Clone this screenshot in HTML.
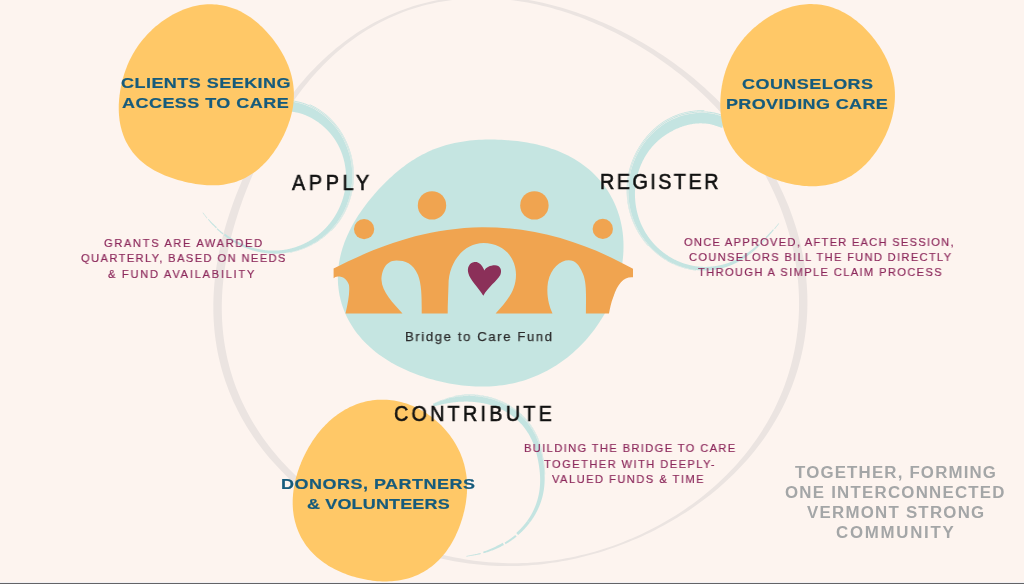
<!DOCTYPE html>
<html><head><meta charset="utf-8"><style>
html,body{margin:0;padding:0;width:1024px;height:584px;overflow:hidden;background:#fdf4ef}
svg{position:absolute;left:0;top:0}
.t{position:absolute;white-space:nowrap;font-family:"Liberation Sans",sans-serif;line-height:40px;transform-origin:0 0;will-change:transform}
</style></head><body>
<svg width="1024" height="584" viewBox="0 0 1024 584">
<rect width="1024" height="584" fill="#fdf4ef"/>
<path d="M222.81,285.13 L223.29,280.16 L223.87,275.22 L224.53,270.28 L225.27,265.37 L226.10,260.48 L227.01,255.60 L227.99,250.75 L229.04,245.92 L230.16,241.11 L231.35,236.32 L232.61,231.56 L233.93,226.82 L235.31,222.10 L236.75,217.41 L238.24,212.74 L239.79,208.09 L241.40,203.47 L243.05,198.87 L244.76,194.29 L246.51,189.73 L248.31,185.20 L250.16,180.68 L252.06,176.19 L254.01,171.72 L256.00,167.27 L258.04,162.84 L260.12,158.43 L262.25,154.04 L264.43,149.68 L266.66,145.33 L268.94,141.01 L271.28,136.70 L273.66,132.43 L276.10,128.17 L278.59,123.94 L281.14,119.74 L283.74,115.57 L286.41,111.42 L289.14,107.31 L291.93,103.23 L294.78,99.18 L297.70,95.17 L300.69,91.21 L303.74,87.28 L306.87,83.40 L310.07,79.57 L313.34,75.79 L316.68,72.06 L320.09,68.40 L323.58,64.79 L327.15,61.25 L330.79,57.77 L334.50,54.36 L338.29,51.03 L342.15,47.78 L346.09,44.61 L350.10,41.52 L354.18,38.52 L358.33,35.61 L362.55,32.80 L366.84,30.08 L371.19,27.46 L375.60,24.94 L380.08,22.53 L384.61,20.22 L389.20,18.02 L393.84,15.94 L398.53,13.96 L403.27,12.10 L408.05,10.36 L412.88,8.73 L417.74,7.22 L422.63,5.83 L427.55,4.56 L432.50,3.40 L437.48,2.36 L442.47,1.44 L447.49,0.64 L452.51,-0.05 L457.55,-0.62 L462.59,-1.08 L467.64,-1.42 L472.68,-1.66 L477.73,-1.78 L482.77,-1.80 L487.80,-1.71 L492.83,-1.51 L497.84,-1.22 L502.84,-0.82 L507.82,-0.33 L512.78,0.26 L517.72,0.93 L522.64,1.70 L527.53,2.56 L532.40,3.50 L537.25,4.52 L542.06,5.63 L546.85,6.81 L551.61,8.07 L556.34,9.40 L561.04,10.81 L565.70,12.28 L570.33,13.82 L574.94,15.43 L579.50,17.10 L584.04,18.83 L588.54,20.63 L593.01,22.48 L597.45,24.39 L601.85,26.36 L606.22,28.38 L610.55,30.46 L614.85,32.59 L619.12,34.77 L623.36,37.01 L627.56,39.30 L631.72,41.64 L635.85,44.03 L639.95,46.47 L644.02,48.96 L648.05,51.49 L652.04,54.08 L656.00,56.72 L659.93,59.41 L663.82,62.14 L667.67,64.93 L671.49,67.76 L675.27,70.64 L679.02,73.57 L682.72,76.56 L686.39,79.59 L690.02,82.67 L693.61,85.80 L697.16,88.98 L700.67,92.21 L704.14,95.49 L707.56,98.82 L710.94,102.19 L714.28,105.62 L717.57,109.10 L720.82,112.63 L724.02,116.21 L727.17,119.84 L730.27,123.52 L733.32,127.25 L736.32,131.03 L739.27,134.86 L742.17,138.74 L745.01,142.66 L747.79,146.64 L750.52,150.66 L753.19,154.73 L755.80,158.85 L758.35,163.01 L760.83,167.22 L763.26,171.48 L765.62,175.78 L767.91,180.13 L770.13,184.52 L772.28,188.96 L774.37,193.44 L776.38,197.96 L778.32,202.52 L780.18,207.12 L781.96,211.75 L783.67,216.43 L785.29,221.14 L786.83,225.89 L788.29,230.67 L789.67,235.49 L790.95,240.33 L792.15,245.21 L793.26,250.11 L794.27,255.04 L795.19,259.99 L796.02,264.97 L796.75,269.97 L797.38,274.98 L797.92,280.02 L798.35,285.06 L798.68,290.13 L798.91,295.20 L799.03,300.27 L799.05,305.36 L798.96,310.45 L798.77,315.53 L798.46,320.62 L798.05,325.70 L797.53,330.78 L796.90,335.84 L796.16,340.89 L795.31,345.93 L794.35,350.95 L793.28,355.95 L792.10,360.93 L790.81,365.88 L789.41,370.80 L787.91,375.70 L786.30,380.56 L784.58,385.38 L782.75,390.17 L780.82,394.91 L778.79,399.61 L776.66,404.27 L774.43,408.88 L772.10,413.44 L769.67,417.94 L767.15,422.40 L764.54,426.80 L761.83,431.14 L759.04,435.42 L756.16,439.64 L753.20,443.80 L750.15,447.90 L747.03,451.93 L743.83,455.90 L740.55,459.80 L737.20,463.63 L733.79,467.40 L730.30,471.09 L726.75,474.72 L723.13,478.28 L719.46,481.76 L715.73,485.18 L711.94,488.52 L708.10,491.80 L704.20,495.00 L700.26,498.13 L696.26,501.18 L692.23,504.17 L688.14,507.09 L684.02,509.93 L679.85,512.70 L675.65,515.40 L671.40,518.03 L667.13,520.58 L662.81,523.07 L658.46,525.48 L654.08,527.82 L649.67,530.09 L645.23,532.29 L640.76,534.41 L636.26,536.47 L631.74,538.45 L627.19,540.36 L622.62,542.19 L618.02,543.95 L613.39,545.64 L608.75,547.25 L604.09,548.79 L599.40,550.26 L594.70,551.64 L589.97,552.96 L585.24,554.19 L580.48,555.35 L575.71,556.43 L570.92,557.44 L566.13,558.36 L561.32,559.21 L556.49,559.97 L551.66,560.66 L546.82,561.26 L541.98,561.79 L537.13,562.23 L532.27,562.60 L527.41,562.88 L522.55,563.08 L517.68,563.20 L512.82,563.24 L507.96,563.19 L503.10,563.07 L498.24,562.87 L493.39,562.58 L488.55,562.21 L483.71,561.77 L478.89,561.24 L474.07,560.64 L469.26,559.96 L464.47,559.20 L459.69,558.36 L454.93,557.45 L450.18,556.47 L445.44,555.40 L440.72,554.27 L436.02,553.06 L431.34,551.78 L426.68,550.43 L422.04,549.01 L417.41,547.52 L412.81,545.95 L408.23,544.33 L403.68,542.63 L399.14,540.87 L394.63,539.04 L390.15,537.14 L385.68,535.18 L381.25,533.15 L376.84,531.06 L372.45,528.90 L368.10,526.68 L363.77,524.39 L359.47,522.04 L355.20,519.63 L350.96,517.15 L346.76,514.61 L342.58,512.00 L338.45,509.32 L334.34,506.59 L330.28,503.78 L326.25,500.91 L322.27,497.97 L318.32,494.97 L314.42,491.89 L310.57,488.76 L306.77,485.55 L303.01,482.27 L299.31,478.93 L295.67,475.52 L292.08,472.04 L288.55,468.49 L285.09,464.87 L281.69,461.18 L278.36,457.43 L275.10,453.60 L271.91,449.72 L268.80,445.76 L265.78,441.74 L262.83,437.65 L259.97,433.50 L257.20,429.29 L254.51,425.02 L251.93,420.69 L249.43,416.30 L247.04,411.86 L244.74,407.36 L242.55,402.81 L240.46,398.21 L238.48,393.57 L236.61,388.88 L234.84,384.15 L233.19,379.38 L231.65,374.57 L230.21,369.73 L228.90,364.86 L227.69,359.96 L226.60,355.04 L225.62,350.10 L224.76,345.13 L224.01,340.15 L223.37,335.16 L222.84,330.16 L222.42,325.15 L222.10,320.14 L221.90,315.12 L221.80,310.11 L221.80,305.10 L221.91,300.09 L222.11,295.09 L222.41,290.10Z M213.93,289.52 L213.62,294.67 L213.42,299.84 L213.33,305.02 L213.34,310.20 L213.47,315.40 L213.70,320.59 L214.05,325.78 L214.51,330.97 L215.09,336.16 L215.79,341.33 L216.61,346.49 L217.54,351.63 L218.60,356.75 L219.77,361.85 L221.06,366.92 L222.47,371.96 L224.00,376.97 L225.65,381.93 L227.41,386.86 L229.28,391.75 L231.27,396.59 L233.37,401.38 L235.58,406.12 L237.90,410.80 L240.32,415.43 L242.84,419.99 L245.47,424.50 L248.19,428.94 L251.00,433.32 L253.91,437.64 L256.90,441.88 L259.98,446.06 L263.15,450.16 L266.39,454.20 L269.71,458.16 L273.10,462.05 L276.56,465.87 L280.09,469.61 L283.69,473.28 L287.35,476.88 L291.06,480.40 L294.84,483.85 L298.66,487.23 L302.54,490.53 L306.47,493.76 L310.45,496.92 L314.47,500.01 L318.53,503.03 L322.63,505.97 L326.77,508.85 L330.96,511.65 L335.17,514.38 L339.42,517.05 L343.71,519.64 L348.03,522.17 L352.37,524.63 L356.75,527.02 L361.16,529.35 L365.59,531.60 L370.05,533.79 L374.54,535.91 L379.06,537.96 L383.59,539.95 L388.16,541.86 L392.74,543.71 L397.35,545.48 L401.99,547.19 L406.64,548.83 L411.32,550.40 L416.01,551.90 L420.72,553.32 L425.46,554.67 L430.21,555.95 L434.98,557.16 L439.76,558.29 L444.56,559.35 L449.38,560.33 L454.21,561.24 L459.05,562.07 L463.90,562.82 L468.77,563.49 L473.64,564.09 L478.53,564.61 L483.41,565.05 L488.31,565.41 L493.21,565.69 L498.12,565.89 L503.02,566.01 L507.93,566.05 L512.84,566.01 L517.75,565.90 L522.65,565.70 L527.55,565.42 L532.45,565.07 L537.34,564.64 L542.23,564.13 L547.10,563.54 L551.97,562.87 L556.83,562.13 L561.68,561.31 L566.51,560.42 L571.34,559.46 L576.15,558.42 L580.94,557.30 L585.72,556.12 L590.49,554.86 L595.24,553.53 L599.97,552.13 L604.68,550.65 L609.38,549.11 L614.05,547.50 L618.71,545.82 L623.35,544.07 L627.96,542.25 L632.55,540.37 L637.12,538.41 L641.67,536.39 L646.19,534.30 L650.69,532.14 L655.16,529.92 L659.61,527.62 L664.03,525.26 L668.42,522.83 L672.78,520.33 L677.10,517.76 L681.40,515.12 L685.66,512.41 L689.88,509.63 L694.07,506.77 L698.22,503.85 L702.33,500.85 L706.40,497.78 L710.42,494.64 L714.39,491.43 L718.32,488.14 L722.20,484.78 L726.02,481.34 L729.79,477.83 L733.49,474.25 L737.14,470.59 L740.72,466.86 L744.24,463.05 L747.69,459.17 L751.07,455.22 L754.37,451.20 L757.60,447.10 L760.74,442.93 L763.81,438.70 L766.78,434.39 L769.67,430.02 L772.47,425.58 L775.18,421.08 L777.79,416.51 L780.30,411.89 L782.71,407.21 L785.02,402.47 L787.22,397.68 L789.31,392.83 L791.30,387.94 L793.18,383.00 L794.94,378.02 L796.59,373.00 L798.13,367.94 L799.55,362.85 L800.85,357.72 L802.04,352.57 L803.11,347.39 L804.06,342.19 L804.89,336.97 L805.60,331.74 L806.20,326.49 L806.68,321.24 L807.03,315.97 L807.28,310.71 L807.40,305.44 L807.41,300.18 L807.31,294.92 L807.09,289.68 L806.77,284.44 L806.33,279.22 L805.78,274.01 L805.12,268.83 L804.36,263.66 L803.50,258.52 L802.53,253.41 L801.46,248.32 L800.30,243.27 L799.03,238.24 L797.68,233.25 L796.23,228.30 L794.69,223.38 L793.06,218.51 L791.34,213.67 L789.54,208.87 L787.66,204.12 L785.69,199.41 L783.65,194.74 L781.53,190.13 L779.33,185.55 L777.06,181.03 L774.72,176.55 L772.31,172.13 L769.83,167.75 L767.29,163.42 L764.68,159.14 L762.01,154.92 L759.27,150.74 L756.48,146.62 L753.62,142.55 L750.71,138.53 L747.74,134.56 L744.72,130.65 L741.65,126.79 L738.52,122.99 L735.35,119.23 L732.12,115.53 L728.85,111.89 L725.52,108.29 L722.16,104.75 L718.74,101.27 L715.29,97.83 L711.79,94.45 L708.24,91.13 L704.66,87.85 L701.04,84.63 L697.37,81.46 L693.67,78.35 L689.93,75.28 L686.15,72.27 L682.34,69.31 L678.49,66.40 L674.60,63.55 L670.68,60.74 L666.73,57.99 L662.74,55.28 L658.71,52.63 L654.65,50.03 L650.56,47.48 L646.44,44.98 L642.28,42.53 L638.09,40.14 L633.87,37.79 L629.61,35.50 L625.33,33.26 L621.01,31.07 L616.65,28.94 L612.27,26.86 L607.85,24.83 L603.40,22.86 L598.92,20.95 L594.41,19.09 L589.86,17.30 L585.29,15.56 L580.68,13.88 L576.04,12.27 L571.37,10.72 L566.66,9.23 L561.93,7.81 L557.17,6.47 L552.38,5.19 L547.55,3.98 L542.71,2.86 L537.83,1.80 L532.93,0.83 L528.00,-0.06 L523.05,-0.87 L518.08,-1.59 L513.08,-2.22 L508.07,-2.76 L503.04,-3.21 L497.99,-3.57 L492.93,-3.83 L487.86,-3.99 L482.78,-4.04 L477.69,-4.00 L472.60,-3.85 L467.51,-3.59 L462.41,-3.23 L457.33,-2.76 L452.24,-2.17 L447.17,-1.48 L442.11,-0.67 L437.07,0.26 L432.04,1.29 L427.04,2.45 L422.06,3.71 L417.11,5.09 L412.19,6.59 L407.30,8.20 L402.46,9.92 L397.65,11.76 L392.89,13.71 L388.17,15.76 L383.50,17.93 L378.88,20.21 L374.32,22.58 L369.81,25.07 L365.37,27.65 L360.98,30.33 L356.65,33.11 L352.39,35.98 L348.20,38.94 L344.07,41.99 L340.02,45.13 L336.03,48.34 L332.11,51.64 L328.26,55.01 L324.49,58.45 L320.78,61.96 L317.15,65.53 L313.59,69.17 L310.10,72.87 L306.68,76.62 L303.34,80.42 L300.06,84.28 L296.85,88.18 L293.71,92.13 L290.63,96.12 L287.62,100.15 L284.68,104.21 L281.79,108.32 L278.97,112.45 L276.21,116.62 L273.51,120.81 L270.87,125.04 L268.28,129.29 L265.75,133.57 L263.27,137.88 L260.85,142.21 L258.48,146.57 L256.16,150.95 L253.89,155.35 L251.67,159.78 L249.50,164.24 L247.38,168.71 L245.31,173.22 L243.29,177.74 L241.32,182.30 L239.40,186.88 L237.54,191.49 L235.73,196.12 L233.97,200.78 L232.26,205.47 L230.62,210.19 L229.03,214.94 L227.51,219.72 L226.04,224.52 L224.65,229.36 L223.32,234.22 L222.06,239.12 L220.87,244.04 L219.76,249.00 L218.72,253.98 L217.77,258.98 L216.90,264.02 L216.12,269.07 L215.43,274.15 L214.83,279.26 L214.33,284.38Z" fill="#ebe4e1" fill-rule="evenodd"/>
<path d="M291.97,101.49 L292.22,101.55 L292.49,101.62 L292.80,101.69 L293.16,101.77 L293.55,101.86 L293.98,101.95 L294.43,102.05 L294.92,102.15 L295.42,102.26 L295.94,102.38 L296.48,102.50 L297.04,102.62 L297.61,102.75 L298.19,102.88 L298.77,103.02 L299.36,103.16 L299.95,103.31 L300.54,103.46 L301.12,103.62 L301.71,103.78 L302.28,103.95 L302.85,104.13 L303.41,104.31 L303.94,104.49 L304.45,104.67 L304.95,104.85 L305.44,105.04 L305.94,105.23 L306.44,105.43 L306.93,105.63 L307.43,105.83 L307.92,106.04 L308.41,106.25 L308.90,106.46 L309.39,106.68 L309.87,106.91 L310.36,107.13 L310.84,107.37 L311.33,107.60 L311.81,107.84 L312.28,108.08 L312.76,108.33 L313.24,108.58 L313.71,108.83 L314.18,109.09 L314.65,109.35 L315.11,109.61 L315.57,109.87 L316.03,110.15 L316.49,110.42 L316.95,110.70 L317.41,110.98 L317.86,111.27 L318.32,111.56 L318.77,111.85 L319.21,112.15 L319.66,112.45 L320.11,112.76 L320.55,113.07 L320.99,113.38 L321.43,113.69 L321.86,114.01 L322.30,114.33 L322.73,114.66 L323.16,114.98 L323.58,115.31 L324.01,115.65 L324.43,115.99 L324.84,116.33 L325.26,116.67 L325.67,117.01 L326.08,117.36 L326.49,117.72 L326.89,118.07 L327.29,118.43 L327.69,118.80 L328.08,119.16 L328.48,119.53 L328.87,119.91 L329.26,120.28 L329.64,120.66 L330.02,121.05 L330.40,121.43 L330.78,121.82 L331.16,122.21 L331.53,122.60 L331.90,123.00 L332.26,123.40 L332.63,123.80 L332.99,124.20 L333.34,124.61 L333.70,125.02 L334.05,125.43 L334.39,125.84 L334.74,126.26 L335.08,126.67 L335.41,127.09 L335.75,127.52 L336.08,127.94 L336.41,128.37 L336.73,128.80 L337.06,129.24 L337.38,129.67 L337.69,130.11 L338.01,130.55 L338.32,131.00 L338.63,131.44 L338.93,131.89 L339.23,132.34 L339.53,132.79 L339.82,133.25 L340.11,133.70 L340.40,134.16 L340.69,134.62 L340.97,135.08 L341.24,135.54 L341.52,136.01 L341.79,136.47 L342.05,136.94 L342.32,137.41 L342.58,137.88 L342.84,138.35 L343.09,138.82 L343.35,139.30 L343.60,139.78 L343.84,140.26 L344.08,140.74 L344.32,141.22 L344.56,141.71 L344.79,142.20 L345.02,142.69 L345.25,143.18 L345.47,143.67 L345.69,144.16 L345.90,144.66 L346.11,145.15 L346.32,145.65 L346.53,146.15 L346.73,146.65 L346.93,147.15 L347.12,147.65 L347.31,148.15 L347.49,148.65 L347.68,149.16 L347.86,149.66 L348.03,150.17 L348.21,150.67 L348.38,151.18 L348.54,151.69 L348.71,152.20 L348.87,152.72 L349.02,153.23 L349.17,153.75 L349.32,154.26 L349.47,154.78 L349.61,155.30 L349.75,155.82 L349.88,156.34 L350.01,156.86 L350.14,157.38 L350.26,157.90 L350.38,158.42 L350.50,158.94 L350.61,159.47 L350.72,159.99 L350.82,160.51 L350.92,161.03 L351.02,161.56 L351.12,162.08 L351.21,162.60 L351.29,163.13 L351.38,163.66 L351.46,164.18 L351.53,164.71 L351.61,165.24 L351.68,165.77 L351.74,166.30 L351.80,166.83 L351.86,167.36 L351.92,167.89 L351.97,168.42 L352.01,168.95 L352.06,169.48 L352.10,170.01 L352.14,170.54 L352.17,171.06 L352.20,171.59 L352.22,172.12 L352.25,172.65 L352.27,173.18 L352.28,173.70 L352.29,174.23 L352.30,174.76 L352.31,175.29 L352.31,175.81 L352.31,176.34 L352.30,176.87 L352.30,177.40 L352.28,177.92 L352.27,178.45 L352.25,178.98 L352.22,179.50 L352.20,180.03 L352.17,180.56 L352.13,181.08 L352.10,181.61 L352.06,182.13 L352.01,182.66 L351.97,183.18 L351.92,183.70 L351.86,184.22 L351.80,184.74 L351.74,185.26 L351.68,185.78 L351.61,186.29 L351.54,186.81 L351.47,187.32 L351.39,187.84 L351.31,188.35 L351.23,188.87 L351.14,189.38 L351.05,189.89 L350.95,190.41 L350.86,190.92 L350.75,191.43 L350.65,191.94 L350.54,192.45 L350.43,192.95 L350.32,193.46 L350.20,193.96 L350.08,194.47 L349.95,194.97 L349.83,195.47 L349.70,195.97 L349.56,196.47 L349.43,196.97 L349.29,197.46 L349.14,197.96 L349.00,198.45 L348.85,198.94 L348.70,199.43 L348.55,199.92 L348.39,200.41 L348.23,200.89 L348.06,201.38 L347.89,201.86 L347.72,202.35 L347.55,202.83 L347.37,203.31 L347.19,203.79 L347.01,204.26 L346.82,204.74 L346.64,205.21 L346.44,205.69 L346.25,206.16 L346.05,206.63 L345.85,207.09 L345.65,207.56 L345.44,208.02 L345.24,208.49 L345.03,208.94 L344.81,209.40 L344.60,209.86 L344.38,210.31 L344.16,210.76 L343.93,211.21 L343.70,211.66 L343.47,212.11 L343.24,212.55 L343.00,213.00 L342.76,213.44 L342.52,213.88 L342.27,214.32 L342.02,214.75 L341.77,215.19 L341.52,215.62 L341.26,216.05 L341.00,216.48 L340.74,216.90 L340.48,217.33 L340.22,217.75 L339.95,218.17 L339.68,218.59 L339.41,219.00 L339.13,219.41 L338.86,219.82 L338.58,220.23 L338.30,220.64 L338.02,221.04 L337.73,221.44 L337.44,221.84 L337.15,222.24 L336.86,222.63 L336.56,223.03 L336.27,223.42 L335.97,223.81 L335.66,224.19 L335.36,224.58 L335.05,224.96 L334.74,225.34 L334.43,225.72 L334.12,226.09 L333.81,226.47 L333.49,226.84 L333.17,227.20 L332.85,227.57 L332.53,227.93 L332.21,228.29 L331.88,228.65 L331.55,229.01 L331.23,229.36 L330.90,229.71 L330.57,230.06 L330.23,230.40 L329.89,230.75 L329.56,231.09 L329.22,231.43 L328.87,231.76 L328.53,232.10 L328.18,232.43 L327.83,232.76 L327.48,233.08 L327.13,233.41 L326.78,233.73 L326.43,234.05 L326.07,234.37 L325.71,234.68 L325.35,234.99 L324.99,235.30 L324.63,235.60 L324.27,235.91 L323.91,236.21 L323.54,236.51 L323.18,236.80 L322.81,237.09 L322.44,237.38 L322.07,237.67 L321.70,237.96 L321.33,238.24 L320.95,238.52 L320.58,238.80 L320.20,239.07 L319.82,239.35 L319.44,239.62 L319.06,239.88 L318.68,240.15 L318.29,240.41 L317.91,240.67 L317.52,240.92 L317.13,241.18 L316.75,241.43 L316.36,241.68 L315.97,241.92 L315.58,242.17 L315.19,242.41 L314.79,242.65 L314.40,242.88 L314.01,243.11 L313.61,243.34 L313.22,243.57 L312.83,243.80 L312.43,244.02 L312.03,244.24 L311.63,244.46 L311.23,244.67 L310.83,244.88 L310.43,245.09 L310.02,245.30 L309.62,245.50 L309.22,245.70 L308.81,245.90 L308.41,246.10 L308.00,246.29 L307.59,246.48 L307.18,246.67 L306.78,246.85 L306.37,247.04 L305.96,247.22 L305.55,247.39 L305.14,247.57 L304.73,247.74 L304.32,247.91 L303.92,248.08 L303.51,248.24 L303.10,248.41 L302.68,248.57 L302.27,248.72 L301.86,248.88 L301.45,249.03 L301.03,249.18 L300.62,249.32 L300.20,249.47 L299.79,249.61 L299.37,249.75 L298.96,249.89 L298.54,250.02 L298.13,250.15 L297.71,250.28 L297.30,250.40 L296.88,250.53 L296.46,250.65 L296.05,250.77 L295.63,250.88 L295.22,251.00 L294.80,251.11 L294.39,251.22 L293.97,251.32 L293.56,251.43 L293.14,251.53 L292.73,251.63 L292.31,251.72 L291.90,251.82 L291.48,251.91 L291.06,252.00 L290.65,252.08 L290.23,252.17 L289.82,252.25 L289.40,252.33 L288.98,252.40 L288.57,252.48 L288.15,252.55 L287.74,252.62 L287.32,252.68 L286.91,252.75 L286.49,252.81 L286.08,252.87 L285.67,252.93 L285.25,252.98 L284.84,253.04 L284.43,253.09 L284.02,253.13 L283.61,253.18 L283.20,253.23 L282.79,253.27 L282.37,253.31 L281.96,253.35 L281.55,253.39 L281.14,253.42 L280.73,253.45 L280.33,253.48 L279.92,253.51 L279.51,253.53 L279.10,253.56 L278.69,253.58 L278.28,253.60 L277.88,253.61 L277.47,253.63 L277.07,253.64 L276.66,253.65 L276.26,253.65 L275.85,253.66 L275.45,253.66 L275.05,253.67 L274.65,253.66 L274.25,253.66 L273.85,253.66 L273.45,253.65 L273.05,253.64 L272.65,253.63 L272.25,253.62 L271.85,253.61 L271.46,253.59 L271.06,253.57 L270.66,253.55 L270.27,253.52 L269.87,253.50 L269.48,253.47 L269.09,253.44 L268.69,253.41 L268.30,253.38 L267.91,253.34 L267.52,253.30 L267.13,253.26 L266.74,253.22 L266.36,253.18 L265.97,253.14 L265.58,253.09 L265.20,253.04 L264.81,252.99 L264.43,252.94 L264.05,252.89 L263.67,252.83 L263.28,252.78 L262.90,252.72 L262.52,252.66 L262.14,252.59 L261.76,252.53 L261.39,252.46 L261.01,252.40 L260.63,252.33 L260.26,252.25 L259.88,252.18 L259.51,252.10 L259.14,252.03 L258.77,251.95 L258.40,251.87 L258.03,251.79 L257.66,251.70 L257.29,251.62 L256.92,251.53 L256.56,251.44 L256.19,251.36 L255.83,251.27 L255.47,251.17 L255.11,251.08 L254.74,250.98 L254.38,250.89 L254.02,250.79 L253.67,250.69 L253.31,250.58 L252.95,250.48 L252.60,250.38 L252.24,250.27 L251.89,250.16 L251.53,250.05 L251.18,249.94 L250.83,249.83 L250.48,249.71 L250.13,249.59 L249.78,249.48 L249.44,249.36 L249.09,249.24 L248.75,249.12 L248.40,249.00 L248.06,248.87 L247.72,248.75 L247.38,248.62 L247.04,248.49 L246.70,248.37 L246.36,248.24 L246.02,248.10 L245.68,247.97 L245.35,247.84 L245.01,247.70 L244.68,247.56 L244.35,247.42 L244.02,247.28 L243.69,247.14 L243.36,247.00 L243.03,246.86 L242.70,246.71 L242.38,246.56 L242.05,246.42 L241.73,246.27 L241.40,246.12 L241.08,245.97 L240.76,245.82 L240.44,245.66 L240.12,245.51 L239.80,245.35 L239.49,245.20 L239.17,245.04 L238.85,244.88 L238.54,244.72 L238.23,244.56 L237.91,244.40 L237.60,244.24 L237.29,244.07 L236.98,243.90 L236.67,243.74 L236.37,243.57 L236.06,243.40 L235.76,243.23 L235.45,243.06 L235.15,242.89 L234.84,242.71 L234.54,242.54 L234.24,242.36 L233.94,242.19 L233.64,242.01 L234.77,240.09 L235.06,240.26 L235.36,240.42 L235.66,240.59 L235.95,240.75 L236.25,240.91 L236.55,241.07 L236.85,241.23 L237.15,241.39 L237.46,241.55 L237.76,241.71 L238.06,241.86 L238.37,242.02 L238.67,242.17 L238.98,242.32 L239.28,242.47 L239.59,242.62 L239.90,242.77 L240.21,242.92 L240.52,243.06 L240.83,243.21 L241.15,243.35 L241.46,243.50 L241.78,243.64 L242.09,243.78 L242.41,243.92 L242.72,244.06 L243.04,244.20 L243.36,244.34 L243.68,244.47 L244.00,244.61 L244.32,244.74 L244.64,244.88 L244.97,245.01 L245.29,245.14 L245.62,245.26 L245.94,245.39 L246.27,245.52 L246.59,245.64 L246.92,245.76 L247.25,245.88 L247.58,246.00 L247.91,246.12 L248.24,246.24 L248.58,246.35 L248.91,246.47 L249.25,246.58 L249.58,246.70 L249.92,246.81 L250.26,246.92 L250.60,247.03 L250.94,247.13 L251.28,247.24 L251.62,247.34 L251.96,247.45 L252.30,247.55 L252.64,247.65 L252.99,247.75 L253.33,247.85 L253.68,247.94 L254.02,248.04 L254.37,248.13 L254.72,248.22 L255.07,248.31 L255.42,248.39 L255.77,248.48 L256.12,248.56 L256.47,248.65 L256.82,248.73 L257.18,248.81 L257.53,248.89 L257.89,248.96 L258.25,249.04 L258.61,249.11 L258.97,249.18 L259.32,249.26 L259.69,249.32 L260.05,249.39 L260.41,249.46 L260.77,249.52 L261.13,249.58 L261.50,249.65 L261.86,249.70 L262.23,249.76 L262.59,249.82 L262.96,249.87 L263.32,249.92 L263.69,249.97 L264.06,250.02 L264.43,250.07 L264.79,250.11 L265.17,250.15 L265.54,250.19 L265.91,250.23 L266.28,250.27 L266.66,250.30 L267.03,250.34 L267.41,250.37 L267.78,250.40 L268.16,250.43 L268.54,250.45 L268.92,250.48 L269.29,250.50 L269.67,250.52 L270.05,250.54 L270.43,250.56 L270.81,250.57 L271.19,250.59 L271.57,250.60 L271.95,250.61 L272.34,250.62 L272.72,250.62 L273.10,250.62 L273.48,250.62 L273.87,250.62 L274.25,250.62 L274.64,250.61 L275.02,250.60 L275.41,250.59 L275.80,250.58 L276.18,250.57 L276.57,250.55 L276.96,250.54 L277.35,250.52 L277.74,250.50 L278.13,250.47 L278.52,250.45 L278.91,250.42 L279.30,250.39 L279.69,250.36 L280.08,250.32 L280.47,250.29 L280.87,250.25 L281.26,250.21 L281.65,250.17 L282.04,250.12 L282.43,250.07 L282.82,250.02 L283.21,249.97 L283.60,249.91 L284.00,249.85 L284.39,249.79 L284.79,249.73 L285.18,249.66 L285.57,249.59 L285.97,249.52 L286.36,249.45 L286.76,249.38 L287.15,249.30 L287.55,249.22 L287.94,249.14 L288.34,249.05 L288.73,248.97 L289.13,248.88 L289.52,248.79 L289.91,248.70 L290.31,248.60 L290.70,248.50 L291.09,248.40 L291.49,248.30 L291.88,248.20 L292.27,248.09 L292.66,247.98 L293.05,247.87 L293.45,247.75 L293.84,247.64 L294.23,247.52 L294.63,247.40 L295.02,247.27 L295.41,247.15 L295.80,247.02 L296.20,246.89 L296.59,246.75 L296.98,246.62 L297.37,246.48 L297.76,246.34 L298.15,246.20 L298.54,246.05 L298.93,245.91 L299.32,245.76 L299.71,245.61 L300.10,245.45 L300.48,245.30 L300.87,245.14 L301.25,244.98 L301.64,244.81 L302.02,244.65 L302.40,244.48 L302.79,244.30 L303.17,244.13 L303.55,243.95 L303.94,243.77 L304.32,243.59 L304.70,243.41 L305.08,243.22 L305.46,243.03 L305.84,242.84 L306.22,242.65 L306.60,242.45 L306.98,242.25 L307.36,242.05 L307.73,241.85 L308.11,241.64 L308.48,241.43 L308.86,241.22 L309.23,241.01 L309.60,240.80 L309.97,240.58 L310.33,240.36 L310.70,240.14 L311.07,239.91 L311.43,239.69 L311.80,239.46 L312.16,239.22 L312.52,238.99 L312.89,238.75 L313.25,238.51 L313.61,238.27 L313.97,238.02 L314.33,237.78 L314.69,237.53 L315.05,237.27 L315.40,237.02 L315.76,236.76 L316.11,236.50 L316.46,236.24 L316.81,235.98 L317.16,235.71 L317.51,235.45 L317.86,235.18 L318.20,234.90 L318.54,234.63 L318.88,234.35 L319.22,234.07 L319.56,233.79 L319.90,233.51 L320.23,233.22 L320.57,232.93 L320.90,232.64 L321.24,232.35 L321.57,232.05 L321.90,231.75 L322.23,231.45 L322.55,231.14 L322.88,230.84 L323.21,230.53 L323.53,230.22 L323.85,229.91 L324.17,229.59 L324.49,229.28 L324.80,228.96 L325.12,228.64 L325.43,228.32 L325.74,227.99 L326.05,227.66 L326.35,227.34 L326.66,227.00 L326.96,226.67 L327.26,226.34 L327.55,226.00 L327.85,225.66 L328.15,225.32 L328.44,224.97 L328.74,224.62 L329.03,224.27 L329.32,223.92 L329.60,223.57 L329.89,223.21 L330.17,222.86 L330.45,222.50 L330.73,222.13 L331.01,221.77 L331.29,221.40 L331.56,221.04 L331.83,220.67 L332.10,220.30 L332.37,219.92 L332.63,219.55 L332.89,219.17 L333.15,218.79 L333.41,218.41 L333.66,218.03 L333.91,217.65 L334.16,217.27 L334.41,216.88 L334.66,216.49 L334.90,216.09 L335.14,215.70 L335.38,215.30 L335.62,214.91 L335.86,214.51 L336.09,214.10 L336.32,213.70 L336.55,213.29 L336.78,212.89 L337.00,212.48 L337.22,212.07 L337.44,211.66 L337.66,211.24 L337.87,210.83 L338.09,210.41 L338.29,209.99 L338.50,209.58 L338.70,209.16 L338.90,208.73 L339.10,208.31 L339.29,207.89 L339.49,207.46 L339.68,207.04 L339.87,206.61 L340.06,206.18 L340.24,205.74 L340.42,205.31 L340.60,204.87 L340.78,204.43 L340.96,204.00 L341.13,203.55 L341.30,203.11 L341.47,202.67 L341.63,202.22 L341.79,201.78 L341.95,201.33 L342.11,200.88 L342.26,200.43 L342.41,199.98 L342.55,199.53 L342.70,199.08 L342.84,198.63 L342.98,198.18 L343.11,197.72 L343.24,197.27 L343.37,196.81 L343.49,196.35 L343.62,195.89 L343.74,195.43 L343.86,194.97 L343.97,194.50 L344.08,194.04 L344.19,193.57 L344.30,193.10 L344.40,192.64 L344.50,192.17 L344.60,191.70 L344.69,191.22 L344.78,190.75 L344.87,190.28 L344.95,189.81 L345.04,189.33 L345.11,188.86 L345.19,188.38 L345.26,187.91 L345.33,187.43 L345.40,186.96 L345.46,186.49 L345.52,186.01 L345.57,185.53 L345.62,185.05 L345.67,184.58 L345.72,184.10 L345.76,183.61 L345.80,183.13 L345.84,182.65 L345.87,182.17 L345.90,181.68 L345.93,181.20 L345.96,180.71 L345.98,180.23 L346.00,179.74 L346.01,179.26 L346.02,178.77 L346.03,178.28 L346.04,177.80 L346.04,177.31 L346.04,176.83 L346.03,176.34 L346.02,175.86 L346.01,175.38 L346.00,174.89 L345.98,174.41 L345.96,173.93 L345.93,173.44 L345.90,172.96 L345.87,172.47 L345.83,171.99 L345.79,171.50 L345.75,171.01 L345.70,170.53 L345.65,170.04 L345.60,169.56 L345.54,169.07 L345.48,168.59 L345.42,168.10 L345.35,167.62 L345.29,167.13 L345.21,166.65 L345.14,166.17 L345.06,165.68 L344.98,165.20 L344.89,164.72 L344.80,164.24 L344.71,163.77 L344.62,163.29 L344.52,162.82 L344.41,162.34 L344.31,161.87 L344.20,161.39 L344.09,160.91 L343.97,160.44 L343.85,159.96 L343.73,159.49 L343.60,159.02 L343.47,158.54 L343.34,158.07 L343.20,157.60 L343.06,157.13 L342.92,156.66 L342.77,156.19 L342.63,155.73 L342.47,155.26 L342.32,154.80 L342.16,154.33 L342.00,153.87 L341.84,153.41 L341.67,152.95 L341.50,152.50 L341.32,152.04 L341.15,151.59 L340.97,151.14 L340.78,150.69 L340.59,150.24 L340.40,149.79 L340.20,149.34 L340.00,148.90 L339.80,148.45 L339.60,148.01 L339.39,147.56 L339.18,147.12 L338.96,146.68 L338.74,146.24 L338.52,145.80 L338.30,145.37 L338.07,144.93 L337.84,144.50 L337.61,144.07 L337.38,143.65 L337.14,143.22 L336.90,142.80 L336.65,142.38 L336.41,141.96 L336.16,141.54 L335.91,141.13 L335.65,140.72 L335.39,140.31 L335.12,139.91 L334.86,139.50 L334.58,139.10 L334.31,138.69 L334.03,138.29 L333.75,137.90 L333.47,137.50 L333.18,137.10 L332.89,136.71 L332.60,136.32 L332.31,135.93 L332.01,135.55 L331.71,135.17 L331.41,134.79 L331.11,134.41 L330.80,134.03 L330.49,133.66 L330.18,133.29 L329.87,132.93 L329.56,132.56 L329.24,132.20 L328.92,131.85 L328.60,131.49 L328.27,131.14 L327.95,130.79 L327.62,130.44 L327.28,130.09 L326.95,129.75 L326.61,129.40 L326.27,129.06 L325.92,128.73 L325.58,128.39 L325.23,128.06 L324.88,127.73 L324.53,127.40 L324.17,127.08 L323.81,126.76 L323.46,126.44 L323.09,126.13 L322.73,125.81 L322.37,125.51 L322.00,125.20 L321.64,124.90 L321.27,124.60 L320.90,124.31 L320.53,124.02 L320.16,123.73 L319.78,123.44 L319.41,123.15 L319.03,122.87 L318.65,122.59 L318.26,122.31 L317.88,122.03 L317.49,121.76 L317.10,121.49 L316.71,121.22 L316.31,120.96 L315.92,120.70 L315.52,120.44 L315.13,120.19 L314.73,119.93 L314.32,119.69 L313.92,119.44 L313.52,119.20 L313.11,118.96 L312.71,118.73 L312.30,118.50 L311.90,118.28 L311.49,118.05 L311.08,117.83 L310.67,117.62 L310.26,117.40 L309.85,117.19 L309.43,116.99 L309.01,116.78 L308.59,116.58 L308.17,116.38 L307.75,116.19 L307.33,116.00 L306.90,115.81 L306.48,115.63 L306.05,115.44 L305.62,115.27 L305.19,115.09 L304.76,114.92 L304.33,114.75 L303.90,114.59 L303.47,114.43 L303.04,114.28 L302.60,114.12 L302.17,113.98 L301.74,113.83 L301.31,113.69 L300.89,113.56 L300.49,113.44 L300.08,113.32 L299.63,113.20 L299.16,113.09 L298.68,112.97 L298.17,112.85 L297.66,112.73 L297.13,112.62 L296.60,112.51 L296.07,112.40 L295.53,112.29 L295.00,112.19 L294.48,112.09 L293.96,112.00 L293.46,111.90 L292.97,111.82 L292.49,111.73 L292.03,111.65 L291.60,111.57 L291.18,111.50 L290.78,111.43 L290.41,111.37 L290.05,111.30 L289.75,111.24Z" fill="#c4e4e1"/>
<path d="M233.64,242.01 L233.35,241.83 L233.05,241.65 L232.75,241.47 L232.46,241.29 L232.17,241.11 L231.87,240.93 L231.58,240.74 L231.29,240.56 L231.00,240.37 L230.71,240.19 L230.42,240.00 L230.13,239.81 L229.85,239.62 L229.56,239.43 L229.28,239.24 L228.99,239.05 L228.71,238.85 L228.43,238.66 L228.15,238.46 L227.87,238.27 L227.59,238.07 L227.31,237.87 L227.03,237.67 L226.76,237.47 L226.48,237.27 L226.21,237.07 L225.93,236.87 L225.66,236.67 L225.39,236.46 L225.12,236.26 L224.85,236.05 L224.58,235.84 L224.31,235.63 L224.04,235.42 L223.78,235.21 L224.93,233.71 L225.20,233.90 L225.47,234.10 L225.75,234.29 L226.02,234.48 L226.29,234.67 L226.56,234.86 L226.84,235.05 L227.11,235.25 L227.38,235.44 L227.66,235.63 L227.93,235.82 L228.21,236.01 L228.48,236.20 L228.76,236.38 L229.04,236.57 L229.32,236.75 L229.60,236.94 L229.88,237.12 L230.16,237.30 L230.44,237.49 L230.72,237.67 L231.01,237.85 L231.29,238.02 L231.57,238.20 L231.86,238.38 L232.15,238.55 L232.43,238.73 L232.72,238.90 L233.01,239.07 L233.30,239.24 L233.59,239.41 L233.89,239.58 L234.18,239.75 L234.47,239.92 L234.77,240.09Z" fill="#c4e4e1"/>
<path d="M222.66,234.44 L222.40,234.23 L222.14,234.01 L221.88,233.79 L221.62,233.57 L221.36,233.35 L221.11,233.13 L220.85,232.91 L220.60,232.69 L220.34,232.46 L220.09,232.24 L219.84,232.02 L219.59,231.79 L219.34,231.56 L219.09,231.34 L218.84,231.11 L218.59,230.88 L218.34,230.65 L218.09,230.42 L217.84,230.19 L217.60,229.96 L217.35,229.73 L217.11,229.50 L216.86,229.26 L216.62,229.03 L217.34,228.26 L217.59,228.48 L217.84,228.70 L218.09,228.92 L218.34,229.14 L218.59,229.36 L218.84,229.58 L219.10,229.80 L219.35,230.01 L219.60,230.23 L219.86,230.45 L220.12,230.66 L220.37,230.87 L220.63,231.09 L220.89,231.30 L221.15,231.51 L221.41,231.72 L221.67,231.93 L221.93,232.14 L222.19,232.35 L222.45,232.55 L222.71,232.76 L222.98,232.97 L223.24,233.17 L223.51,233.37Z" fill="#c4e4e1"/>
<path d="M215.96,228.26 L215.72,228.02 L215.48,227.79 L215.24,227.55 L215.00,227.31 L214.76,227.07 L214.52,226.83 L214.29,226.59 L214.05,226.35 L213.82,226.10 L213.58,225.86 L213.35,225.62 L213.11,225.37 L212.88,225.13 L212.65,224.88 L212.41,224.63 L212.18,224.39 L211.95,224.14 L211.72,223.89 L211.49,223.64 L211.26,223.39 L211.03,223.14 L210.80,222.89 L210.57,222.64 L210.35,222.38 L210.12,222.13 L209.89,221.88 L209.67,221.62 L209.44,221.36 L209.22,221.10 L209.00,220.85 L208.77,220.59 L208.55,220.33 L208.33,220.07 L208.11,219.80 L207.89,219.54 L208.58,218.95 L208.81,219.20 L209.03,219.45 L209.26,219.71 L209.49,219.96 L209.72,220.21 L209.95,220.46 L210.18,220.71 L210.41,220.95 L210.64,221.20 L210.87,221.44 L211.11,221.69 L211.34,221.93 L211.57,222.18 L211.81,222.42 L212.04,222.66 L212.28,222.90 L212.51,223.14 L212.75,223.38 L212.99,223.61 L213.22,223.85 L213.46,224.09 L213.70,224.32 L213.94,224.56 L214.18,224.79 L214.43,225.02 L214.67,225.25 L214.91,225.48 L215.16,225.70 L215.40,225.93 L215.65,226.16 L215.90,226.38 L216.14,226.61 L216.39,226.83 L216.64,227.05 L216.89,227.27Z" fill="#c4e4e1"/>
<path d="M206.93,218.46 L206.69,218.16 L206.45,217.85 L206.20,217.54 L205.95,217.22 L205.70,216.90 L205.45,216.58 L205.21,216.26 L204.96,215.94 L204.72,215.62 L204.49,215.31 L204.26,215.01 L204.03,214.72 L203.82,214.43 L203.61,214.16 L203.42,213.90 L203.23,213.65 L203.06,213.43 L202.90,213.21 L202.76,213.02 L202.63,212.85 L202.52,212.70 L202.90,212.40 L203.02,212.55 L203.15,212.72 L203.30,212.90 L203.47,213.11 L203.65,213.34 L203.84,213.58 L204.04,213.83 L204.25,214.10 L204.47,214.38 L204.70,214.67 L204.94,214.96 L205.18,215.27 L205.42,215.58 L205.67,215.89 L205.92,216.20 L206.18,216.52 L206.43,216.83 L206.69,217.14 L206.94,217.45 L207.19,217.75 L207.43,218.05Z" fill="#c4e4e1"/>
<path d="M292.28,100.15 L292.51,100.21 L292.77,100.28 L293.08,100.35 L293.43,100.44 L293.82,100.52 L294.25,100.62 L294.70,100.72 L295.18,100.83 L295.69,100.94 L296.22,101.05 L296.76,101.18 L297.32,101.30 L297.89,101.44 L298.48,101.57 L299.07,101.72 L299.66,101.86 L300.26,102.02 L300.86,102.17 L301.46,102.34 L302.06,102.51 L302.65,102.68 L303.23,102.86 L303.81,103.05 L304.36,103.24 L304.88,103.43 L305.39,103.62 L305.89,103.81 L306.40,104.01 L306.91,104.21 L307.41,104.42 L307.91,104.62 L308.41,104.84 L308.91,105.06 L309.41,105.28 L309.91,105.50 L310.40,105.73 L310.89,105.97 L311.39,106.20 L311.88,106.45 L312.36,106.69 L312.85,106.94 L313.33,107.19 L313.82,107.45 L314.30,107.71 L314.77,107.97 L315.25,108.24 L315.72,108.51 L316.19,108.78 L316.66,109.06 L317.13,109.34 L317.59,109.63 L318.05,109.92 L318.52,110.21 L318.97,110.51 L319.43,110.81 L319.89,111.12 L320.34,111.42 L320.79,111.74 L321.24,112.05 L321.69,112.37 L322.13,112.69 L322.57,113.02 L323.01,113.35 L323.45,113.68 L323.88,114.01 L324.31,114.35 L324.74,114.69 L325.17,115.04 L325.59,115.39 L326.01,115.74 L326.43,116.09 L326.84,116.45 L327.25,116.81 L327.66,117.17 L328.07,117.54 L328.47,117.92 L328.87,118.29 L329.27,118.67 L329.66,119.05 L330.05,119.44 L330.44,119.83 L330.83,120.22 L331.21,120.61 L331.59,121.01 L331.97,121.41 L332.35,121.81 L332.72,122.21 L333.09,122.62 L333.45,123.03 L333.82,123.44 L334.18,123.86 L334.53,124.27 L334.88,124.69 L335.23,125.11 L335.58,125.54 L335.92,125.96 L336.26,126.39 L336.60,126.82 L336.93,127.26 L337.26,127.69 L337.59,128.13 L337.92,128.58 L338.24,129.02 L338.56,129.47 L338.87,129.92 L339.18,130.37 L339.49,130.82 L339.80,131.28 L340.10,131.74 L340.40,132.20 L340.70,132.66 L340.99,133.12 L341.28,133.59 L341.56,134.06 L341.84,134.53 L342.12,135.00 L342.40,135.47 L342.67,135.94 L342.93,136.42 L343.20,136.90 L343.46,137.37 L343.72,137.85 L343.98,138.33 L344.23,138.82 L344.48,139.30 L344.73,139.79 L344.98,140.28 L345.22,140.77 L345.45,141.27 L345.69,141.76 L345.92,142.26 L346.14,142.76 L346.36,143.25 L346.58,143.76 L346.80,144.26 L347.01,144.76 L347.22,145.26 L347.42,145.77 L347.63,146.28 L347.82,146.78 L348.02,147.29 L348.21,147.80 L348.39,148.31 L348.58,148.82 L348.76,149.33 L348.93,149.84 L349.11,150.36 L349.28,150.88 L349.44,151.39 L349.61,151.91 L349.77,152.43 L349.92,152.95 L350.07,153.47 L350.22,154.00 L350.37,154.52 L350.51,155.05 L350.65,155.57 L350.78,156.10 L350.91,156.63 L351.04,157.15 L351.16,157.68 L351.28,158.21 L351.39,158.74 L351.51,159.27 L351.61,159.80 L351.72,160.32 L351.82,160.85 L351.92,161.38 L352.01,161.91 L352.10,162.44 L352.19,162.98 L352.27,163.51 L352.35,164.04 L352.42,164.58 L352.50,165.11 L352.56,165.65 L352.63,166.18 L352.69,166.72 L352.75,167.25 L352.80,167.79 L352.85,168.33 L352.90,168.86 L352.94,169.40 L352.98,169.93 L353.01,170.47 L353.05,171.00 L353.07,171.54 L353.10,172.07 L353.12,172.61 L353.14,173.14 L353.15,173.67 L353.16,174.21 L353.17,174.74 L353.17,175.27 L353.18,175.81 L353.17,176.34 L353.17,176.87 L353.16,177.41 L353.14,177.94 L353.12,178.47 L353.10,179.01 L353.08,179.54 L353.05,180.07 L353.02,180.60 L352.98,181.13 L352.94,181.66 L352.90,182.19 L352.86,182.72 L352.81,183.25 L352.76,183.78 L352.70,184.30 L352.64,184.83 L352.58,185.35 L352.51,185.88 L352.44,186.40 L352.37,186.92 L352.30,187.44 L352.22,187.96 L352.13,188.48 L352.05,189.00 L351.96,189.52 L351.86,190.04 L351.77,190.55 L351.67,191.07 L351.56,191.59 L351.46,192.10 L351.35,192.61 L351.23,193.13 L351.11,193.64 L350.99,194.15 L350.87,194.66 L350.74,195.16 L350.62,195.67 L350.48,196.17 L350.35,196.68 L350.21,197.18 L350.07,197.68 L349.92,198.18 L349.77,198.67 L349.62,199.17 L349.47,199.66 L349.31,200.16 L349.15,200.65 L348.99,201.14 L348.82,201.63 L348.65,202.12 L348.48,202.61 L348.30,203.10 L348.12,203.58 L347.94,204.06 L347.75,204.55 L347.56,205.03 L347.37,205.50 L347.17,205.98 L346.98,206.46 L346.78,206.93 L346.57,207.40 L346.37,207.87 L346.16,208.34 L345.95,208.80 L345.73,209.27 L345.52,209.73 L345.30,210.19 L345.08,210.64 L344.85,211.10 L344.62,211.55 L344.39,212.01 L344.15,212.46 L343.92,212.91 L343.67,213.35 L343.43,213.80 L343.18,214.24 L342.93,214.68 L342.68,215.12 L342.43,215.56 L342.17,216.00 L341.91,216.43 L341.65,216.86 L341.38,217.29 L341.12,217.72 L340.85,218.14 L340.58,218.56 L340.30,218.98 L340.03,219.40 L339.75,219.81 L339.47,220.23 L339.19,220.64 L338.90,221.05 L338.62,221.45 L338.33,221.86 L338.03,222.26 L337.74,222.66 L337.44,223.06 L337.14,223.45 L336.84,223.85 L336.54,224.24 L336.23,224.63 L335.92,225.01 L335.61,225.40 L335.30,225.78 L334.98,226.16 L334.66,226.54 L334.34,226.91 L334.02,227.29 L333.70,227.66 L333.38,228.02 L333.05,228.39 L332.72,228.75 L332.39,229.11 L332.06,229.47 L331.73,229.82 L331.40,230.17 L331.06,230.52 L330.72,230.87 L330.38,231.22 L330.04,231.56 L329.69,231.90 L329.35,232.24 L329.00,232.57 L328.65,232.91 L328.29,233.24 L327.94,233.56 L327.59,233.89 L327.23,234.21 L326.87,234.53 L326.51,234.85 L326.15,235.16 L325.79,235.48 L325.42,235.79 L325.06,236.09 L324.69,236.40 L324.32,236.70 L323.95,237.00 L323.58,237.29 L323.21,237.59 L322.84,237.88 L322.47,238.17 L322.09,238.45 L321.71,238.74 L321.33,239.02 L320.95,239.30 L320.57,239.57 L320.19,239.84 L319.80,240.12 L319.42,240.38 L319.03,240.65 L318.64,240.91 L318.25,241.17 L317.86,241.43 L317.47,241.68 L317.08,241.93 L316.69,242.18 L316.29,242.43 L315.90,242.67 L315.50,242.91 L315.11,243.15 L314.71,243.38 L314.31,243.62 L313.92,243.85 L313.52,244.07 L313.12,244.30 L312.72,244.52 L312.31,244.74 L311.91,244.96 L311.51,245.17 L311.10,245.39 L310.69,245.59 L310.29,245.80 L309.88,246.00 L309.47,246.20 L309.06,246.40 L308.65,246.60 L308.24,246.79 L307.83,246.98 L307.42,247.17 L307.01,247.35 L306.60,247.54 L306.19,247.72 L305.77,247.89 L305.36,248.07 L304.95,248.24 L304.54,248.41 L304.12,248.57 L303.71,248.74 L303.30,248.90 L302.88,249.06 L302.47,249.22 L302.05,249.37 L301.63,249.52 L301.22,249.67 L300.80,249.82 L300.38,249.96 L299.96,250.10 L299.54,250.24 L299.12,250.37 L298.70,250.50 L298.29,250.64 L297.87,250.76 L297.45,250.89 L297.03,251.01 L296.61,251.13 L296.19,251.25 L295.77,251.36 L295.35,251.47 L294.94,251.58 L294.52,251.69 L294.10,251.80 L293.68,251.90 L293.26,252.00 L292.84,252.10 L292.43,252.19 L292.01,252.29 L291.59,252.38 L291.17,252.46 L290.75,252.55 L290.33,252.63 L289.91,252.71 L289.84,252.37 L290.26,252.29 L290.67,252.21 L291.09,252.12 L291.51,252.04 L291.93,251.95 L292.34,251.85 L292.76,251.76 L293.18,251.66 L293.59,251.56 L294.01,251.45 L294.42,251.35 L294.84,251.24 L295.25,251.13 L295.67,251.01 L296.09,250.90 L296.50,250.78 L296.92,250.66 L297.34,250.54 L297.75,250.41 L298.17,250.28 L298.59,250.15 L299.00,250.02 L299.42,249.88 L299.84,249.74 L300.25,249.60 L300.67,249.46 L301.08,249.31 L301.50,249.16 L301.91,249.01 L302.33,248.86 L302.74,248.70 L303.15,248.54 L303.56,248.38 L303.97,248.21 L304.38,248.05 L304.79,247.88 L305.20,247.70 L305.61,247.53 L306.02,247.35 L306.43,247.17 L306.84,246.99 L307.25,246.81 L307.66,246.62 L308.07,246.43 L308.47,246.23 L308.88,246.04 L309.29,245.84 L309.69,245.64 L310.10,245.43 L310.50,245.23 L310.90,245.02 L311.31,244.81 L311.71,244.59 L312.11,244.38 L312.51,244.16 L312.90,243.93 L313.30,243.71 L313.70,243.48 L314.09,243.25 L314.49,243.02 L314.88,242.78 L315.27,242.55 L315.66,242.30 L316.06,242.06 L316.45,241.82 L316.84,241.57 L317.23,241.32 L317.61,241.06 L318.00,240.80 L318.39,240.55 L318.77,240.28 L319.16,240.02 L319.54,239.75 L319.92,239.48 L320.30,239.21 L320.68,238.93 L321.06,238.66 L321.43,238.38 L321.81,238.09 L322.18,237.81 L322.55,237.52 L322.92,237.23 L323.29,236.94 L323.66,236.64 L324.02,236.34 L324.39,236.04 L324.75,235.74 L325.11,235.43 L325.47,235.12 L325.83,234.81 L326.19,234.50 L326.55,234.18 L326.90,233.86 L327.26,233.54 L327.61,233.22 L327.96,232.89 L328.31,232.56 L328.66,232.23 L329.00,231.89 L329.35,231.56 L329.69,231.22 L330.03,230.87 L330.37,230.53 L330.70,230.18 L331.03,229.84 L331.36,229.48 L331.69,229.13 L332.02,228.78 L332.35,228.42 L332.67,228.06 L332.99,227.69 L333.32,227.33 L333.64,226.96 L333.95,226.59 L334.27,226.21 L334.58,225.84 L334.89,225.46 L335.20,225.08 L335.51,224.70 L335.82,224.31 L336.12,223.92 L336.42,223.54 L336.72,223.14 L337.02,222.75 L337.31,222.35 L337.61,221.95 L337.89,221.55 L338.18,221.15 L338.47,220.75 L338.75,220.34 L339.03,219.93 L339.30,219.52 L339.58,219.11 L339.85,218.69 L340.12,218.28 L340.39,217.86 L340.65,217.43 L340.92,217.01 L341.18,216.58 L341.44,216.15 L341.70,215.72 L341.95,215.29 L342.20,214.85 L342.45,214.42 L342.70,213.98 L342.94,213.54 L343.18,213.09 L343.42,212.65 L343.66,212.20 L343.89,211.76 L344.12,211.31 L344.35,210.85 L344.57,210.40 L344.79,209.95 L345.01,209.49 L345.22,209.03 L345.43,208.57 L345.64,208.11 L345.85,207.64 L346.05,207.18 L346.25,206.71 L346.45,206.24 L346.64,205.77 L346.84,205.29 L347.02,204.82 L347.21,204.34 L347.40,203.86 L347.58,203.38 L347.75,202.90 L347.93,202.42 L348.10,201.93 L348.27,201.45 L348.43,200.96 L348.60,200.47 L348.75,199.98 L348.91,199.49 L349.06,199.00 L349.21,198.51 L349.36,198.02 L349.50,197.52 L349.64,197.03 L349.78,196.53 L349.91,196.03 L350.04,195.53 L350.17,195.02 L350.29,194.52 L350.41,194.01 L350.53,193.51 L350.65,193.00 L350.76,192.49 L350.87,191.98 L350.97,191.47 L351.08,190.96 L351.18,190.45 L351.27,189.93 L351.36,189.42 L351.45,188.90 L351.54,188.39 L351.62,187.87 L351.69,187.36 L351.77,186.84 L351.84,186.32 L351.91,185.80 L351.97,185.28 L352.03,184.76 L352.09,184.24 L352.14,183.72 L352.20,183.20 L352.24,182.67 L352.29,182.15 L352.33,181.62 L352.37,181.10 L352.40,180.57 L352.43,180.04 L352.46,179.51 L352.48,178.99 L352.50,178.46 L352.52,177.93 L352.53,177.40 L352.54,176.87 L352.54,176.34 L352.55,175.81 L352.54,175.28 L352.54,174.75 L352.53,174.22 L352.52,173.70 L352.50,173.17 L352.48,172.64 L352.46,172.11 L352.44,171.58 L352.41,171.05 L352.37,170.52 L352.34,169.99 L352.30,169.45 L352.25,168.92 L352.21,168.39 L352.16,167.86 L352.10,167.33 L352.04,166.80 L351.98,166.27 L351.92,165.73 L351.85,165.20 L351.78,164.67 L351.70,164.14 L351.62,163.62 L351.54,163.09 L351.45,162.56 L351.36,162.03 L351.26,161.51 L351.17,160.98 L351.07,160.46 L350.96,159.94 L350.85,159.41 L350.74,158.89 L350.63,158.36 L350.51,157.84 L350.38,157.32 L350.26,156.79 L350.13,156.27 L349.99,155.75 L349.85,155.23 L349.71,154.71 L349.57,154.19 L349.42,153.67 L349.27,153.16 L349.11,152.64 L348.95,152.12 L348.79,151.61 L348.62,151.10 L348.45,150.59 L348.28,150.08 L348.10,149.57 L347.92,149.06 L347.74,148.56 L347.55,148.05 L347.36,147.55 L347.17,147.05 L346.97,146.55 L346.77,146.04 L346.57,145.54 L346.36,145.05 L346.15,144.55 L345.93,144.05 L345.71,143.56 L345.49,143.06 L345.27,142.57 L345.04,142.08 L344.80,141.59 L344.57,141.10 L344.33,140.61 L344.08,140.13 L343.84,139.65 L343.59,139.17 L343.34,138.69 L343.08,138.21 L342.82,137.74 L342.56,137.27 L342.29,136.80 L342.03,136.33 L341.76,135.86 L341.48,135.39 L341.21,134.93 L340.92,134.47 L340.64,134.00 L340.35,133.54 L340.06,133.09 L339.77,132.63 L339.47,132.18 L339.17,131.72 L338.86,131.27 L338.55,130.83 L338.24,130.38 L337.93,129.94 L337.61,129.49 L337.29,129.06 L336.97,128.62 L336.64,128.19 L336.31,127.76 L335.98,127.33 L335.64,126.90 L335.31,126.48 L334.97,126.06 L334.62,125.64 L334.27,125.23 L333.92,124.82 L333.57,124.41 L333.21,124.00 L332.85,123.59 L332.49,123.19 L332.12,122.79 L331.75,122.39 L331.38,121.99 L331.00,121.60 L330.62,121.21 L330.24,120.82 L329.86,120.43 L329.47,120.05 L329.08,119.67 L328.69,119.30 L328.30,118.93 L327.90,118.56 L327.50,118.19 L327.10,117.83 L326.70,117.47 L326.29,117.11 L325.88,116.76 L325.46,116.41 L325.05,116.07 L324.63,115.73 L324.21,115.39 L323.78,115.05 L323.35,114.72 L322.92,114.39 L322.49,114.06 L322.06,113.74 L321.62,113.42 L321.18,113.10 L320.74,112.79 L320.29,112.48 L319.85,112.17 L319.40,111.87 L318.95,111.57 L318.49,111.27 L318.04,110.98 L317.58,110.69 L317.13,110.41 L316.67,110.13 L316.21,109.85 L315.74,109.58 L315.28,109.31 L314.81,109.04 L314.34,108.78 L313.87,108.52 L313.39,108.27 L312.92,108.02 L312.44,107.77 L311.96,107.53 L311.48,107.29 L310.99,107.05 L310.51,106.82 L310.02,106.59 L309.53,106.36 L309.04,106.14 L308.55,105.92 L308.05,105.71 L307.56,105.50 L307.06,105.30 L306.56,105.09 L306.07,104.90 L305.57,104.70 L305.07,104.52 L304.57,104.33 L304.05,104.15 L303.51,103.96 L302.95,103.78 L302.38,103.61 L301.80,103.44 L301.22,103.27 L300.63,103.11 L300.03,102.96 L299.44,102.81 L298.85,102.67 L298.26,102.53 L297.69,102.39 L297.12,102.26 L296.56,102.14 L296.02,102.02 L295.49,101.90 L294.99,101.79 L294.51,101.69 L294.05,101.59 L293.63,101.50 L293.23,101.41 L292.88,101.33 L292.56,101.25 L292.30,101.19 L292.06,101.13Z" fill="#c4e4e1"/>
<path d="M309.83,104.31 L310.33,104.54 L310.83,104.77 L311.33,105.01 L311.83,105.25 L312.33,105.50 L312.82,105.75 L313.31,106.01 L313.80,106.26 L314.29,106.52 L314.78,106.79 L315.26,107.06 L315.74,107.33 L316.22,107.61 L316.70,107.89 L317.17,108.17 L317.64,108.46 L318.11,108.75 L318.58,109.05 L319.05,109.35 L319.51,109.65 L319.98,109.96 L320.44,110.27 L320.90,110.58 L321.35,110.90 L321.81,111.22 L322.26,111.55 L322.71,111.88 L323.15,112.21 L323.60,112.54 L324.04,112.88 L324.48,113.22 L324.91,113.57 L325.35,113.91 L325.78,114.27 L326.20,114.62 L326.63,114.98 L327.05,115.34 L327.47,115.70 L327.88,116.07 L328.29,116.44 L328.70,116.82 L329.11,117.20 L329.51,117.58 L329.91,117.96 L330.31,118.35 L330.71,118.74 L331.10,119.14 L331.49,119.54 L331.87,119.94 L332.26,120.34 L332.64,120.75 L333.02,121.16 L333.39,121.57 L333.76,121.98 L334.13,122.40 L334.50,122.82 L334.86,123.24 L335.22,123.66 L335.57,124.09 L335.92,124.52 L336.27,124.95 L336.62,125.38 L336.96,125.82 L337.30,126.26 L337.63,126.70 L337.96,127.14 L338.29,127.59 L338.62,128.04 L338.94,128.49 L339.26,128.94 L339.58,129.40 L339.89,129.86 L340.20,130.32 L340.51,130.78 L340.81,131.25 L341.11,131.71 L341.41,132.18 L341.70,132.65 L341.99,133.13 L342.28,133.60 L342.56,134.08 L342.84,134.55 L343.12,135.03 L343.39,135.51 L343.65,135.99 L343.92,136.48 L344.18,136.96 L344.45,137.45 L344.70,137.94 L344.96,138.43 L345.21,138.92 L345.46,139.41 L345.70,139.91 L345.94,140.40 L346.18,140.90 L346.42,141.40 L346.65,141.91 L346.87,142.41 L347.10,142.92 L347.32,143.42 L347.53,143.93 L347.74,144.44 L347.95,144.95 L348.16,145.46 L348.36,145.97 L348.56,146.49 L348.75,147.00 L348.94,147.51 L349.13,148.03 L349.31,148.55 L349.49,149.06 L349.67,149.58 L349.84,150.10 L350.01,150.62 L350.18,151.15 L350.34,151.67 L350.50,152.20 L350.66,152.72 L350.81,153.25 L350.96,153.78 L351.10,154.31 L351.24,154.84 L351.38,155.37 L351.52,155.90 L351.65,156.44 L351.77,156.97 L351.89,157.50 L352.01,158.04 L352.13,158.57 L352.24,159.10 L352.35,159.64 L352.45,160.17 L352.55,160.71 L352.65,161.24 L352.74,161.78 L352.83,162.31 L352.92,162.85 L353.00,163.39 L353.08,163.93 L353.15,164.47 L353.22,165.01 L353.29,165.55 L353.35,166.09 L353.41,166.63 L353.47,167.17 L353.52,167.71 L353.57,168.25 L353.62,168.79 L353.66,169.33 L353.70,169.87 L353.73,170.42 L353.76,170.96 L353.79,171.50 L353.81,172.03 L353.83,172.57 L353.85,173.11 L353.86,173.65 L353.87,174.19 L353.88,174.72 L353.88,175.26 L353.88,175.80 L353.88,176.34 L353.87,176.88 L353.86,177.42 L353.84,177.95 L353.83,178.49 L353.80,179.03 L353.78,179.57 L353.75,180.10 L353.71,180.64 L353.68,181.18 L353.64,181.71 L353.59,182.24 L353.55,182.78 L353.50,183.31 L353.44,183.84 L353.39,184.37 L353.33,184.90 L353.26,185.43 L353.19,185.96 L353.12,186.48 L353.05,187.01 L352.97,187.53 L352.89,188.06 L352.81,188.58 L352.72,189.11 L352.63,189.63 L352.53,190.15 L352.43,190.67 L352.33,191.19 L352.22,191.71 L352.12,192.23 L352.00,192.75 L351.89,193.27 L351.77,193.78 L351.65,194.30 L351.52,194.81 L351.39,195.32 L351.26,195.83 L351.13,196.34 L350.99,196.85 L350.85,197.35 L350.70,197.86 L350.56,198.36 L350.41,198.86 L350.25,199.36 L350.10,199.86 L349.94,200.35 L349.78,200.85 L349.61,201.35 L349.44,201.84 L349.27,202.33 L349.09,202.82 L348.91,203.31 L348.73,203.80 L348.54,204.29 L348.35,204.77 L348.16,205.26 L347.97,205.74 L347.77,206.22 L347.57,206.70 L347.37,207.18 L347.16,207.65 L346.96,208.12 L346.74,208.59 L346.53,209.06 L346.31,209.53 L346.10,209.99 L345.87,210.46 L345.65,210.92 L345.42,211.38 L345.19,211.83 L344.95,212.29 L344.71,212.74 L344.47,213.19 L344.23,213.64 L343.98,214.09 L343.73,214.54 L343.48,214.98 L343.22,215.42 L342.96,215.86 L342.70,216.30 L342.44,216.74 L342.18,217.17 L341.91,217.60 L341.64,218.03 L341.36,218.46 L341.09,218.88 L340.81,219.31 L340.53,219.73 L340.25,220.14 L339.97,220.56 L339.69,220.97 L339.40,221.38 L339.11,221.79 L338.81,222.20 L338.52,222.60 L338.22,223.00 L337.92,223.40 L337.61,223.80 L337.31,224.20 L337.00,224.59 L336.69,224.98 L336.38,225.37 L336.06,225.76 L335.75,226.14 L335.43,226.52 L335.11,226.90 L334.79,227.28 L334.46,227.65 L334.14,228.03 L333.81,228.39 L333.48,228.76 L333.15,229.12 L332.81,229.48 L332.48,229.84 L332.14,230.20 L331.81,230.55 L331.47,230.90 L331.20,230.65 L331.53,230.30 L331.87,229.95 L332.20,229.59 L332.53,229.23 L332.86,228.87 L333.19,228.51 L333.52,228.15 L333.85,227.78 L334.17,227.41 L334.49,227.04 L334.81,226.66 L335.13,226.28 L335.45,225.90 L335.76,225.52 L336.07,225.13 L336.38,224.75 L336.69,224.36 L337.00,223.96 L337.30,223.57 L337.60,223.17 L337.90,222.77 L338.20,222.37 L338.49,221.97 L338.78,221.56 L339.07,221.16 L339.35,220.75 L339.64,220.34 L339.92,219.92 L340.20,219.51 L340.47,219.09 L340.75,218.67 L341.02,218.25 L341.29,217.82 L341.56,217.39 L341.82,216.96 L342.09,216.53 L342.35,216.10 L342.61,215.66 L342.86,215.22 L343.12,214.78 L343.37,214.34 L343.61,213.90 L343.86,213.45 L344.10,213.00 L344.34,212.55 L344.58,212.10 L344.81,211.65 L345.04,211.19 L345.27,210.74 L345.49,210.28 L345.71,209.82 L345.93,209.35 L346.14,208.89 L346.35,208.42 L346.56,207.95 L346.77,207.48 L346.97,207.01 L347.17,206.54 L347.37,206.06 L347.57,205.58 L347.76,205.10 L347.95,204.62 L348.14,204.14 L348.32,203.65 L348.50,203.17 L348.68,202.68 L348.85,202.19 L349.03,201.70 L349.19,201.21 L349.36,200.72 L349.52,200.22 L349.68,199.73 L349.83,199.23 L349.99,198.74 L350.13,198.24 L350.28,197.74 L350.42,197.24 L350.56,196.73 L350.70,196.23 L350.83,195.72 L350.96,195.22 L351.09,194.71 L351.21,194.20 L351.33,193.69 L351.45,193.17 L351.56,192.66 L351.68,192.14 L351.78,191.63 L351.89,191.11 L351.99,190.59 L352.09,190.07 L352.18,189.56 L352.27,189.04 L352.36,188.51 L352.44,187.99 L352.52,187.47 L352.60,186.95 L352.67,186.43 L352.74,185.90 L352.81,185.38 L352.87,184.85 L352.93,184.33 L352.99,183.80 L353.04,183.27 L353.09,182.74 L353.13,182.21 L353.18,181.68 L353.22,181.15 L353.25,180.61 L353.28,180.08 L353.31,179.55 L353.34,179.01 L353.36,178.48 L353.38,177.95 L353.39,177.41 L353.40,176.88 L353.41,176.34 L353.41,175.80 L353.41,175.27 L353.41,174.73 L353.40,174.20 L353.39,173.67 L353.37,173.13 L353.36,172.60 L353.34,172.06 L353.31,171.52 L353.28,170.99 L353.25,170.45 L353.22,169.91 L353.18,169.38 L353.14,168.84 L353.09,168.30 L353.04,167.76 L352.99,167.23 L352.93,166.69 L352.87,166.15 L352.81,165.61 L352.74,165.08 L352.67,164.54 L352.59,164.00 L352.51,163.47 L352.43,162.93 L352.34,162.40 L352.25,161.87 L352.16,161.34 L352.06,160.80 L351.96,160.27 L351.86,159.74 L351.75,159.21 L351.64,158.68 L351.52,158.15 L351.40,157.62 L351.28,157.09 L351.15,156.56 L351.02,156.03 L350.89,155.51 L350.75,154.98 L350.61,154.45 L350.47,153.93 L350.32,153.40 L350.17,152.88 L350.01,152.35 L349.85,151.83 L349.69,151.31 L349.52,150.79 L349.35,150.27 L349.18,149.76 L349.00,149.24 L348.82,148.73 L348.64,148.22 L348.45,147.70 L348.26,147.19 L348.07,146.68 L347.87,146.17 L347.67,145.67 L347.46,145.16 L347.26,144.65 L347.04,144.15 L346.83,143.64 L346.61,143.14 L346.39,142.64 L346.16,142.14 L345.93,141.64 L345.70,141.15 L345.46,140.65 L345.22,140.16 L344.97,139.66 L344.73,139.18 L344.48,138.69 L344.22,138.20 L343.96,137.72 L343.70,137.24 L343.44,136.76 L343.17,136.28 L342.91,135.80 L342.64,135.32 L342.36,134.85 L342.08,134.38 L341.80,133.91 L341.52,133.44 L341.23,132.97 L340.93,132.50 L340.64,132.04 L340.34,131.57 L340.04,131.11 L339.73,130.66 L339.42,130.20 L339.11,129.74 L338.79,129.29 L338.47,128.84 L338.15,128.40 L337.83,127.95 L337.50,127.51 L337.17,127.07 L336.83,126.63 L336.49,126.20 L336.15,125.77 L335.81,125.34 L335.46,124.92 L335.11,124.49 L334.76,124.07 L334.40,123.65 L334.04,123.23 L333.68,122.82 L333.31,122.41 L332.94,122.00 L332.57,121.59 L332.19,121.19 L331.82,120.79 L331.43,120.39 L331.05,119.99 L330.66,119.60 L330.27,119.21 L329.88,118.82 L329.48,118.43 L329.08,118.05 L328.68,117.68 L328.28,117.30 L327.87,116.93 L327.46,116.56 L327.05,116.20 L326.64,115.84 L326.22,115.48 L325.80,115.13 L325.37,114.78 L324.94,114.43 L324.51,114.09 L324.08,113.75 L323.65,113.41 L323.21,113.08 L322.77,112.75 L322.32,112.42 L321.88,112.10 L321.43,111.77 L320.98,111.46 L320.53,111.14 L320.07,110.83 L319.61,110.53 L319.15,110.22 L318.69,109.92 L318.23,109.63 L317.77,109.33 L317.30,109.05 L316.83,108.76 L316.36,108.48 L315.89,108.21 L315.41,107.93 L314.94,107.67 L314.46,107.40 L313.97,107.14 L313.49,106.88 L313.00,106.63 L312.52,106.38 L312.03,106.13 L311.53,105.89 L311.04,105.65 L310.54,105.41 L310.05,105.18 L309.55,104.95Z" fill="#c4e4e1"/>
<path d="M725.25,117.16 L724.96,117.09 L724.65,117.00 L724.27,116.90 L723.85,116.77 L723.39,116.63 L722.89,116.48 L722.35,116.31 L721.78,116.14 L721.19,115.95 L720.56,115.77 L719.92,115.57 L719.26,115.38 L718.58,115.18 L717.89,114.98 L717.19,114.79 L716.48,114.60 L715.77,114.41 L715.05,114.23 L714.33,114.06 L713.61,113.90 L712.89,113.75 L712.18,113.62 L711.47,113.50 L710.78,113.40 L710.13,113.31 L709.48,113.23 L708.84,113.16 L708.19,113.10 L707.54,113.04 L706.89,112.99 L706.24,112.95 L705.59,112.91 L704.93,112.88 L704.28,112.85 L703.62,112.83 L702.97,112.82 L702.31,112.82 L701.65,112.82 L701.00,112.83 L700.34,112.84 L699.68,112.86 L699.03,112.89 L698.37,112.92 L697.72,112.96 L697.06,113.00 L696.41,113.06 L695.76,113.11 L695.11,113.18 L694.46,113.25 L693.81,113.32 L693.16,113.40 L692.50,113.48 L691.85,113.58 L691.20,113.68 L690.54,113.78 L689.89,113.89 L689.24,114.01 L688.59,114.14 L687.94,114.27 L687.29,114.40 L686.64,114.55 L685.99,114.70 L685.34,114.85 L684.70,115.01 L684.06,115.18 L683.41,115.35 L682.77,115.53 L682.14,115.72 L681.50,115.91 L680.87,116.10 L680.24,116.31 L679.61,116.51 L678.98,116.73 L678.36,116.96 L677.73,117.19 L677.11,117.42 L676.49,117.67 L675.87,117.92 L675.25,118.17 L674.64,118.43 L674.02,118.70 L673.41,118.97 L672.80,119.25 L672.19,119.53 L671.59,119.82 L670.98,120.12 L670.38,120.42 L669.78,120.72 L669.19,121.04 L668.60,121.35 L668.01,121.67 L667.42,122.00 L666.84,122.33 L666.26,122.67 L665.69,123.01 L665.12,123.35 L664.56,123.71 L664.00,124.08 L663.44,124.45 L662.89,124.83 L662.34,125.22 L661.79,125.60 L661.24,126.00 L660.70,126.40 L660.16,126.80 L659.63,127.21 L659.10,127.63 L658.57,128.04 L658.04,128.47 L657.52,128.89 L657.00,129.33 L656.49,129.76 L655.98,130.20 L655.48,130.65 L654.98,131.10 L654.48,131.55 L653.99,132.00 L653.50,132.46 L653.02,132.93 L652.54,133.39 L652.07,133.86 L651.60,134.34 L651.13,134.82 L650.66,135.30 L650.20,135.79 L649.75,136.28 L649.29,136.78 L648.84,137.28 L648.40,137.78 L647.96,138.29 L647.52,138.80 L647.09,139.32 L646.66,139.84 L646.24,140.36 L645.82,140.89 L645.41,141.42 L645.00,141.95 L644.60,142.49 L644.20,143.03 L643.80,143.57 L643.41,144.11 L643.03,144.66 L642.65,145.21 L642.28,145.76 L641.91,146.31 L641.54,146.86 L641.17,147.42 L640.81,147.99 L640.46,148.55 L640.11,149.12 L639.76,149.70 L639.42,150.27 L639.09,150.85 L638.75,151.44 L638.43,152.02 L638.11,152.61 L637.79,153.20 L637.48,153.79 L637.17,154.38 L636.87,154.98 L636.57,155.58 L636.28,156.18 L635.99,156.78 L635.71,157.38 L635.44,157.99 L635.17,158.59 L634.90,159.20 L634.64,159.81 L634.39,160.42 L634.14,161.03 L633.89,161.65 L633.65,162.27 L633.42,162.89 L633.19,163.51 L632.96,164.14 L632.74,164.76 L632.52,165.39 L632.32,166.02 L632.11,166.66 L631.91,167.29 L631.72,167.92 L631.53,168.56 L631.34,169.20 L631.17,169.83 L630.99,170.47 L630.82,171.11 L630.66,171.75 L630.50,172.39 L630.35,173.03 L630.21,173.67 L630.06,174.31 L629.93,174.95 L629.80,175.59 L629.68,176.24 L629.56,176.88 L629.45,177.53 L629.35,178.18 L629.25,178.83 L629.15,179.48 L629.06,180.13 L628.98,180.78 L628.90,181.43 L628.83,182.08 L628.76,182.73 L628.70,183.38 L628.64,184.03 L628.58,184.68 L628.54,185.34 L628.49,185.99 L628.46,186.64 L628.42,187.28 L628.40,187.93 L628.37,188.58 L628.36,189.23 L628.34,189.87 L628.34,190.51 L628.33,191.16 L628.33,191.80 L628.34,192.45 L628.35,193.09 L628.37,193.74 L628.39,194.38 L628.42,195.03 L628.45,195.67 L628.49,196.31 L628.53,196.95 L628.58,197.60 L628.63,198.24 L628.69,198.88 L628.75,199.52 L628.82,200.15 L628.89,200.79 L628.97,201.42 L629.05,202.06 L629.13,202.69 L629.22,203.32 L629.32,203.94 L629.42,204.57 L629.52,205.19 L629.63,205.81 L629.75,206.43 L629.87,207.05 L629.99,207.67 L630.12,208.29 L630.26,208.91 L630.40,209.52 L630.54,210.14 L630.69,210.75 L630.85,211.36 L631.01,211.97 L631.17,212.57 L631.34,213.18 L631.51,213.78 L631.69,214.38 L631.87,214.98 L632.06,215.58 L632.25,216.17 L632.44,216.77 L632.64,217.35 L632.84,217.94 L633.04,218.52 L633.25,219.11 L633.47,219.68 L633.68,220.26 L633.90,220.83 L634.13,221.40 L634.36,221.98 L634.59,222.54 L634.83,223.11 L635.07,223.68 L635.32,224.24 L635.57,224.80 L635.83,225.35 L636.09,225.91 L636.35,226.46 L636.62,227.01 L636.89,227.56 L637.16,228.10 L637.44,228.64 L637.72,229.18 L638.01,229.71 L638.29,230.25 L638.59,230.77 L638.88,231.30 L639.18,231.82 L639.48,232.34 L639.78,232.85 L640.09,233.36 L640.40,233.88 L640.71,234.38 L641.03,234.89 L641.35,235.39 L641.68,235.89 L642.00,236.39 L642.34,236.88 L642.67,237.37 L643.01,237.86 L643.35,238.35 L643.70,238.83 L644.05,239.31 L644.40,239.78 L644.75,240.25 L645.11,240.72 L645.47,241.19 L645.83,241.65 L646.19,242.10 L646.56,242.56 L646.93,243.01 L647.30,243.45 L647.68,243.90 L648.05,244.34 L648.43,244.77 L648.81,245.20 L649.20,245.63 L649.59,246.06 L649.98,246.48 L650.37,246.90 L650.77,247.32 L651.17,247.73 L651.57,248.14 L651.98,248.55 L652.38,248.95 L652.79,249.35 L653.20,249.74 L653.62,250.13 L654.03,250.52 L654.45,250.91 L654.87,251.29 L655.30,251.66 L655.72,252.03 L656.14,252.40 L656.57,252.77 L657.00,253.13 L657.43,253.48 L657.86,253.84 L658.29,254.19 L658.72,254.53 L659.16,254.88 L659.60,255.21 L660.04,255.55 L660.48,255.88 L660.93,256.21 L661.38,256.53 L661.83,256.85 L662.28,257.17 L662.73,257.48 L663.19,257.79 L663.64,258.09 L664.10,258.39 L664.56,258.69 L665.02,258.98 L665.48,259.27 L665.94,259.56 L666.40,259.84 L666.86,260.12 L667.33,260.39 L667.79,260.66 L668.25,260.93 L668.72,261.19 L669.18,261.45 L669.65,261.70 L670.12,261.95 L670.59,262.20 L671.06,262.45 L671.53,262.69 L672.01,262.92 L672.48,263.15 L672.96,263.38 L673.44,263.61 L673.91,263.83 L674.39,264.04 L674.87,264.25 L675.35,264.46 L675.83,264.67 L676.31,264.87 L676.79,265.07 L677.27,265.26 L677.75,265.45 L678.23,265.64 L678.71,265.82 L679.19,266.00 L679.67,266.18 L680.15,266.35 L680.63,266.52 L681.11,266.68 L681.59,266.84 L682.07,267.00 L682.55,267.16 L683.04,267.31 L683.52,267.45 L684.00,267.59 L684.49,267.73 L684.97,267.87 L685.45,268.00 L685.94,268.13 L686.42,268.25 L686.90,268.37 L687.38,268.49 L687.87,268.60 L688.35,268.71 L688.83,268.82 L689.31,268.92 L689.79,269.02 L690.27,269.12 L690.74,269.21 L691.22,269.30 L691.70,269.39 L692.17,269.47 L692.65,269.56 L693.12,269.63 L693.60,269.71 L694.08,269.78 L694.55,269.84 L695.03,269.91 L695.50,269.97 L695.97,270.02 L696.45,270.07 L696.92,270.12 L697.39,270.17 L697.86,270.21 L698.33,270.25 L698.80,270.29 L699.27,270.32 L699.74,270.35 L700.20,270.38 L700.67,270.40 L701.13,270.42 L701.59,270.44 L702.05,270.46 L702.51,270.47 L702.97,270.48 L703.42,270.49 L703.88,270.50 L704.34,270.50 L704.79,270.50 L705.25,270.50 L705.70,270.50 L706.15,270.49 L706.61,270.48 L707.06,270.46 L707.51,270.45 L707.95,270.42 L708.40,270.40 L708.85,270.38 L709.29,270.35 L709.73,270.32 L710.17,270.28 L710.62,270.24 L711.05,270.21 L711.49,270.16 L711.93,270.12 L712.36,270.08 L712.79,270.03 L713.22,269.98 L713.65,269.92 L714.08,269.87 L714.50,269.81 L714.93,269.74 L715.35,269.68 L715.78,269.61 L716.20,269.53 L716.62,269.46 L717.04,269.38 L717.45,269.30 L717.87,269.21 L718.28,269.13 L718.69,269.04 L719.10,268.95 L719.51,268.86 L719.92,268.76 L720.33,268.67 L720.73,268.57 L721.13,268.47 L721.53,268.37 L721.93,268.26 L722.32,268.16 L722.72,268.05 L723.11,267.94 L723.50,267.83 L723.89,267.72 L724.28,267.61 L724.66,267.49 L725.05,267.37 L725.43,267.25 L725.82,267.13 L726.20,267.00 L726.58,266.88 L726.95,266.75 L727.33,266.62 L727.70,266.49 L728.07,266.35 L728.44,266.22 L728.81,266.08 L729.17,265.94 L729.54,265.80 L729.90,265.66 L730.26,265.51 L730.62,265.37 L730.98,265.22 L731.33,265.08 L731.68,264.93 L732.03,264.78 L732.38,264.63 L732.73,264.48 L733.08,264.33 L733.43,264.17 L733.77,264.02 L734.11,263.86 L734.45,263.70 L734.79,263.54 L735.13,263.38 L735.46,263.21 L735.80,263.05 L736.13,262.88 L736.46,262.72 L736.78,262.55 L737.11,262.38 L737.43,262.21 L737.76,262.03 L738.08,261.86 L738.40,261.69 L738.71,261.51 L739.03,261.34 L739.34,261.16 L739.65,260.99 L739.97,260.81 L740.27,260.63 L740.58,260.46 L740.89,260.28 L741.19,260.10 L741.50,259.91 L741.80,259.73 L742.10,259.55 L742.40,259.36 L742.70,259.17 L742.99,258.99 L743.28,258.80 L743.58,258.61 L743.87,258.42 L744.15,258.23 L744.44,258.04 L744.73,257.85 L745.01,257.66 L745.29,257.46 L745.57,257.27 L745.85,257.08 L746.13,256.88 L746.40,256.69 L746.68,256.50 L746.95,256.30 L747.23,256.11 L747.50,255.91 L747.77,255.71 L748.04,255.52 L748.31,255.32 L748.57,255.12 L748.84,254.92 L749.10,254.72 L749.36,254.52 L749.62,254.32 L749.88,254.12 L750.14,253.91 L750.39,253.71 L750.65,253.51 L750.90,253.31 L751.15,253.10 L751.40,252.90 L751.65,252.69 L751.90,252.49 L752.15,252.28 L750.70,250.50 L750.45,250.69 L750.20,250.88 L749.95,251.07 L749.70,251.26 L749.44,251.45 L749.19,251.64 L748.94,251.83 L748.68,252.02 L748.42,252.21 L748.16,252.39 L747.91,252.58 L747.64,252.77 L747.38,252.95 L747.12,253.13 L746.86,253.32 L746.59,253.50 L746.32,253.68 L746.06,253.86 L745.78,254.05 L745.51,254.23 L745.24,254.41 L744.96,254.59 L744.69,254.77 L744.41,254.95 L744.13,255.13 L743.85,255.31 L743.57,255.49 L743.29,255.67 L743.01,255.85 L742.73,256.02 L742.44,256.20 L742.16,256.37 L741.87,256.54 L741.58,256.72 L741.29,256.89 L741.00,257.06 L740.71,257.23 L740.41,257.40 L740.12,257.56 L739.82,257.73 L739.52,257.89 L739.22,258.06 L738.92,258.22 L738.61,258.38 L738.31,258.55 L738.00,258.71 L737.69,258.87 L737.38,259.03 L737.06,259.19 L736.75,259.35 L736.44,259.50 L736.12,259.66 L735.80,259.82 L735.49,259.97 L735.17,260.12 L734.84,260.27 L734.52,260.42 L734.20,260.57 L733.87,260.72 L733.55,260.86 L733.22,261.01 L732.89,261.15 L732.56,261.29 L732.23,261.43 L731.89,261.57 L731.56,261.70 L731.22,261.84 L730.88,261.97 L730.53,262.11 L730.19,262.24 L729.84,262.37 L729.49,262.50 L729.14,262.63 L728.79,262.75 L728.44,262.88 L728.09,263.00 L727.73,263.13 L727.38,263.25 L727.02,263.37 L726.66,263.48 L726.30,263.60 L725.94,263.71 L725.58,263.82 L725.22,263.93 L724.85,264.04 L724.48,264.15 L724.12,264.25 L723.75,264.35 L723.38,264.45 L723.01,264.55 L722.63,264.64 L722.25,264.74 L721.87,264.83 L721.49,264.92 L721.11,265.01 L720.73,265.09 L720.34,265.18 L719.95,265.26 L719.57,265.34 L719.18,265.42 L718.79,265.50 L718.39,265.58 L718.00,265.65 L717.61,265.72 L717.21,265.79 L716.82,265.86 L716.42,265.92 L716.02,265.98 L715.62,266.04 L715.22,266.10 L714.82,266.15 L714.42,266.21 L714.02,266.25 L713.61,266.30 L713.21,266.35 L712.80,266.40 L712.38,266.45 L711.97,266.50 L711.56,266.54 L711.14,266.58 L710.73,266.62 L710.31,266.66 L709.89,266.69 L709.47,266.73 L709.05,266.75 L708.63,266.78 L708.20,266.81 L707.78,266.83 L707.35,266.85 L706.93,266.86 L706.50,266.88 L706.07,266.89 L705.65,266.90 L705.22,266.90 L704.79,266.90 L704.36,266.90 L703.93,266.90 L703.50,266.89 L703.06,266.88 L702.63,266.86 L702.19,266.84 L701.75,266.81 L701.31,266.79 L700.87,266.76 L700.43,266.73 L699.98,266.70 L699.54,266.66 L699.10,266.62 L698.65,266.58 L698.21,266.53 L697.76,266.48 L697.31,266.43 L696.87,266.38 L696.42,266.32 L695.97,266.26 L695.53,266.20 L695.08,266.13 L694.63,266.06 L694.19,265.99 L693.74,265.91 L693.29,265.83 L692.85,265.74 L692.40,265.66 L691.94,265.56 L691.49,265.47 L691.04,265.37 L690.59,265.27 L690.13,265.17 L689.68,265.06 L689.22,264.95 L688.77,264.84 L688.31,264.72 L687.86,264.60 L687.40,264.48 L686.95,264.35 L686.49,264.23 L686.04,264.09 L685.58,263.96 L685.13,263.82 L684.68,263.67 L684.22,263.53 L683.77,263.38 L683.32,263.23 L682.87,263.07 L682.42,262.91 L681.97,262.75 L681.52,262.58 L681.07,262.40 L680.62,262.23 L680.17,262.05 L679.71,261.87 L679.26,261.68 L678.81,261.49 L678.36,261.30 L677.91,261.10 L677.46,260.90 L677.01,260.70 L676.56,260.49 L676.11,260.28 L675.66,260.07 L675.22,259.85 L674.77,259.63 L674.33,259.41 L673.88,259.18 L673.44,258.95 L673.00,258.72 L672.56,258.48 L672.13,258.24 L671.69,257.99 L671.26,257.75 L670.82,257.49 L670.39,257.23 L669.95,256.97 L669.52,256.71 L669.09,256.44 L668.65,256.17 L668.22,255.90 L667.79,255.62 L667.36,255.34 L666.94,255.05 L666.51,254.76 L666.08,254.47 L665.66,254.17 L665.24,253.87 L664.82,253.57 L664.40,253.27 L663.98,252.96 L663.57,252.65 L663.15,252.33 L662.74,252.01 L662.34,251.69 L661.93,251.36 L661.53,251.04 L661.13,250.70 L660.73,250.37 L660.33,250.02 L659.93,249.68 L659.53,249.33 L659.14,248.98 L658.74,248.62 L658.35,248.26 L657.96,247.90 L657.57,247.53 L657.18,247.16 L656.80,246.79 L656.42,246.42 L656.04,246.04 L655.66,245.65 L655.28,245.27 L654.91,244.88 L654.54,244.49 L654.17,244.09 L653.81,243.70 L653.45,243.30 L653.09,242.89 L652.74,242.49 L652.38,242.08 L652.04,241.67 L651.69,241.25 L651.35,240.83 L651.00,240.40 L650.66,239.97 L650.32,239.54 L649.99,239.11 L649.66,238.67 L649.32,238.23 L649.00,237.78 L648.67,237.34 L648.35,236.88 L648.03,236.43 L647.71,235.98 L647.40,235.52 L647.09,235.06 L646.78,234.59 L646.48,234.12 L646.18,233.66 L645.88,233.18 L645.59,232.71 L645.30,232.24 L645.02,231.76 L644.74,231.28 L644.46,230.79 L644.19,230.31 L643.92,229.81 L643.66,229.32 L643.40,228.82 L643.14,228.32 L642.88,227.81 L642.63,227.30 L642.38,226.79 L642.13,226.28 L641.89,225.76 L641.65,225.25 L641.42,224.73 L641.18,224.21 L640.96,223.68 L640.73,223.16 L640.51,222.63 L640.30,222.10 L640.09,221.57 L639.88,221.04 L639.68,220.50 L639.48,219.97 L639.28,219.43 L639.09,218.89 L638.91,218.35 L638.73,217.81 L638.55,217.26 L638.38,216.71 L638.21,216.16 L638.05,215.61 L637.89,215.05 L637.73,214.49 L637.58,213.93 L637.43,213.37 L637.28,212.81 L637.14,212.24 L637.01,211.67 L636.87,211.11 L636.75,210.54 L636.62,209.97 L636.50,209.39 L636.39,208.82 L636.28,208.25 L636.17,207.68 L636.07,207.10 L635.98,206.53 L635.88,205.95 L635.80,205.38 L635.72,204.81 L635.64,204.23 L635.56,203.65 L635.49,203.07 L635.42,202.48 L635.36,201.90 L635.30,201.31 L635.25,200.72 L635.20,200.13 L635.16,199.54 L635.11,198.95 L635.08,198.36 L635.05,197.77 L635.02,197.18 L635.00,196.58 L634.98,195.99 L634.97,195.40 L634.96,194.81 L634.96,194.21 L634.96,193.62 L634.96,193.03 L634.97,192.44 L634.99,191.85 L635.01,191.26 L635.04,190.67 L635.07,190.08 L635.11,189.49 L635.15,188.90 L635.20,188.31 L635.26,187.71 L635.31,187.12 L635.38,186.53 L635.44,185.93 L635.52,185.34 L635.59,184.74 L635.67,184.15 L635.76,183.56 L635.85,182.96 L635.94,182.37 L636.04,181.78 L636.15,181.19 L636.26,180.60 L636.37,180.02 L636.49,179.43 L636.61,178.85 L636.74,178.27 L636.87,177.69 L637.01,177.11 L637.15,176.53 L637.29,175.95 L637.44,175.38 L637.59,174.80 L637.75,174.22 L637.91,173.64 L638.07,173.06 L638.24,172.49 L638.42,171.91 L638.59,171.34 L638.78,170.76 L638.97,170.19 L639.16,169.62 L639.36,169.05 L639.56,168.48 L639.77,167.92 L639.98,167.35 L640.19,166.79 L640.41,166.23 L640.64,165.68 L640.86,165.12 L641.10,164.57 L641.33,164.02 L641.58,163.48 L641.82,162.94 L642.07,162.40 L642.33,161.86 L642.59,161.32 L642.86,160.78 L643.13,160.24 L643.41,159.71 L643.69,159.18 L643.98,158.65 L644.27,158.12 L644.56,157.59 L644.86,157.07 L645.17,156.55 L645.47,156.03 L645.78,155.51 L646.10,155.00 L646.42,154.49 L646.74,153.98 L647.07,153.48 L647.40,152.98 L647.74,152.48 L648.07,151.99 L648.42,151.50 L648.76,151.02 L649.11,150.54 L649.47,150.07 L649.84,149.59 L650.21,149.13 L650.58,148.66 L650.96,148.20 L651.34,147.73 L651.73,147.28 L652.12,146.82 L652.51,146.37 L652.91,145.92 L653.31,145.48 L653.72,145.03 L654.13,144.60 L654.54,144.16 L654.96,143.73 L655.38,143.31 L655.80,142.88 L656.22,142.47 L656.65,142.06 L657.08,141.65 L657.51,141.24 L657.95,140.85 L658.38,140.45 L658.82,140.07 L659.27,139.69 L659.72,139.31 L660.18,138.93 L660.63,138.56 L661.10,138.19 L661.56,137.83 L662.03,137.47 L662.50,137.11 L662.98,136.76 L663.46,136.41 L663.94,136.07 L664.42,135.73 L664.91,135.40 L665.40,135.07 L665.89,134.74 L666.38,134.42 L666.88,134.11 L667.37,133.80 L667.87,133.49 L668.37,133.19 L668.87,132.90 L669.37,132.61 L669.87,132.33 L670.38,132.05 L670.87,131.76 L671.37,131.47 L671.88,131.19 L672.38,130.92 L672.89,130.64 L673.41,130.37 L673.92,130.11 L674.44,129.85 L674.96,129.59 L675.48,129.34 L676.01,129.10 L676.53,128.85 L677.06,128.62 L677.59,128.39 L678.12,128.16 L678.65,127.94 L679.19,127.72 L679.72,127.51 L680.25,127.31 L680.79,127.11 L681.32,126.92 L681.86,126.73 L682.39,126.55 L682.92,126.37 L683.46,126.19 L684.00,126.02 L684.54,125.85 L685.08,125.69 L685.62,125.53 L686.17,125.38 L686.72,125.23 L687.27,125.09 L687.82,124.95 L688.37,124.82 L688.92,124.69 L689.48,124.57 L690.03,124.45 L690.59,124.34 L691.14,124.24 L691.70,124.13 L692.25,124.04 L692.81,123.95 L693.36,123.87 L693.91,123.79 L694.46,123.71 L695.01,123.65 L695.56,123.59 L696.11,123.53 L696.66,123.49 L697.21,123.45 L697.76,123.42 L698.31,123.40 L698.86,123.38 L699.42,123.37 L699.97,123.36 L700.53,123.35 L701.08,123.36 L701.63,123.36 L702.19,123.38 L702.74,123.39 L703.29,123.42 L703.84,123.45 L704.39,123.48 L704.94,123.52 L705.48,123.57 L706.03,123.62 L706.57,123.67 L707.10,123.73 L707.64,123.80 L708.17,123.87 L708.70,123.95 L709.20,124.03 L709.67,124.11 L710.16,124.21 L710.68,124.33 L711.23,124.46 L711.80,124.61 L712.38,124.76 L712.99,124.93 L713.60,125.11 L714.21,125.29 L714.83,125.48 L715.45,125.68 L716.06,125.88 L716.67,126.07 L717.27,126.27 L717.85,126.47 L718.42,126.66 L718.97,126.85 L719.50,127.03 L720.01,127.21 L720.49,127.38 L720.95,127.53 L721.40,127.68 L721.82,127.82 L722.18,127.94Z" fill="#c4e4e1"/>
<path d="M752.15,252.28 L752.39,252.08 L752.64,251.88 L752.88,251.67 L753.13,251.46 L753.37,251.26 L753.61,251.05 L753.85,250.85 L754.09,250.64 L754.33,250.43 L754.57,250.23 L754.80,250.02 L755.04,249.81 L755.27,249.60 L755.51,249.39 L755.74,249.18 L755.97,248.97 L756.20,248.76 L756.43,248.55 L756.65,248.34 L756.88,248.13 L757.11,247.92 L757.33,247.71 L757.55,247.50 L757.78,247.29 L758.00,247.08 L758.22,246.87 L758.45,246.66 L758.67,246.45 L758.89,246.23 L759.11,246.02 L759.33,245.81 L759.55,245.60 L759.77,245.38 L759.99,245.17 L760.20,244.96 L758.89,243.59 L758.67,243.79 L758.45,243.99 L758.22,244.19 L758.00,244.39 L757.77,244.60 L757.55,244.80 L757.32,245.00 L757.09,245.20 L756.87,245.40 L756.64,245.60 L756.41,245.80 L756.18,246.00 L755.95,246.20 L755.72,246.40 L755.49,246.60 L755.26,246.80 L755.03,246.99 L754.80,247.19 L754.56,247.39 L754.33,247.59 L754.10,247.78 L753.86,247.98 L753.62,248.17 L753.39,248.37 L753.15,248.56 L752.91,248.76 L752.67,248.95 L752.43,249.14 L752.18,249.34 L751.94,249.53 L751.69,249.72 L751.45,249.92 L751.20,250.11 L750.95,250.30 L750.70,250.50Z" fill="#c4e4e1"/>
<path d="M761.14,244.18 L761.36,243.97 L761.57,243.75 L761.78,243.54 L761.99,243.32 L762.20,243.11 L762.41,242.89 L762.62,242.68 L762.83,242.46 L763.04,242.24 L763.25,242.02 L763.46,241.81 L763.66,241.59 L763.87,241.37 L764.08,241.15 L764.29,240.93 L764.50,240.71 L764.71,240.49 L764.91,240.27 L765.12,240.05 L765.33,239.83 L765.53,239.61 L765.74,239.39 L765.94,239.17 L766.15,238.95 L765.30,238.14 L765.09,238.35 L764.88,238.56 L764.67,238.78 L764.46,238.99 L764.25,239.20 L764.03,239.42 L763.82,239.63 L763.61,239.84 L763.39,240.05 L763.18,240.26 L762.97,240.48 L762.75,240.69 L762.54,240.90 L762.33,241.11 L762.11,241.32 L761.90,241.53 L761.68,241.74 L761.47,241.95 L761.25,242.16 L761.04,242.36 L760.82,242.57 L760.61,242.78 L760.39,242.99 L760.17,243.19Z" fill="#c4e4e1"/>
<path d="M766.69,238.22 L766.89,237.99 L767.10,237.77 L767.30,237.55 L767.51,237.32 L767.71,237.10 L767.92,236.87 L768.12,236.65 L768.32,236.42 L768.53,236.19 L768.73,235.96 L768.94,235.74 L769.14,235.51 L769.35,235.28 L769.55,235.05 L769.76,234.82 L769.96,234.58 L770.17,234.35 L770.37,234.12 L770.58,233.89 L770.78,233.66 L770.99,233.42 L771.19,233.19 L771.40,232.95 L771.60,232.72 L771.81,232.48 L772.01,232.25 L772.22,232.01 L772.42,231.77 L772.63,231.53 L772.84,231.29 L773.04,231.05 L773.25,230.80 L773.46,230.56 L773.66,230.31 L773.87,230.06 L773.04,229.34 L772.82,229.58 L772.60,229.82 L772.39,230.05 L772.18,230.29 L771.96,230.52 L771.75,230.75 L771.53,230.98 L771.32,231.21 L771.11,231.44 L770.89,231.67 L770.68,231.89 L770.47,232.12 L770.25,232.34 L770.04,232.57 L769.83,232.79 L769.62,233.02 L769.40,233.24 L769.19,233.46 L768.98,233.68 L768.76,233.91 L768.55,234.13 L768.34,234.35 L768.12,234.57 L767.91,234.79 L767.70,235.01 L767.49,235.23 L767.27,235.45 L767.06,235.66 L766.85,235.88 L766.64,236.09 L766.43,236.31 L766.22,236.52 L766.00,236.74 L765.79,236.95 L765.58,237.16Z" fill="#c4e4e1"/>
<path d="M774.79,229.06 L775.03,228.78 L775.27,228.48 L775.51,228.19 L775.75,227.89 L776.00,227.58 L776.24,227.28 L776.49,226.97 L776.73,226.67 L776.97,226.37 L777.21,226.08 L777.44,225.79 L777.66,225.51 L777.88,225.24 L778.08,224.98 L778.28,224.74 L778.47,224.50 L778.64,224.29 L778.80,224.08 L778.94,223.90 L779.07,223.74 L779.18,223.60 L778.72,223.21 L778.60,223.35 L778.46,223.51 L778.31,223.69 L778.15,223.88 L777.97,224.09 L777.77,224.32 L777.57,224.56 L777.36,224.82 L777.14,225.08 L776.91,225.35 L776.67,225.63 L776.43,225.92 L776.18,226.21 L775.93,226.51 L775.68,226.81 L775.43,227.10 L775.17,227.40 L774.92,227.70 L774.67,227.99 L774.43,228.27 L774.19,228.55Z" fill="#c4e4e1"/>
<path d="M725.67,115.68 L725.39,115.61 L725.09,115.54 L724.73,115.43 L724.32,115.31 L723.86,115.18 L723.35,115.03 L722.82,114.86 L722.24,114.69 L721.64,114.51 L721.02,114.32 L720.37,114.13 L719.70,113.93 L719.01,113.74 L718.31,113.54 L717.60,113.34 L716.88,113.15 L716.15,112.97 L715.41,112.79 L714.67,112.61 L713.93,112.45 L713.19,112.30 L712.45,112.16 L711.71,112.04 L711.00,111.94 L710.32,111.85 L709.66,111.77 L709.00,111.70 L708.34,111.64 L707.68,111.58 L707.01,111.53 L706.34,111.49 L705.68,111.45 L705.01,111.42 L704.34,111.40 L703.67,111.38 L703.00,111.37 L702.33,111.37 L701.66,111.37 L700.99,111.38 L700.32,111.39 L699.65,111.42 L698.98,111.45 L698.31,111.48 L697.64,111.52 L696.97,111.57 L696.30,111.63 L695.64,111.69 L694.97,111.76 L694.31,111.82 L693.64,111.90 L692.98,111.98 L692.31,112.07 L691.64,112.16 L690.98,112.26 L690.31,112.37 L689.64,112.48 L688.98,112.60 L688.31,112.73 L687.65,112.87 L686.99,113.01 L686.32,113.15 L685.66,113.30 L685.00,113.46 L684.35,113.63 L683.69,113.80 L683.03,113.97 L682.38,114.16 L681.73,114.34 L681.08,114.54 L680.44,114.74 L679.79,114.95 L679.15,115.16 L678.51,115.38 L677.88,115.61 L677.24,115.85 L676.61,116.09 L675.97,116.34 L675.34,116.60 L674.71,116.86 L674.08,117.12 L673.46,117.40 L672.83,117.68 L672.21,117.96 L671.59,118.25 L670.98,118.55 L670.36,118.85 L669.75,119.16 L669.14,119.47 L668.54,119.79 L667.94,120.11 L667.34,120.44 L666.74,120.77 L666.15,121.11 L665.56,121.45 L664.98,121.80 L664.40,122.16 L663.83,122.53 L663.26,122.91 L662.70,123.29 L662.13,123.68 L661.58,124.08 L661.02,124.48 L660.47,124.88 L659.92,125.30 L659.37,125.71 L658.83,126.13 L658.30,126.56 L657.76,126.99 L657.23,127.42 L656.70,127.86 L656.18,128.30 L655.66,128.75 L655.15,129.20 L654.64,129.66 L654.14,130.12 L653.63,130.58 L653.14,131.05 L652.65,131.52 L652.16,132.00 L651.68,132.48 L651.20,132.96 L650.72,133.44 L650.25,133.93 L649.78,134.43 L649.32,134.93 L648.85,135.43 L648.40,135.94 L647.95,136.45 L647.50,136.96 L647.05,137.48 L646.61,138.01 L646.18,138.54 L645.75,139.07 L645.32,139.60 L644.90,140.14 L644.49,140.68 L644.08,141.22 L643.67,141.77 L643.27,142.32 L642.87,142.87 L642.48,143.42 L642.10,143.98 L641.72,144.54 L641.34,145.10 L640.96,145.66 L640.59,146.23 L640.22,146.80 L639.86,147.37 L639.50,147.95 L639.15,148.53 L638.80,149.11 L638.46,149.69 L638.12,150.28 L637.79,150.87 L637.46,151.47 L637.13,152.07 L636.82,152.66 L636.50,153.27 L636.19,153.87 L635.89,154.48 L635.59,155.08 L635.30,155.69 L635.01,156.30 L634.73,156.92 L634.45,157.53 L634.18,158.14 L633.92,158.76 L633.66,159.38 L633.40,160.00 L633.15,160.62 L632.90,161.25 L632.66,161.88 L632.42,162.51 L632.19,163.14 L631.97,163.77 L631.74,164.41 L631.53,165.05 L631.32,165.69 L631.11,166.33 L630.91,166.97 L630.72,167.61 L630.53,168.26 L630.35,168.90 L630.17,169.55 L630.00,170.19 L629.83,170.84 L629.67,171.49 L629.51,172.14 L629.36,172.79 L629.21,173.44 L629.07,174.08 L628.94,174.73 L628.81,175.38 L628.69,176.04 L628.58,176.69 L628.47,177.35 L628.37,178.00 L628.27,178.66 L628.18,179.32 L628.09,179.98 L628.01,180.64 L627.93,181.30 L627.86,181.96 L627.80,182.62 L627.74,183.28 L627.68,183.94 L627.63,184.59 L627.59,185.25 L627.55,185.91 L627.51,186.57 L627.48,187.23 L627.46,187.88 L627.44,188.54 L627.43,189.19 L627.42,189.84 L627.42,190.49 L627.41,191.14 L627.42,191.80 L627.43,192.45 L627.44,193.10 L627.46,193.75 L627.49,194.40 L627.52,195.06 L627.55,195.71 L627.60,196.36 L627.64,197.01 L627.69,197.65 L627.75,198.30 L627.81,198.95 L627.88,199.59 L627.95,200.24 L628.02,200.88 L628.10,201.52 L628.19,202.16 L628.28,202.80 L628.37,203.43 L628.47,204.06 L628.58,204.70 L628.68,205.32 L628.80,205.95 L628.92,206.58 L629.04,207.20 L629.17,207.83 L629.31,208.45 L629.45,209.08 L629.59,209.70 L629.74,210.32 L629.90,210.93 L630.05,211.55 L630.22,212.16 L630.39,212.78 L630.56,213.39 L630.74,214.00 L630.92,214.60 L631.11,215.20 L631.30,215.81 L631.49,216.41 L631.69,217.00 L631.89,217.60 L632.10,218.19 L632.31,218.77 L632.52,219.36 L632.74,219.94 L632.96,220.52 L633.19,221.10 L633.42,221.68 L633.65,222.25 L633.89,222.83 L634.14,223.40 L634.38,223.96 L634.63,224.53 L634.89,225.09 L635.15,225.66 L635.42,226.21 L635.68,226.77 L635.96,227.32 L636.23,227.87 L636.51,228.42 L636.79,228.97 L637.08,229.51 L637.37,230.05 L637.66,230.58 L637.96,231.11 L638.26,231.64 L638.56,232.16 L638.87,232.69 L639.18,233.20 L639.49,233.72 L639.80,234.23 L640.12,234.74 L640.44,235.25 L640.77,235.76 L641.10,236.26 L641.43,236.76 L641.77,237.26 L642.11,237.76 L642.45,238.25 L642.79,238.74 L643.14,239.22 L643.50,239.70 L643.85,240.18 L644.21,240.65 L644.57,241.12 L644.94,241.59 L645.30,242.06 L645.67,242.52 L646.04,242.97 L646.42,243.42 L646.79,243.87 L647.17,244.32 L647.55,244.76 L647.94,245.20 L648.32,245.63 L648.71,246.07 L649.10,246.50 L649.50,246.92 L649.90,247.34 L650.30,247.76 L650.70,248.18 L651.11,248.59 L651.52,249.00 L651.93,249.40 L652.35,249.80 L652.76,250.20 L653.18,250.59 L653.60,250.98 L654.02,251.37 L654.45,251.75 L654.87,252.13 L655.30,252.50 L655.73,252.87 L656.16,253.24 L656.59,253.60 L657.03,253.96 L657.46,254.32 L657.90,254.67 L658.34,255.01 L658.78,255.36 L659.22,255.70 L659.67,256.04 L660.12,256.37 L660.57,256.70 L661.02,257.02 L661.47,257.35 L661.93,257.66 L662.39,257.98 L662.85,258.29 L663.31,258.59 L663.77,258.89 L664.23,259.19 L664.69,259.49 L665.16,259.78 L665.62,260.06 L666.09,260.34 L666.56,260.62 L667.02,260.90 L667.49,261.17 L667.96,261.44 L668.43,261.70 L668.90,261.96 L669.37,262.21 L669.84,262.47 L670.32,262.71 L670.79,262.96 L671.27,263.20 L671.75,263.44 L672.23,263.67 L672.71,263.90 L673.19,264.12 L673.67,264.34 L674.16,264.56 L674.64,264.77 L675.12,264.98 L675.61,265.19 L676.09,265.39 L676.57,265.59 L677.06,265.78 L677.54,265.97 L678.03,266.16 L678.51,266.34 L678.99,266.52 L679.48,266.69 L679.96,266.87 L680.44,267.03 L680.93,267.20 L681.41,267.36 L681.90,267.52 L682.39,267.68 L682.87,267.83 L683.36,267.97 L683.85,268.11 L684.34,268.25 L684.82,268.39 L685.31,268.52 L685.80,268.65 L686.28,268.77 L686.77,268.89 L687.26,269.01 L687.74,269.12 L688.23,269.23 L688.71,269.34 L689.20,269.44 L689.68,269.54 L690.16,269.64 L690.64,269.73 L691.12,269.82 L691.60,269.90 L692.08,269.99 L692.56,270.07 L693.04,270.15 L693.52,270.22 L694.00,270.29 L694.48,270.35 L694.96,270.42 L695.43,270.48 L695.91,270.53 L696.39,270.58 L696.43,270.21 L695.96,270.16 L695.48,270.10 L695.01,270.05 L694.53,269.98 L694.05,269.92 L693.58,269.85 L693.10,269.77 L692.62,269.70 L692.15,269.61 L691.67,269.53 L691.19,269.44 L690.72,269.35 L690.24,269.26 L689.76,269.16 L689.28,269.06 L688.80,268.96 L688.31,268.85 L687.83,268.74 L687.35,268.63 L686.87,268.51 L686.38,268.39 L685.90,268.27 L685.41,268.14 L684.93,268.01 L684.44,267.88 L683.96,267.74 L683.48,267.59 L682.99,267.45 L682.51,267.30 L682.02,267.14 L681.54,266.99 L681.06,266.82 L680.58,266.66 L680.10,266.49 L679.62,266.32 L679.14,266.14 L678.66,265.96 L678.18,265.78 L677.69,265.59 L677.21,265.40 L676.73,265.21 L676.25,265.01 L675.77,264.81 L675.29,264.60 L674.81,264.40 L674.33,264.18 L673.85,263.97 L673.37,263.75 L672.89,263.52 L672.41,263.29 L671.94,263.06 L671.46,262.83 L670.99,262.59 L670.51,262.34 L670.04,262.09 L669.57,261.84 L669.10,261.59 L668.64,261.33 L668.17,261.07 L667.71,260.80 L667.24,260.53 L666.78,260.26 L666.31,259.98 L665.85,259.70 L665.39,259.41 L664.93,259.12 L664.47,258.83 L664.01,258.53 L663.55,258.23 L663.09,257.92 L662.64,257.62 L662.18,257.30 L661.73,256.99 L661.28,256.67 L660.83,256.34 L660.38,256.01 L659.94,255.68 L659.50,255.35 L659.06,255.01 L658.62,254.66 L658.18,254.32 L657.75,253.97 L657.32,253.61 L656.89,253.26 L656.46,252.90 L656.03,252.53 L655.61,252.16 L655.18,251.79 L654.76,251.41 L654.34,251.03 L653.92,250.65 L653.50,250.26 L653.08,249.87 L652.67,249.47 L652.26,249.07 L651.85,248.67 L651.44,248.26 L651.04,247.85 L650.64,247.44 L650.24,247.02 L649.85,246.60 L649.45,246.18 L649.07,245.75 L648.68,245.32 L648.30,244.89 L647.92,244.45 L647.54,244.01 L647.16,243.57 L646.79,243.12 L646.42,242.67 L646.05,242.22 L645.69,241.76 L645.32,241.30 L644.96,240.83 L644.60,240.36 L644.25,239.89 L643.90,239.41 L643.55,238.93 L643.20,238.45 L642.86,237.97 L642.52,237.48 L642.18,236.99 L641.85,236.49 L641.52,235.99 L641.19,235.49 L640.87,234.99 L640.55,234.48 L640.24,233.97 L639.93,233.46 L639.62,232.95 L639.31,232.43 L639.01,231.91 L638.71,231.39 L638.42,230.87 L638.12,230.34 L637.83,229.80 L637.55,229.27 L637.26,228.73 L636.98,228.19 L636.71,227.64 L636.44,227.10 L636.17,226.55 L635.90,225.99 L635.64,225.44 L635.39,224.88 L635.13,224.32 L634.88,223.75 L634.64,223.19 L634.40,222.62 L634.17,222.05 L633.93,221.48 L633.71,220.90 L633.49,220.33 L633.27,219.75 L633.05,219.17 L632.84,218.59 L632.64,218.01 L632.43,217.42 L632.23,216.83 L632.04,216.24 L631.85,215.64 L631.66,215.04 L631.48,214.44 L631.30,213.84 L631.13,213.24 L630.96,212.63 L630.79,212.02 L630.63,211.41 L630.48,210.80 L630.32,210.18 L630.18,209.57 L630.04,208.95 L629.90,208.33 L629.77,207.71 L629.64,207.09 L629.52,206.47 L629.40,205.85 L629.29,205.23 L629.19,204.60 L629.09,203.98 L628.99,203.35 L628.90,202.72 L628.81,202.08 L628.73,201.45 L628.65,200.81 L628.58,200.18 L628.51,199.54 L628.45,198.90 L628.39,198.25 L628.34,197.61 L628.29,196.97 L628.24,196.32 L628.21,195.68 L628.17,195.03 L628.14,194.39 L628.12,193.74 L628.10,193.09 L628.09,192.45 L628.08,191.80 L628.08,191.15 L628.09,190.51 L628.09,189.86 L628.10,189.22 L628.12,188.57 L628.14,187.92 L628.17,187.27 L628.20,186.62 L628.24,185.97 L628.28,185.31 L628.32,184.66 L628.38,184.01 L628.43,183.35 L628.50,182.70 L628.56,182.05 L628.64,181.39 L628.71,180.74 L628.80,180.09 L628.89,179.43 L628.98,178.78 L629.08,178.13 L629.19,177.48 L629.30,176.83 L629.41,176.18 L629.53,175.54 L629.66,174.89 L629.79,174.25 L629.93,173.61 L630.08,172.96 L630.23,172.32 L630.39,171.68 L630.55,171.04 L630.72,170.40 L630.89,169.76 L631.07,169.12 L631.26,168.48 L631.45,167.84 L631.64,167.20 L631.84,166.57 L632.04,165.93 L632.25,165.30 L632.47,164.67 L632.69,164.04 L632.91,163.41 L633.14,162.78 L633.38,162.16 L633.62,161.54 L633.87,160.92 L634.12,160.30 L634.37,159.69 L634.63,159.08 L634.90,158.47 L635.17,157.86 L635.45,157.26 L635.73,156.65 L636.01,156.05 L636.30,155.44 L636.60,154.84 L636.90,154.24 L637.21,153.65 L637.52,153.05 L637.84,152.46 L638.16,151.87 L638.49,151.28 L638.82,150.70 L639.16,150.12 L639.50,149.54 L639.85,148.96 L640.20,148.39 L640.55,147.82 L640.91,147.25 L641.28,146.69 L641.65,146.13 L642.02,145.58 L642.40,145.02 L642.78,144.47 L643.16,143.92 L643.55,143.38 L643.94,142.83 L644.34,142.29 L644.75,141.75 L645.16,141.22 L645.57,140.68 L645.99,140.16 L646.41,139.63 L646.84,139.11 L647.27,138.59 L647.71,138.07 L648.15,137.56 L648.60,137.05 L649.05,136.55 L649.50,136.05 L649.96,135.55 L650.42,135.06 L650.89,134.57 L651.36,134.09 L651.83,133.61 L652.31,133.14 L652.79,132.67 L653.27,132.21 L653.76,131.74 L654.25,131.28 L654.75,130.83 L655.25,130.38 L655.76,129.93 L656.27,129.49 L656.78,129.05 L657.30,128.61 L657.82,128.18 L658.35,127.76 L658.88,127.33 L659.41,126.92 L659.95,126.50 L660.49,126.10 L661.03,125.69 L661.58,125.30 L662.13,124.91 L662.68,124.52 L663.24,124.14 L663.80,123.76 L664.36,123.39 L664.92,123.03 L665.50,122.68 L666.07,122.34 L666.65,122.00 L667.24,121.66 L667.83,121.34 L668.42,121.01 L669.01,120.69 L669.61,120.38 L670.21,120.07 L670.81,119.77 L671.42,119.48 L672.03,119.18 L672.64,118.90 L673.25,118.62 L673.87,118.34 L674.49,118.08 L675.10,117.81 L675.73,117.56 L676.35,117.30 L676.97,117.06 L677.60,116.82 L678.23,116.59 L678.85,116.36 L679.48,116.14 L680.12,115.93 L680.75,115.73 L681.39,115.53 L682.03,115.34 L682.67,115.16 L683.31,114.98 L683.96,114.80 L684.60,114.63 L685.25,114.47 L685.90,114.32 L686.55,114.17 L687.21,114.02 L687.86,113.88 L688.51,113.75 L689.17,113.63 L689.82,113.51 L690.48,113.40 L691.14,113.29 L691.79,113.19 L692.45,113.10 L693.11,113.01 L693.76,112.93 L694.42,112.86 L695.07,112.79 L695.73,112.73 L696.38,112.67 L697.04,112.61 L697.70,112.57 L698.35,112.53 L699.01,112.49 L699.67,112.47 L700.33,112.44 L700.99,112.43 L701.65,112.42 L702.32,112.42 L702.98,112.43 L703.64,112.44 L704.30,112.46 L704.95,112.48 L705.61,112.51 L706.27,112.55 L706.92,112.59 L707.58,112.64 L708.23,112.70 L708.88,112.76 L709.53,112.83 L710.18,112.91 L710.84,113.00 L711.54,113.10 L712.25,113.22 L712.97,113.36 L713.70,113.51 L714.42,113.67 L715.15,113.84 L715.87,114.02 L716.59,114.20 L717.30,114.40 L718.01,114.59 L718.70,114.79 L719.38,114.98 L720.04,115.18 L720.69,115.37 L721.31,115.56 L721.91,115.74 L722.48,115.92 L723.01,116.08 L723.52,116.23 L723.98,116.37 L724.40,116.50 L724.77,116.60 L725.08,116.69 L725.36,116.76Z" fill="#c4e4e1"/>
<path d="M704.39,110.20 L703.71,110.19 L703.02,110.18 L702.34,110.18 L701.66,110.18 L700.98,110.19 L700.29,110.21 L699.61,110.24 L698.93,110.27 L698.25,110.30 L697.57,110.35 L696.89,110.40 L696.21,110.46 L695.54,110.52 L694.86,110.59 L694.18,110.66 L693.51,110.74 L692.83,110.82 L692.15,110.91 L691.47,111.00 L690.80,111.11 L690.12,111.22 L689.44,111.33 L688.76,111.45 L688.09,111.58 L687.41,111.72 L686.74,111.86 L686.07,112.01 L685.40,112.16 L684.73,112.33 L684.06,112.49 L683.39,112.67 L682.72,112.85 L682.06,113.03 L681.40,113.22 L680.74,113.42 L680.08,113.62 L679.43,113.83 L678.78,114.05 L678.13,114.28 L677.48,114.51 L676.84,114.75 L676.19,115.00 L675.55,115.26 L674.91,115.52 L674.27,115.78 L673.63,116.05 L673.00,116.33 L672.36,116.62 L671.73,116.91 L671.11,117.20 L670.48,117.51 L669.86,117.81 L669.24,118.13 L668.62,118.44 L668.01,118.77 L667.40,119.10 L666.79,119.43 L666.18,119.77 L665.58,120.11 L664.99,120.46 L664.39,120.82 L663.80,121.18 L663.23,121.56 L662.65,121.95 L662.08,122.34 L661.52,122.74 L660.95,123.15 L660.39,123.56 L659.83,123.97 L659.28,124.39 L658.73,124.82 L658.18,125.25 L657.64,125.68 L657.10,126.12 L656.57,126.57 L656.04,127.01 L655.51,127.47 L654.99,127.92 L654.47,128.39 L653.96,128.85 L653.45,129.32 L652.94,129.79 L652.44,130.27 L651.95,130.75 L651.46,131.24 L650.97,131.72 L650.49,132.21 L650.01,132.71 L649.53,133.21 L649.06,133.71 L648.59,134.22 L648.13,134.73 L647.67,135.25 L647.21,135.77 L646.76,136.30 L646.31,136.82 L645.87,137.36 L645.43,137.89 L645.00,138.43 L644.57,138.97 L644.15,139.52 L643.73,140.07 L643.32,140.62 L642.91,141.18 L642.51,141.73 L642.11,142.29 L641.72,142.86 L641.33,143.42 L640.95,143.99 L640.57,144.56 L640.19,145.13 L639.82,145.71 L639.45,146.28 L639.08,146.86 L638.72,147.45 L638.37,148.04 L638.02,148.63 L637.67,149.22 L637.33,149.82 L637.00,150.42 L636.67,151.02 L636.34,151.62 L636.02,152.23 L635.71,152.84 L635.40,153.45 L635.09,154.06 L634.79,154.68 L634.50,155.30 L634.21,155.91 L633.93,156.53 L633.65,157.16 L633.38,157.78 L633.11,158.40 L632.85,159.03 L632.59,159.65 L632.34,160.29 L632.09,160.92 L631.85,161.55 L631.61,162.19 L631.38,162.83 L631.15,163.47 L630.93,164.12 L630.71,164.76 L630.50,165.41 L630.30,166.06 L630.10,166.71 L629.90,167.36 L629.72,168.01 L629.53,168.66 L629.35,169.31 L629.18,169.97 L629.01,170.62 L628.85,171.28 L628.69,171.93 L628.54,172.59 L628.40,173.24 L628.26,173.90 L628.12,174.55 L628.00,175.21 L627.88,175.87 L627.77,176.54 L627.66,177.20 L627.56,177.86 L627.47,178.53 L627.38,179.19 L627.29,179.86 L627.21,180.53 L627.14,181.19 L627.07,181.86 L627.01,182.52 L626.95,183.19 L626.90,183.86 L626.85,184.52 L626.81,185.19 L626.77,185.85 L626.74,186.51 L626.72,187.18 L626.69,187.84 L626.68,188.50 L626.67,189.16 L626.66,189.82 L626.66,190.47 L626.66,191.13 L626.67,191.79 L626.68,192.45 L626.70,193.11 L626.72,193.77 L626.75,194.42 L626.78,195.08 L626.82,195.74 L626.86,196.39 L626.91,197.05 L626.97,197.70 L627.03,198.35 L627.09,199.01 L627.16,199.66 L627.23,200.31 L627.31,200.95 L627.40,201.60 L627.48,202.24 L627.58,202.88 L627.68,203.53 L627.78,204.16 L627.88,204.80 L628.00,205.43 L628.11,206.06 L628.24,206.70 L628.36,207.33 L628.50,207.96 L628.64,208.59 L628.78,209.21 L628.93,209.84 L629.08,210.46 L629.24,211.09 L629.41,211.71 L629.57,212.33 L629.75,212.94 L629.92,213.56 L630.10,214.17 L630.29,214.78 L630.48,215.39 L630.67,215.99 L630.87,216.59 L631.08,217.19 L631.28,217.79 L631.49,218.39 L631.71,218.98 L631.93,219.57 L632.15,220.15 L632.38,220.73 L632.61,221.32 L632.84,221.90 L633.08,222.48 L633.32,223.05 L633.57,223.63 L633.82,224.20 L634.07,224.77 L634.33,225.34 L634.60,225.90 L634.87,226.47 L635.14,227.02 L635.42,227.58 L635.70,228.13 L635.98,228.68 L636.27,229.23 L636.56,229.78 L636.85,230.32 L637.15,230.85 L637.45,231.39 L637.75,231.92 L638.06,232.45 L638.37,232.97 L638.68,233.49 L639.00,234.01 L639.32,234.52 L639.64,235.04 L639.96,235.55 L640.29,236.06 L640.62,236.57 L640.96,237.07 L641.30,237.57 L641.64,238.07 L641.99,238.56 L642.34,239.05 L642.69,239.54 L643.05,240.02 L643.41,240.50 L643.77,240.98 L644.14,241.45 L644.50,241.92 L644.87,242.39 L645.25,242.85 L645.62,243.31 L646.00,243.77 L646.38,244.22 L646.76,244.66 L647.14,245.11 L647.53,245.55 L647.92,245.99 L648.19,245.75 L647.80,245.31 L647.42,244.88 L647.04,244.43 L646.66,243.99 L646.28,243.54 L645.90,243.09 L645.53,242.63 L645.16,242.17 L644.79,241.70 L644.43,241.23 L644.06,240.76 L643.70,240.29 L643.35,239.81 L642.99,239.33 L642.64,238.84 L642.30,238.35 L641.95,237.86 L641.61,237.37 L641.27,236.87 L640.94,236.37 L640.61,235.86 L640.28,235.35 L639.96,234.84 L639.64,234.33 L639.33,233.81 L639.01,233.30 L638.70,232.78 L638.40,232.26 L638.09,231.73 L637.79,231.20 L637.49,230.67 L637.20,230.14 L636.91,229.60 L636.62,229.05 L636.33,228.51 L636.05,227.96 L635.78,227.41 L635.50,226.86 L635.23,226.30 L634.97,225.74 L634.71,225.18 L634.45,224.61 L634.19,224.04 L633.95,223.47 L633.70,222.90 L633.46,222.33 L633.23,221.75 L632.99,221.17 L632.77,220.59 L632.54,220.01 L632.33,219.43 L632.11,218.84 L631.90,218.25 L631.69,217.66 L631.49,217.07 L631.29,216.47 L631.09,215.87 L630.90,215.27 L630.71,214.66 L630.53,214.05 L630.35,213.44 L630.17,212.83 L630.00,212.22 L629.84,211.60 L629.68,210.98 L629.52,210.37 L629.37,209.74 L629.22,209.12 L629.08,208.50 L628.95,207.87 L628.82,207.25 L628.69,206.62 L628.57,205.99 L628.45,205.36 L628.35,204.73 L628.24,204.10 L628.14,203.46 L628.04,202.83 L627.95,202.19 L627.87,201.55 L627.79,200.90 L627.71,200.26 L627.64,199.61 L627.57,198.97 L627.51,198.32 L627.45,197.67 L627.40,197.02 L627.35,196.37 L627.31,195.72 L627.27,195.06 L627.24,194.41 L627.22,193.76 L627.19,193.10 L627.18,192.45 L627.17,191.79 L627.16,191.14 L627.16,190.49 L627.17,189.83 L627.17,189.18 L627.19,188.52 L627.20,187.87 L627.23,187.21 L627.26,186.55 L627.29,185.89 L627.33,185.23 L627.37,184.57 L627.42,183.91 L627.47,183.25 L627.53,182.59 L627.60,181.92 L627.67,181.26 L627.74,180.60 L627.82,179.94 L627.91,179.28 L628.00,178.62 L628.10,177.96 L628.20,177.30 L628.31,176.64 L628.42,175.98 L628.54,175.33 L628.66,174.67 L628.80,174.02 L628.94,173.37 L629.09,172.72 L629.24,172.07 L629.39,171.42 L629.56,170.77 L629.72,170.12 L629.90,169.47 L630.08,168.82 L630.26,168.17 L630.45,167.53 L630.64,166.88 L630.84,166.24 L631.05,165.59 L631.26,164.95 L631.47,164.31 L631.69,163.67 L631.92,163.04 L632.15,162.40 L632.39,161.77 L632.63,161.14 L632.88,160.51 L633.13,159.88 L633.39,159.26 L633.65,158.64 L633.91,158.02 L634.19,157.40 L634.46,156.79 L634.74,156.17 L635.03,155.56 L635.33,154.95 L635.62,154.34 L635.93,153.73 L636.24,153.12 L636.55,152.52 L636.87,151.92 L637.19,151.32 L637.52,150.72 L637.86,150.13 L638.20,149.54 L638.54,148.95 L638.89,148.36 L639.24,147.78 L639.60,147.20 L639.97,146.62 L640.33,146.05 L640.71,145.48 L641.08,144.92 L641.46,144.36 L641.84,143.79 L642.23,143.23 L642.62,142.68 L643.01,142.12 L643.42,141.57 L643.82,141.02 L644.24,140.47 L644.65,139.93 L645.07,139.39 L645.50,138.85 L645.93,138.32 L646.37,137.79 L646.81,137.26 L647.25,136.74 L647.70,136.22 L648.15,135.71 L648.61,135.20 L649.07,134.69 L649.54,134.19 L650.01,133.69 L650.48,133.20 L650.96,132.71 L651.44,132.22 L651.93,131.74 L652.41,131.27 L652.91,130.79 L653.40,130.32 L653.91,129.85 L654.41,129.39 L654.92,128.93 L655.44,128.48 L655.96,128.03 L656.48,127.58 L657.01,127.14 L657.54,126.70 L658.08,126.27 L658.62,125.84 L659.16,125.41 L659.71,124.99 L660.26,124.58 L660.81,124.17 L661.37,123.77 L661.93,123.37 L662.49,122.98 L663.06,122.59 L663.63,122.21 L664.20,121.83 L664.78,121.47 L665.37,121.12 L665.96,120.78 L666.56,120.44 L667.15,120.10 L667.76,119.77 L668.36,119.45 L668.97,119.13 L669.58,118.81 L670.19,118.50 L670.81,118.20 L671.43,117.90 L672.05,117.61 L672.68,117.32 L673.30,117.04 L673.93,116.77 L674.56,116.50 L675.20,116.24 L675.83,115.98 L676.47,115.73 L677.11,115.48 L677.75,115.25 L678.39,115.01 L679.03,114.79 L679.67,114.58 L680.32,114.37 L680.97,114.17 L681.62,113.97 L682.28,113.78 L682.93,113.60 L683.59,113.42 L684.25,113.25 L684.91,113.08 L685.57,112.92 L686.24,112.77 L686.90,112.62 L687.57,112.48 L688.24,112.35 L688.91,112.22 L689.58,112.10 L690.25,111.99 L690.92,111.88 L691.59,111.78 L692.26,111.68 L692.93,111.59 L693.60,111.51 L694.27,111.44 L694.94,111.37 L695.60,111.30 L696.27,111.24 L696.94,111.18 L697.61,111.13 L698.29,111.09 L698.96,111.05 L699.63,111.02 L700.31,111.00 L700.98,110.98 L701.66,110.97 L702.33,110.97 L703.01,110.97 L703.68,110.98 L704.36,111.00Z" fill="#c4e4e1"/>
<path d="M433.07,403.92 L433.40,403.78 L433.78,403.62 L434.21,403.45 L434.69,403.25 L435.21,403.05 L435.76,402.83 L436.35,402.59 L436.98,402.35 L437.62,402.10 L438.30,401.84 L438.99,401.58 L439.70,401.32 L440.42,401.05 L441.16,400.78 L441.90,400.51 L442.64,400.25 L443.38,399.99 L444.12,399.73 L444.86,399.49 L445.58,399.25 L446.30,399.02 L446.99,398.81 L447.67,398.61 L448.33,398.42 L448.97,398.27 L449.60,398.12 L450.24,397.98 L450.87,397.84 L451.51,397.71 L452.14,397.59 L452.77,397.47 L453.40,397.35 L454.03,397.24 L454.66,397.13 L455.29,397.03 L455.92,396.94 L456.54,396.84 L457.16,396.75 L457.78,396.67 L458.40,396.59 L459.02,396.51 L459.64,396.44 L460.25,396.37 L460.86,396.31 L461.47,396.25 L462.08,396.19 L462.68,396.14 L463.28,396.09 L463.89,396.05 L464.49,396.02 L465.10,395.99 L465.70,395.97 L466.29,395.95 L466.89,395.93 L467.49,395.92 L468.08,395.91 L468.67,395.91 L469.26,395.91 L469.85,395.91 L470.43,395.92 L471.02,395.94 L471.60,395.95 L472.18,395.97 L472.75,396.00 L473.33,396.02 L473.90,396.05 L474.47,396.09 L475.03,396.12 L475.60,396.16 L476.16,396.21 L476.72,396.25 L477.27,396.30 L477.83,396.36 L478.38,396.42 L478.94,396.49 L479.49,396.56 L480.03,396.64 L480.58,396.72 L481.12,396.80 L481.66,396.88 L482.20,396.97 L482.74,397.06 L483.27,397.16 L483.80,397.26 L484.32,397.36 L484.85,397.47 L485.37,397.57 L485.89,397.68 L486.41,397.80 L486.92,397.91 L487.43,398.03 L487.94,398.15 L488.44,398.27 L488.94,398.40 L489.44,398.53 L489.94,398.66 L490.43,398.79 L490.93,398.93 L491.42,399.06 L491.91,399.21 L492.40,399.35 L492.88,399.50 L493.36,399.65 L493.84,399.81 L494.32,399.96 L494.79,400.12 L495.26,400.29 L495.73,400.45 L496.19,400.62 L496.65,400.79 L497.11,400.96 L497.56,401.13 L498.02,401.30 L498.46,401.48 L498.91,401.66 L499.35,401.84 L499.79,402.02 L500.23,402.20 L500.66,402.39 L501.10,402.57 L501.53,402.77 L501.96,402.96 L502.38,403.16 L502.81,403.35 L503.23,403.56 L503.64,403.76 L504.06,403.96 L504.47,404.17 L504.88,404.38 L505.28,404.59 L505.68,404.80 L506.08,405.02 L506.48,405.23 L506.87,405.45 L507.26,405.67 L507.65,405.89 L508.03,406.11 L508.42,406.33 L508.79,406.56 L509.17,406.78 L509.54,407.01 L509.91,407.23 L510.28,407.46 L510.64,407.69 L511.01,407.92 L511.37,408.15 L511.73,408.39 L512.08,408.62 L512.44,408.86 L512.79,409.10 L513.13,409.34 L513.48,409.58 L513.82,409.83 L514.16,410.07 L514.49,410.32 L514.82,410.56 L515.15,410.81 L515.48,411.06 L515.80,411.31 L516.12,411.56 L516.44,411.81 L516.76,412.06 L517.07,412.31 L517.38,412.56 L517.69,412.81 L517.99,413.07 L518.29,413.32 L518.59,413.57 L518.89,413.83 L519.19,414.08 L519.48,414.34 L519.78,414.60 L520.06,414.86 L520.35,415.12 L520.63,415.39 L520.91,415.65 L521.19,415.91 L521.47,416.17 L521.74,416.44 L522.01,416.70 L522.27,416.97 L522.54,417.23 L522.80,417.50 L523.06,417.76 L523.31,418.03 L523.57,418.29 L523.82,418.56 L524.07,418.82 L524.31,419.09 L524.56,419.35 L524.80,419.62 L525.04,419.88 L525.28,420.15 L525.52,420.42 L525.75,420.68 L525.98,420.95 L526.21,421.22 L526.44,421.49 L526.67,421.76 L526.89,422.03 L527.11,422.30 L527.33,422.57 L527.54,422.84 L527.75,423.11 L527.96,423.38 L528.17,423.65 L528.38,423.92 L528.58,424.19 L528.78,424.46 L528.98,424.72 L529.18,424.99 L529.37,425.26 L529.57,425.53 L529.76,425.79 L529.94,426.06 L530.13,426.33 L530.32,426.59 L530.51,426.86 L530.69,427.13 L530.87,427.40 L531.05,427.67 L531.22,427.94 L531.40,428.21 L531.57,428.48 L531.74,428.74 L531.91,429.01 L532.07,429.28 L532.24,429.55 L532.40,429.81 L532.56,430.08 L532.71,430.34 L532.87,430.61 L533.02,430.87 L533.18,431.14 L533.33,431.40 L533.48,431.66 L533.62,431.92 L533.77,432.18 L533.91,432.45 L534.06,432.71 L534.20,432.97 L534.34,433.23 L534.48,433.49 L534.62,433.76 L534.75,434.02 L534.89,434.28 L535.02,434.54 L535.15,434.80 L535.28,435.06 L535.40,435.32 L535.53,435.58 L535.65,435.84 L535.77,436.09 L535.89,436.35 L536.01,436.61 L536.13,436.86 L536.24,437.12 L536.36,437.37 L536.47,437.62 L536.58,437.88 L536.69,438.13 L536.80,438.38 L536.91,438.63 L537.02,438.88 L537.13,439.13 L537.23,439.38 L537.34,439.64 L537.44,439.89 L537.54,440.14 L537.64,440.39 L537.74,440.64 L537.84,440.89 L537.93,441.14 L538.03,441.38 L538.12,441.63 L538.21,441.88 L538.30,442.12 L538.39,442.37 L538.48,442.61 L538.57,442.85 L538.65,443.10 L538.74,443.34 L538.82,443.58 L538.91,443.82 L538.99,444.06 L539.07,444.30 L539.15,444.54 L539.23,444.78 L539.31,445.02 L539.39,445.26 L539.47,445.50 L539.55,445.74 L539.62,445.98 L539.70,446.22 L539.77,446.46 L539.85,446.69 L539.92,446.93 L539.99,447.17 L540.06,447.40 L540.13,447.64 L540.20,447.87 L540.26,448.10 L540.33,448.34 L540.39,448.57 L540.46,448.80 L540.52,449.03 L540.59,449.26 L540.65,449.49 L540.71,449.72 L540.77,449.95 L540.84,450.18 L540.90,450.41 L540.96,450.64 L541.02,450.87 L541.08,451.10 L541.14,451.33 L541.19,451.56 L541.25,451.79 L541.31,452.02 L541.36,452.25 L541.42,452.47 L541.47,452.70 L541.52,452.93 L541.58,453.15 L541.63,453.38 L541.68,453.60 L541.73,453.83 L541.78,454.05 L541.83,454.28 L541.88,454.50 L541.93,454.72 L541.98,454.95 L542.03,455.17 L542.07,455.40 L542.12,455.62 L542.17,455.84 L542.22,456.07 L542.26,456.29 L542.31,456.51 L542.35,456.74 L542.40,456.96 L542.44,457.18 L542.49,457.41 L542.53,457.63 L542.57,457.85 L542.61,458.08 L542.66,458.30 L542.70,458.52 L542.74,458.74 L542.78,458.96 L542.82,459.19 L542.86,459.41 L542.90,459.63 L542.94,459.85 L542.97,460.08 L543.01,460.30 L543.05,460.52 L543.09,460.74 L543.12,460.97 L543.16,461.19 L543.20,461.41 L543.23,461.64 L543.27,461.86 L543.30,462.08 L543.34,462.31 L543.37,462.53 L543.41,462.75 L543.44,462.98 L543.48,463.20 L543.51,463.43 L543.54,463.65 L543.57,463.88 L543.61,464.10 L543.64,464.33 L543.67,464.55 L543.70,464.78 L543.73,465.01 L543.76,465.23 L543.79,465.46 L543.82,465.69 L543.85,465.92 L543.88,466.15 L543.90,466.37 L543.93,466.60 L543.96,466.83 L543.98,467.06 L544.01,467.29 L544.03,467.52 L544.06,467.75 L544.08,467.99 L544.11,468.22 L544.13,468.45 L544.16,468.68 L544.18,468.91 L544.20,469.15 L544.22,469.38 L544.25,469.62 L544.27,469.85 L544.29,470.09 L544.31,470.33 L544.33,470.56 L544.35,470.80 L544.37,471.04 L544.38,471.28 L544.40,471.52 L544.42,471.76 L544.43,472.01 L544.45,472.25 L544.47,472.49 L544.48,472.73 L544.49,472.98 L544.51,473.22 L544.52,473.46 L544.53,473.71 L544.55,473.95 L544.56,474.20 L544.57,474.45 L544.58,474.70 L544.59,474.95 L544.60,475.20 L544.61,475.45 L544.62,475.70 L544.63,475.95 L544.63,476.20 L544.64,476.46 L544.64,476.72 L544.65,476.97 L544.65,477.23 L544.66,477.49 L544.66,477.75 L544.66,478.01 L544.66,478.27 L544.66,478.53 L544.65,478.79 L544.65,479.05 L544.65,479.32 L544.65,479.58 L544.64,479.84 L544.64,480.11 L544.63,480.38 L544.63,480.64 L544.62,480.91 L544.61,481.18 L544.60,481.45 L544.59,481.72 L544.58,482.00 L544.57,482.27 L544.56,482.55 L544.54,482.82 L544.53,483.10 L544.51,483.38 L544.49,483.66 L544.48,483.94 L544.45,484.22 L544.43,484.51 L544.41,484.79 L544.38,485.07 L544.36,485.36 L544.33,485.64 L544.31,485.92 L544.28,486.21 L544.25,486.50 L544.22,486.79 L544.19,487.08 L544.15,487.37 L544.12,487.66 L544.08,487.95 L544.05,488.25 L544.01,488.54 L543.97,488.84 L543.93,489.14 L543.89,489.44 L543.84,489.74 L543.80,490.04 L543.75,490.34 L543.70,490.65 L543.65,490.95 L543.60,491.26 L543.54,491.57 L543.49,491.88 L543.43,492.18 L543.37,492.49 L543.31,492.80 L543.25,493.11 L543.19,493.42 L543.13,493.73 L543.06,494.04 L542.99,494.36 L542.93,494.67 L542.86,494.99 L542.78,495.31 L542.71,495.63 L542.64,495.95 L542.56,496.27 L542.48,496.59 L542.40,496.91 L542.31,497.24 L542.23,497.56 L542.14,497.89 L542.05,498.22 L541.96,498.55 L541.87,498.87 L541.77,499.21 L541.67,499.54 L541.57,499.86 L541.46,500.19 L541.36,500.52 L541.25,500.86 L541.14,501.19 L541.03,501.52 L540.92,501.86 L540.81,502.19 L540.69,502.53 L540.57,502.87 L540.45,503.21 L540.33,503.55 L540.20,503.89 L540.07,504.23 L539.94,504.57 L539.81,504.92 L539.67,505.26 L539.53,505.61 L539.39,505.95 L539.25,506.30 L539.10,506.65 L538.96,506.99 L538.80,507.34 L538.65,507.69 L538.49,508.04 L538.33,508.38 L538.17,508.73 L538.01,509.08 L537.84,509.43 L537.68,509.78 L537.51,510.14 L537.34,510.49 L537.16,510.84 L536.98,511.20 L536.80,511.55 L536.62,511.91 L536.43,512.26 L536.25,512.62 L536.05,512.98 L535.86,513.34 L535.66,513.69 L535.46,514.05 L535.26,514.41 L535.05,514.77 L534.84,515.13 L534.63,515.49 L534.41,515.85 L534.19,516.20 L533.97,516.56 L533.75,516.92 L533.52,517.28 L533.29,517.64 L533.06,518.00 L532.83,518.36 L532.59,518.72 L532.35,519.08 L532.10,519.44 L531.86,519.80 L531.61,520.17 L531.36,520.53 L531.10,520.89 L530.84,521.25 L530.58,521.62 L530.31,521.98 L530.04,522.34 L529.77,522.70 L527.25,520.83 L527.50,520.47 L527.75,520.12 L527.99,519.77 L528.23,519.42 L528.47,519.06 L528.71,518.71 L528.94,518.36 L529.17,518.00 L529.39,517.65 L529.62,517.29 L529.84,516.94 L530.06,516.59 L530.27,516.24 L530.49,515.88 L530.70,515.53 L530.91,515.18 L531.11,514.83 L531.31,514.48 L531.51,514.13 L531.70,513.79 L531.89,513.44 L532.08,513.09 L532.26,512.75 L532.44,512.40 L532.62,512.06 L532.80,511.71 L532.97,511.36 L533.14,511.02 L533.31,510.67 L533.47,510.33 L533.63,509.98 L533.79,509.64 L533.95,509.30 L534.10,508.95 L534.25,508.61 L534.40,508.27 L534.55,507.93 L534.70,507.58 L534.84,507.24 L534.98,506.90 L535.12,506.56 L535.26,506.23 L535.39,505.89 L535.52,505.56 L535.65,505.23 L535.77,504.90 L535.90,504.57 L536.02,504.24 L536.13,503.91 L536.25,503.59 L536.36,503.26 L536.47,502.93 L536.58,502.60 L536.69,502.28 L536.79,501.95 L536.89,501.62 L536.99,501.30 L537.09,500.98 L537.19,500.65 L537.28,500.33 L537.37,500.01 L537.47,499.69 L537.56,499.36 L537.64,499.04 L537.73,498.73 L537.81,498.41 L537.90,498.10 L537.98,497.79 L538.06,497.48 L538.14,497.17 L538.21,496.86 L538.29,496.56 L538.36,496.25 L538.43,495.95 L538.50,495.64 L538.56,495.34 L538.63,495.03 L538.69,494.73 L538.75,494.43 L538.81,494.13 L538.87,493.83 L538.93,493.53 L538.98,493.23 L539.04,492.93 L539.09,492.63 L539.14,492.33 L539.19,492.03 L539.24,491.74 L539.29,491.44 L539.34,491.15 L539.38,490.86 L539.42,490.57 L539.46,490.29 L539.50,490.00 L539.54,489.72 L539.58,489.44 L539.61,489.16 L539.64,488.87 L539.68,488.59 L539.71,488.31 L539.74,488.03 L539.76,487.75 L539.79,487.48 L539.81,487.20 L539.84,486.92 L539.86,486.64 L539.88,486.37 L539.91,486.09 L539.93,485.82 L539.94,485.54 L539.96,485.27 L539.98,485.00 L540.00,484.73 L540.01,484.46 L540.03,484.19 L540.04,483.93 L540.06,483.66 L540.07,483.40 L540.08,483.14 L540.09,482.88 L540.10,482.62 L540.11,482.36 L540.11,482.10 L540.12,481.85 L540.13,481.59 L540.13,481.33 L540.13,481.08 L540.13,480.82 L540.13,480.57 L540.14,480.31 L540.13,480.06 L540.13,479.81 L540.13,479.55 L540.13,479.30 L540.13,479.05 L540.12,478.80 L540.12,478.55 L540.11,478.30 L540.11,478.05 L540.10,477.81 L540.10,477.56 L540.09,477.32 L540.08,477.08 L540.07,476.84 L540.06,476.60 L540.05,476.36 L540.04,476.12 L540.02,475.88 L540.01,475.64 L540.00,475.41 L539.98,475.17 L539.97,474.93 L539.95,474.70 L539.93,474.46 L539.92,474.22 L539.90,473.99 L539.88,473.75 L539.86,473.52 L539.85,473.28 L539.83,473.05 L539.81,472.81 L539.79,472.58 L539.77,472.35 L539.75,472.12 L539.72,471.89 L539.70,471.67 L539.68,471.44 L539.66,471.21 L539.63,470.99 L539.61,470.76 L539.58,470.54 L539.56,470.32 L539.53,470.09 L539.51,469.87 L539.48,469.64 L539.45,469.42 L539.43,469.20 L539.40,468.98 L539.37,468.75 L539.34,468.53 L539.31,468.31 L539.28,468.09 L539.25,467.86 L539.22,467.64 L539.19,467.42 L539.16,467.20 L539.13,466.98 L539.10,466.76 L539.07,466.54 L539.04,466.32 L539.01,466.10 L538.98,465.89 L538.94,465.67 L538.91,465.45 L538.88,465.24 L538.84,465.02 L538.81,464.81 L538.78,464.59 L538.74,464.38 L538.71,464.16 L538.67,463.95 L538.64,463.73 L538.60,463.52 L538.56,463.30 L538.53,463.09 L538.49,462.87 L538.45,462.66 L538.41,462.44 L538.37,462.23 L538.34,462.01 L538.30,461.80 L538.26,461.58 L538.22,461.37 L538.18,461.15 L538.14,460.94 L538.10,460.72 L538.06,460.51 L538.01,460.30 L537.97,460.09 L537.93,459.87 L537.89,459.66 L537.85,459.45 L537.80,459.24 L537.76,459.02 L537.72,458.81 L537.67,458.60 L537.63,458.39 L537.58,458.17 L537.53,457.96 L537.49,457.75 L537.44,457.54 L537.39,457.32 L537.35,457.11 L537.30,456.90 L537.25,456.68 L537.20,456.46 L537.15,456.25 L537.10,456.03 L537.05,455.82 L537.00,455.60 L536.95,455.39 L536.90,455.17 L536.84,454.96 L536.79,454.75 L536.74,454.53 L536.69,454.32 L536.63,454.10 L536.58,453.89 L536.52,453.67 L536.47,453.46 L536.41,453.25 L536.36,453.03 L536.30,452.82 L536.24,452.60 L536.18,452.39 L536.12,452.17 L536.06,451.96 L536.00,451.74 L535.94,451.52 L535.88,451.30 L535.81,451.08 L535.75,450.86 L535.69,450.64 L535.62,450.42 L535.56,450.20 L535.49,449.98 L535.43,449.76 L535.36,449.54 L535.29,449.32 L535.23,449.10 L535.16,448.88 L535.09,448.66 L535.02,448.44 L534.95,448.22 L534.88,448.00 L534.80,447.78 L534.73,447.56 L534.66,447.34 L534.58,447.12 L534.51,446.89 L534.43,446.67 L534.35,446.45 L534.27,446.22 L534.19,446.00 L534.11,445.77 L534.02,445.54 L533.94,445.31 L533.86,445.08 L533.77,444.86 L533.69,444.63 L533.60,444.40 L533.52,444.17 L533.43,443.95 L533.34,443.72 L533.25,443.49 L533.16,443.26 L533.07,443.03 L532.98,442.81 L532.88,442.58 L532.79,442.35 L532.69,442.12 L532.60,441.89 L532.50,441.66 L532.40,441.44 L532.30,441.21 L532.20,440.98 L532.09,440.74 L531.98,440.51 L531.88,440.27 L531.77,440.03 L531.66,439.80 L531.55,439.56 L531.44,439.32 L531.32,439.09 L531.21,438.85 L531.10,438.62 L530.98,438.38 L530.87,438.14 L530.75,437.91 L530.63,437.67 L530.51,437.43 L530.39,437.20 L530.26,436.96 L530.14,436.73 L530.01,436.49 L529.89,436.25 L529.76,436.02 L529.63,435.78 L529.50,435.55 L529.36,435.31 L529.23,435.07 L529.09,434.82 L528.94,434.58 L528.80,434.34 L528.66,434.09 L528.51,433.85 L528.37,433.61 L528.22,433.36 L528.07,433.12 L527.92,432.88 L527.77,432.63 L527.62,432.39 L527.47,432.15 L527.31,431.91 L527.16,431.66 L527.00,431.42 L526.84,431.18 L526.68,430.94 L526.51,430.70 L526.35,430.46 L526.18,430.22 L526.01,429.98 L525.84,429.74 L525.67,429.50 L525.49,429.25 L525.31,429.00 L525.13,428.76 L524.94,428.51 L524.76,428.26 L524.57,428.02 L524.38,427.77 L524.19,427.52 L524.00,427.28 L523.81,427.03 L523.61,426.79 L523.42,426.54 L523.22,426.30 L523.02,426.05 L522.82,425.81 L522.61,425.57 L522.41,425.33 L522.20,425.08 L521.99,424.84 L521.78,424.60 L521.57,424.36 L521.35,424.12 L521.13,423.89 L520.91,423.65 L520.69,423.40 L520.46,423.16 L520.22,422.92 L519.99,422.68 L519.76,422.43 L519.52,422.19 L519.28,421.95 L519.04,421.71 L518.80,421.47 L518.55,421.23 L518.30,420.99 L518.06,420.75 L517.81,420.51 L517.55,420.28 L517.30,420.04 L517.04,419.80 L516.78,419.57 L516.52,419.34 L516.26,419.11 L516.00,418.87 L515.73,418.64 L515.46,418.42 L515.19,418.19 L514.91,417.96 L514.63,417.73 L514.34,417.50 L514.06,417.27 L513.77,417.04 L513.48,416.81 L513.18,416.58 L512.89,416.36 L512.59,416.13 L512.29,415.90 L511.99,415.68 L511.68,415.46 L511.38,415.23 L511.07,415.01 L510.76,414.79 L510.45,414.57 L510.13,414.36 L509.82,414.14 L509.50,413.93 L509.18,413.71 L508.85,413.50 L508.53,413.29 L508.20,413.09 L507.87,412.88 L507.54,412.68 L507.20,412.47 L506.85,412.26 L506.50,412.06 L506.15,411.85 L505.80,411.65 L505.45,411.44 L505.09,411.24 L504.73,411.04 L504.37,410.84 L504.01,410.64 L503.65,410.45 L503.28,410.25 L502.91,410.06 L502.54,409.87 L502.17,409.68 L501.79,409.50 L501.41,409.31 L501.03,409.13 L500.65,408.95 L500.27,408.77 L499.88,408.59 L499.49,408.42 L499.10,408.25 L498.70,408.08 L498.30,407.90 L497.90,407.73 L497.49,407.56 L497.08,407.39 L496.67,407.22 L496.25,407.06 L495.84,406.89 L495.42,406.73 L494.99,406.57 L494.57,406.41 L494.14,406.26 L493.72,406.10 L493.28,405.95 L492.85,405.80 L492.42,405.66 L491.98,405.51 L491.54,405.37 L491.10,405.23 L490.66,405.09 L490.21,404.96 L489.76,404.83 L489.31,404.70 L488.86,404.58 L488.41,404.46 L487.94,404.34 L487.48,404.22 L487.01,404.10 L486.53,403.99 L486.06,403.87 L485.58,403.76 L485.10,403.65 L484.62,403.55 L484.14,403.45 L483.66,403.35 L483.17,403.25 L482.68,403.15 L482.19,403.06 L481.69,402.97 L481.20,402.89 L480.70,402.81 L480.20,402.73 L479.70,402.65 L479.20,402.58 L478.69,402.51 L478.19,402.44 L477.68,402.38 L477.17,402.32 L476.66,402.27 L476.14,402.21 L475.62,402.14 L475.09,402.09 L474.56,402.03 L474.03,401.98 L473.50,401.93 L472.96,401.88 L472.43,401.84 L471.89,401.80 L471.35,401.76 L470.80,401.73 L470.26,401.70 L469.71,401.67 L469.16,401.65 L468.61,401.63 L468.06,401.62 L467.51,401.61 L466.95,401.60 L466.40,401.59 L465.84,401.60 L465.28,401.60 L464.72,401.61 L464.16,401.62 L463.59,401.64 L463.02,401.65 L462.45,401.67 L461.87,401.68 L461.29,401.70 L460.70,401.73 L460.12,401.76 L459.53,401.79 L458.95,401.83 L458.35,401.87 L457.76,401.91 L457.17,401.96 L456.57,402.01 L455.98,402.07 L455.38,402.13 L454.78,402.19 L454.18,402.26 L453.58,402.33 L452.97,402.41 L452.37,402.50 L451.76,402.58 L451.16,402.68 L450.55,402.77 L449.94,402.88 L449.34,402.98 L448.73,403.06 L448.08,403.16 L447.41,403.27 L446.71,403.40 L446.00,403.53 L445.27,403.68 L444.52,403.83 L443.77,404.00 L443.02,404.17 L442.27,404.34 L441.52,404.51 L440.78,404.68 L440.05,404.86 L439.33,405.03 L438.64,405.19 L437.96,405.35 L437.31,405.50 L436.69,405.65 L436.11,405.78 L435.56,405.90 L435.04,406.00 L434.57,406.09 L434.15,406.16 L433.78,406.22Z" fill="#c4e4e1"/>
<path d="M529.77,522.70 L529.49,523.07 L529.21,523.43 L528.93,523.79 L528.64,524.15 L528.35,524.51 L528.06,524.87 L527.76,525.22 L527.46,525.58 L527.16,525.94 L526.86,526.30 L526.55,526.65 L526.24,527.01 L525.92,527.37 L525.60,527.73 L525.28,528.09 L524.96,528.44 L524.63,528.80 L524.29,529.16 L523.96,529.51 L523.62,529.87 L523.28,530.22 L522.93,530.58 L522.58,530.93 L522.22,531.28 L521.87,531.64 L521.50,531.99 L521.14,532.33 L520.77,532.68 L520.39,533.03 L520.02,533.37 L519.63,533.71 L519.25,534.06 L518.86,534.40 L518.47,534.74 L518.08,535.08 L516.24,532.96 L516.61,532.63 L516.99,532.29 L517.36,531.95 L517.72,531.61 L518.08,531.27 L518.44,530.93 L518.79,530.59 L519.14,530.25 L519.49,529.91 L519.83,529.57 L520.17,529.23 L520.50,528.88 L520.83,528.54 L521.16,528.19 L521.48,527.84 L521.80,527.49 L522.12,527.14 L522.43,526.80 L522.74,526.44 L523.05,526.09 L523.35,525.74 L523.65,525.39 L523.95,525.04 L524.24,524.69 L524.53,524.34 L524.82,523.98 L525.11,523.63 L525.39,523.28 L525.67,522.93 L525.94,522.58 L526.21,522.23 L526.47,521.88 L526.73,521.53 L526.99,521.18 L527.25,520.83Z" fill="#c4e4e1"/>
<path d="M516.58,536.57 L516.16,536.90 L515.74,537.24 L515.32,537.57 L514.90,537.91 L514.47,538.24 L514.03,538.57 L513.60,538.90 L513.16,539.22 L512.71,539.55 L512.26,539.87 L511.81,540.19 L511.35,540.51 L510.89,540.83 L510.43,541.14 L509.96,541.45 L509.48,541.76 L509.01,542.07 L508.53,542.38 L508.05,542.68 L507.56,542.98 L507.07,543.29 L506.58,543.59 L506.08,543.89 L505.57,544.18 L504.61,542.57 L505.09,542.27 L505.58,541.97 L506.06,541.67 L506.54,541.36 L507.01,541.06 L507.48,540.75 L507.94,540.44 L508.40,540.13 L508.86,539.82 L509.32,539.51 L509.76,539.20 L510.21,538.89 L510.65,538.57 L511.09,538.25 L511.52,537.93 L511.95,537.61 L512.37,537.28 L512.80,536.96 L513.21,536.63 L513.63,536.30 L514.04,535.97 L514.45,535.64 L514.85,535.31 L515.25,534.97Z" fill="#c4e4e1"/>
<path d="M503.97,544.93 L503.45,545.22 L502.93,545.51 L502.40,545.79 L501.88,546.08 L501.34,546.36 L500.81,546.63 L500.27,546.91 L499.72,547.18 L499.17,547.45 L498.62,547.71 L498.06,547.97 L497.51,548.23 L496.94,548.48 L496.37,548.73 L495.80,548.97 L495.22,549.21 L494.64,549.45 L494.06,549.69 L493.47,549.93 L492.88,550.16 L492.28,550.39 L491.68,550.62 L491.08,550.84 L490.47,551.07 L489.86,551.29 L489.24,551.50 L488.62,551.71 L488.00,551.92 L487.38,552.13 L486.75,552.33 L486.11,552.52 L485.48,552.72 L484.84,552.91 L484.20,553.09 L483.55,553.27 L483.09,551.73 L483.72,551.52 L484.34,551.31 L484.96,551.09 L485.57,550.88 L486.19,550.65 L486.79,550.43 L487.40,550.20 L488.00,549.96 L488.59,549.73 L489.18,549.48 L489.77,549.24 L490.36,549.00 L490.94,548.75 L491.51,548.49 L492.09,548.24 L492.65,547.98 L493.22,547.72 L493.78,547.46 L494.34,547.20 L494.89,546.93 L495.44,546.66 L495.98,546.39 L496.52,546.12 L497.06,545.86 L497.60,545.60 L498.13,545.33 L498.65,545.06 L499.18,544.78 L499.70,544.51 L500.21,544.23 L500.72,543.94 L501.23,543.66 L501.74,543.37 L502.24,543.08 L502.73,542.79Z" fill="#c4e4e1"/>
<path d="M480.81,554.05 L480.06,554.22 L479.28,554.38 L478.50,554.54 L477.70,554.70 L476.89,554.85 L476.08,555.00 L475.27,555.15 L474.47,555.29 L473.67,555.42 L472.89,555.56 L472.12,555.68 L471.38,555.80 L470.66,555.92 L469.97,556.03 L469.31,556.13 L468.69,556.23 L468.11,556.32 L467.58,556.40 L467.09,556.48 L466.66,556.55 L466.28,556.61 L466.17,556.02 L466.54,555.94 L466.97,555.84 L467.45,555.74 L467.99,555.63 L468.56,555.52 L469.18,555.40 L469.83,555.27 L470.52,555.14 L471.23,555.00 L471.97,554.85 L472.73,554.70 L473.51,554.55 L474.29,554.39 L475.09,554.22 L475.89,554.05 L476.69,553.88 L477.49,553.71 L478.28,553.53 L479.05,553.34 L479.81,553.16 L480.55,552.97Z" fill="#c4e4e1"/>
<path d="M432.97,403.61 L433.30,403.45 L433.68,403.28 L434.10,403.10 L434.57,402.89 L435.08,402.67 L435.64,402.44 L436.22,402.19 L436.84,401.94 L437.48,401.68 L438.15,401.41 L438.84,401.13 L439.55,400.85 L440.27,400.57 L441.00,400.29 L441.74,400.01 L442.48,399.73 L443.23,399.46 L443.97,399.19 L444.70,398.93 L445.43,398.68 L446.14,398.44 L446.84,398.21 L447.53,397.99 L448.19,397.79 L448.83,397.63 L449.47,397.48 L450.11,397.33 L450.75,397.19 L451.39,397.06 L452.03,396.93 L452.66,396.80 L453.30,396.68 L453.93,396.56 L454.56,396.45 L455.20,396.34 L455.82,396.24 L456.45,396.14 L457.08,396.05 L457.70,395.96 L458.33,395.87 L458.95,395.79 L459.57,395.71 L460.19,395.64 L460.80,395.57 L461.41,395.50 L462.03,395.44 L462.63,395.38 L463.24,395.33 L463.85,395.29 L464.46,395.25 L465.07,395.22 L465.68,395.19 L466.28,395.17 L466.88,395.15 L467.48,395.14 L468.08,395.13 L468.68,395.12 L469.28,395.12 L469.87,395.12 L470.46,395.13 L471.05,395.14 L471.63,395.15 L472.22,395.17 L472.80,395.19 L473.38,395.22 L473.95,395.25 L474.53,395.28 L475.10,395.31 L475.67,395.35 L476.23,395.39 L476.79,395.43 L477.36,395.48 L477.92,395.54 L478.48,395.60 L479.04,395.67 L479.59,395.74 L480.15,395.82 L480.70,395.90 L481.25,395.98 L481.79,396.07 L482.34,396.16 L482.88,396.25 L483.42,396.35 L483.95,396.45 L484.48,396.55 L485.01,396.66 L485.54,396.77 L486.06,396.88 L486.59,396.99 L487.10,397.11 L487.62,397.23 L488.13,397.35 L488.64,397.47 L489.14,397.60 L489.65,397.73 L490.15,397.86 L490.65,397.99 L491.15,398.13 L491.65,398.27 L492.15,398.42 L492.64,398.56 L493.13,398.71 L493.61,398.87 L494.10,399.02 L494.58,399.18 L495.06,399.34 L495.53,399.51 L496.00,399.67 L496.47,399.84 L496.94,400.01 L497.40,400.18 L497.86,400.36 L498.32,400.54 L498.77,400.71 L499.22,400.89 L499.67,401.08 L500.11,401.26 L500.55,401.44 L500.99,401.63 L501.43,401.82 L501.86,402.01 L502.30,402.21 L502.73,402.41 L503.16,402.61 L503.58,402.81 L504.00,403.02 L504.42,403.23 L504.84,403.44 L505.25,403.65 L505.66,403.87 L506.07,404.08 L506.47,404.30 L506.87,404.52 L507.27,404.74 L507.66,404.96 L508.05,405.18 L508.44,405.41 L508.82,405.63 L509.21,405.86 L509.58,406.08 L509.96,406.31 L510.33,406.54 L510.70,406.77 L511.07,407.00 L511.44,407.23 L511.81,407.47 L512.17,407.71 L512.53,407.95 L512.89,408.19 L513.24,408.44 L513.59,408.68 L513.94,408.93 L514.28,409.17 L514.62,409.42 L514.96,409.67 L515.30,409.92 L515.63,410.17 L515.96,410.42 L516.29,410.68 L516.61,410.93 L516.93,411.18 L517.25,411.44 L517.56,411.69 L517.88,411.95 L518.19,412.20 L518.49,412.46 L518.80,412.71 L519.10,412.97 L519.40,413.23 L519.70,413.49 L520.00,413.75 L520.30,414.01 L520.59,414.28 L520.88,414.54 L521.16,414.81 L521.45,415.08 L521.73,415.34 L522.00,415.61 L522.28,415.88 L522.55,416.14 L522.82,416.41 L523.08,416.68 L523.35,416.95 L523.61,417.22 L523.87,417.49 L524.12,417.76 L524.38,418.02 L524.63,418.29 L524.87,418.56 L525.12,418.83 L525.36,419.09 L525.60,419.36 L525.85,419.63 L526.09,419.91 L526.33,420.18 L526.56,420.45 L526.79,420.72 L527.02,421.00 L527.25,421.27 L527.48,421.54 L527.70,421.82 L527.92,422.09 L528.14,422.37 L528.35,422.64 L528.56,422.91 L528.77,423.18 L528.98,423.46 L529.18,423.73 L529.39,424.00 L529.59,424.27 L529.79,424.54 L529.98,424.81 L530.18,425.08 L530.37,425.35 L530.56,425.62 L530.75,425.89 L530.94,426.16 L531.12,426.44 L531.31,426.71 L531.49,426.98 L531.67,427.25 L531.85,427.53 L532.03,427.80 L532.20,428.07 L532.37,428.34 L532.54,428.61 L532.71,428.88 L532.87,429.15 L533.03,429.42 L533.19,429.69 L533.35,429.96 L533.51,430.23 L533.66,430.50 L533.82,430.76 L533.97,431.03 L534.12,431.29 L534.27,431.56 L534.41,431.82 L534.56,432.08 L534.70,432.35 L534.85,432.61 L534.99,432.88 L535.13,433.15 L535.27,433.41 L535.40,433.68 L535.54,433.94 L535.67,434.21 L535.80,434.47 L535.93,434.73 L536.06,435.00 L536.18,435.26 L536.31,435.52 L536.43,435.78 L536.55,436.04 L536.67,436.30 L536.79,436.56 L536.90,436.81 L537.02,437.07 L537.13,437.32 L537.24,437.58 L537.36,437.83 L537.46,438.09 L537.57,438.34 L537.68,438.59 L537.79,438.85 L537.90,439.10 L538.00,439.36 L538.11,439.61 L538.21,439.87 L538.31,440.12 L538.41,440.37 L538.50,440.62 L538.60,440.87 L538.70,441.12 L538.79,441.37 L538.88,441.62 L538.97,441.87 L539.06,442.12 L539.15,442.36 L539.24,442.61 L539.32,442.86 L539.41,443.10 L539.49,443.34 L539.58,443.59 L539.66,443.83 L539.74,444.07 L539.82,444.31 L539.90,444.55 L539.98,444.79 L540.06,445.04 L540.14,445.28 L540.22,445.52 L540.30,445.76 L540.37,446.00 L540.45,446.24 L540.52,446.48 L540.59,446.72 L540.66,446.96 L540.73,447.20 L540.80,447.43 L540.87,447.67 L540.94,447.91 L541.00,448.14 L541.07,448.37 L541.13,448.61 L541.20,448.84 L541.26,449.07 L541.32,449.31 L541.39,449.54 L541.45,449.77 L541.51,450.00 L541.57,450.23 L541.63,450.46 L541.69,450.69 L541.75,450.93 L541.81,451.16 L541.87,451.39 L541.92,451.62 L541.98,451.85 L542.03,452.08 L542.09,452.31 L542.14,452.54 L542.20,452.76 L542.25,452.99 L542.30,453.22 L542.35,453.45 L542.40,453.67 L542.45,453.90 L542.50,454.12 L542.55,454.35 L542.60,454.57 L542.65,454.80 L542.70,455.02 L542.74,455.25 L542.79,455.47 L542.84,455.70 L542.88,455.92 L542.93,456.15 L542.98,456.37 L543.02,456.60 L543.07,456.82 L543.11,457.05 L543.15,457.27 L543.20,457.50 L543.24,457.72 L543.28,457.94 L543.32,458.17 L543.36,458.39 L543.40,458.62 L543.44,458.84 L543.48,459.06 L543.52,459.29 L543.56,459.51 L543.60,459.73 L543.64,459.96 L543.68,460.18 L543.71,460.40 L543.75,460.63 L543.79,460.85 L543.82,461.08 L543.86,461.30 L543.90,461.53 L543.93,461.75 L543.97,461.98 L544.00,462.20 L544.04,462.43 L544.07,462.65 L544.10,462.88 L544.14,463.10 L544.17,463.33 L544.20,463.55 L544.23,463.78 L544.27,464.00 L544.30,464.23 L544.33,464.46 L544.36,464.69 L544.39,464.91 L544.42,465.14 L544.45,465.37 L544.48,465.60 L544.50,465.83 L544.53,466.06 L544.56,466.29 L544.59,466.52 L544.61,466.75 L544.64,466.98 L544.66,467.22 L544.69,467.45 L544.71,467.68 L544.74,467.91 L544.76,468.14 L544.78,468.38 L544.81,468.61 L544.83,468.84 L544.85,469.08 L544.87,469.32 L544.89,469.55 L544.91,469.79 L544.93,470.03 L544.95,470.27 L544.97,470.50 L544.99,470.74 L545.01,470.99 L545.03,471.23 L545.04,471.47 L545.06,471.71 L545.08,471.96 L545.09,472.20 L545.11,472.45 L545.12,472.69 L545.13,472.93 L545.15,473.18 L545.16,473.42 L545.17,473.67 L545.18,473.92 L545.19,474.17 L545.21,474.41 L544.74,474.44 L544.73,474.19 L544.72,473.94 L544.71,473.70 L544.70,473.45 L544.68,473.21 L544.67,472.96 L544.65,472.72 L544.64,472.48 L544.63,472.24 L544.61,471.99 L544.59,471.75 L544.58,471.51 L544.56,471.27 L544.54,471.03 L544.52,470.79 L544.50,470.55 L544.48,470.31 L544.46,470.07 L544.44,469.84 L544.42,469.60 L544.40,469.36 L544.38,469.13 L544.36,468.90 L544.33,468.66 L544.31,468.43 L544.29,468.20 L544.26,467.97 L544.24,467.73 L544.21,467.50 L544.19,467.27 L544.16,467.04 L544.14,466.81 L544.11,466.58 L544.08,466.35 L544.05,466.12 L544.03,465.89 L544.00,465.66 L543.97,465.44 L543.94,465.21 L543.91,464.98 L543.88,464.75 L543.85,464.53 L543.82,464.30 L543.79,464.07 L543.75,463.85 L543.72,463.62 L543.69,463.40 L543.66,463.18 L543.62,462.95 L543.59,462.73 L543.55,462.50 L543.52,462.28 L543.49,462.05 L543.45,461.83 L543.41,461.61 L543.38,461.38 L543.34,461.16 L543.31,460.94 L543.27,460.71 L543.23,460.49 L543.19,460.27 L543.16,460.04 L543.12,459.82 L543.08,459.60 L543.04,459.37 L543.00,459.15 L542.96,458.93 L542.92,458.71 L542.88,458.48 L542.84,458.26 L542.80,458.04 L542.75,457.82 L542.71,457.59 L542.67,457.37 L542.62,457.15 L542.58,456.92 L542.54,456.70 L542.49,456.48 L542.44,456.25 L542.40,456.03 L542.35,455.80 L542.30,455.58 L542.26,455.36 L542.21,455.13 L542.16,454.91 L542.11,454.68 L542.06,454.46 L542.01,454.23 L541.96,454.01 L541.91,453.78 L541.86,453.56 L541.81,453.33 L541.76,453.11 L541.71,452.88 L541.65,452.65 L541.60,452.43 L541.54,452.20 L541.49,451.97 L541.43,451.74 L541.38,451.51 L541.32,451.28 L541.26,451.05 L541.20,450.82 L541.14,450.59 L541.08,450.36 L541.02,450.13 L540.96,449.90 L540.90,449.67 L540.83,449.44 L540.77,449.21 L540.71,448.98 L540.64,448.75 L540.58,448.52 L540.51,448.28 L540.45,448.05 L540.38,447.82 L540.31,447.58 L540.24,447.35 L540.17,447.11 L540.10,446.87 L540.03,446.64 L539.96,446.40 L539.88,446.16 L539.81,445.92 L539.73,445.68 L539.65,445.44 L539.58,445.20 L539.50,444.96 L539.42,444.72 L539.34,444.48 L539.25,444.24 L539.17,444.00 L539.09,443.76 L539.01,443.52 L538.92,443.27 L538.84,443.03 L538.75,442.79 L538.66,442.54 L538.57,442.30 L538.49,442.05 L538.39,441.81 L538.30,441.56 L538.21,441.31 L538.11,441.06 L538.02,440.82 L537.92,440.57 L537.82,440.32 L537.72,440.06 L537.62,439.81 L537.52,439.56 L537.41,439.31 L537.31,439.05 L537.20,438.80 L537.09,438.55 L536.98,438.30 L536.87,438.05 L536.76,437.80 L536.65,437.54 L536.54,437.29 L536.42,437.03 L536.31,436.78 L536.19,436.52 L536.07,436.27 L535.95,436.01 L535.83,435.75 L535.71,435.49 L535.58,435.23 L535.46,434.97 L535.33,434.71 L535.20,434.45 L535.06,434.19 L534.93,433.93 L534.80,433.66 L534.66,433.40 L534.52,433.14 L534.38,432.87 L534.23,432.61 L534.09,432.35 L533.94,432.09 L533.80,431.82 L533.65,431.56 L533.50,431.30 L533.35,431.03 L533.20,430.77 L533.04,430.51 L532.89,430.24 L532.73,429.97 L532.57,429.71 L532.41,429.44 L532.25,429.17 L532.08,428.90 L531.91,428.63 L531.74,428.37 L531.57,428.10 L531.40,427.83 L531.22,427.56 L531.04,427.29 L530.86,427.02 L530.67,426.75 L530.49,426.48 L530.30,426.21 L530.11,425.94 L529.92,425.67 L529.73,425.41 L529.54,425.14 L529.34,424.87 L529.15,424.60 L528.95,424.33 L528.74,424.06 L528.54,423.79 L528.33,423.52 L528.13,423.25 L527.92,422.98 L527.70,422.71 L527.49,422.44 L527.27,422.17 L527.05,421.90 L526.83,421.63 L526.60,421.36 L526.37,421.09 L526.14,420.82 L525.91,420.55 L525.67,420.28 L525.43,420.01 L525.19,419.74 L524.95,419.47 L524.71,419.21 L524.47,418.94 L524.22,418.68 L523.97,418.41 L523.72,418.15 L523.46,417.88 L523.21,417.61 L522.95,417.35 L522.69,417.08 L522.42,416.82 L522.15,416.55 L521.88,416.28 L521.61,416.02 L521.34,415.76 L521.06,415.49 L520.78,415.23 L520.49,414.97 L520.21,414.70 L519.92,414.44 L519.63,414.18 L519.33,413.92 L519.03,413.66 L518.73,413.41 L518.43,413.15 L518.13,412.90 L517.82,412.65 L517.52,412.39 L517.21,412.14 L516.89,411.89 L516.58,411.64 L516.26,411.39 L515.94,411.14 L515.61,410.89 L515.28,410.64 L514.95,410.39 L514.62,410.14 L514.28,409.90 L513.95,409.65 L513.60,409.41 L513.26,409.16 L512.91,408.92 L512.56,408.68 L512.21,408.44 L511.85,408.20 L511.49,407.97 L511.12,407.73 L510.76,407.50 L510.39,407.27 L510.03,407.04 L509.66,406.82 L509.28,406.59 L508.91,406.37 L508.53,406.14 L508.14,405.92 L507.76,405.70 L507.37,405.48 L506.98,405.26 L506.59,405.04 L506.19,404.82 L505.79,404.61 L505.39,404.39 L504.98,404.18 L504.57,403.97 L504.16,403.76 L503.74,403.56 L503.32,403.35 L502.90,403.15 L502.48,402.95 L502.05,402.75 L501.62,402.56 L501.19,402.37 L500.75,402.18 L500.32,402.00 L499.88,401.81 L499.44,401.63 L498.99,401.45 L498.55,401.27 L498.10,401.09 L497.64,400.92 L497.19,400.75 L496.73,400.57 L496.27,400.41 L495.80,400.24 L495.33,400.07 L494.86,399.91 L494.39,399.75 L493.91,399.59 L493.43,399.44 L492.95,399.29 L492.46,399.14 L491.98,398.99 L491.48,398.85 L490.99,398.71 L490.49,398.57 L490.00,398.44 L489.50,398.31 L489.00,398.18 L488.50,398.06 L487.99,397.93 L487.48,397.81 L486.97,397.69 L486.45,397.58 L485.94,397.46 L485.42,397.35 L484.89,397.25 L484.37,397.14 L483.84,397.04 L483.31,396.94 L482.77,396.84 L482.24,396.75 L481.70,396.66 L481.16,396.58 L480.61,396.49 L480.06,396.41 L479.52,396.34 L478.96,396.27 L478.41,396.20 L477.85,396.14 L477.30,396.08 L476.74,396.03 L476.18,395.98 L475.62,395.94 L475.05,395.90 L474.48,395.87 L473.91,395.83 L473.34,395.80 L472.77,395.78 L472.19,395.75 L471.61,395.73 L471.03,395.72 L470.44,395.71 L469.85,395.70 L469.27,395.69 L468.67,395.69 L468.08,395.70 L467.49,395.70 L466.89,395.72 L466.29,395.73 L465.69,395.75 L465.09,395.78 L464.48,395.81 L463.88,395.84 L463.27,395.88 L462.67,395.93 L462.06,395.99 L461.45,396.05 L460.84,396.11 L460.23,396.17 L459.62,396.24 L459.00,396.32 L458.38,396.39 L457.76,396.47 L457.14,396.56 L456.52,396.65 L455.89,396.74 L455.26,396.84 L454.64,396.95 L454.01,397.06 L453.38,397.17 L452.74,397.29 L452.11,397.41 L451.48,397.53 L450.84,397.67 L450.21,397.80 L449.57,397.95 L448.93,398.09 L448.29,398.25 L447.63,398.44 L446.95,398.64 L446.26,398.86 L445.54,399.09 L444.82,399.34 L444.08,399.59 L443.34,399.84 L442.60,400.11 L441.85,400.38 L441.11,400.65 L440.38,400.92 L439.66,401.19 L438.95,401.46 L438.26,401.72 L437.59,401.98 L436.94,402.24 L436.32,402.48 L435.73,402.72 L435.17,402.94 L434.66,403.16 L434.18,403.35 L433.75,403.53 L433.37,403.69 L433.04,403.84Z" fill="#c4e4e1"/>
<path d="M454.48,395.89 L455.12,395.77 L455.75,395.67 L456.38,395.56 L457.01,395.47 L457.64,395.37 L458.27,395.28 L458.89,395.19 L459.51,395.11 L460.13,395.04 L460.75,394.96 L461.37,394.89 L461.98,394.83 L462.60,394.76 L463.21,394.70 L463.82,394.66 L464.44,394.62 L465.05,394.59 L465.66,394.56 L466.27,394.53 L466.88,394.51 L467.48,394.50 L468.09,394.48 L468.69,394.48 L469.29,394.47 L469.88,394.47 L470.48,394.48 L471.07,394.49 L471.66,394.50 L472.25,394.52 L472.84,394.54 L473.42,394.56 L474.00,394.58 L474.58,394.61 L475.15,394.65 L475.72,394.68 L476.29,394.72 L476.86,394.76 L477.43,394.81 L477.99,394.87 L478.56,394.93 L479.12,395.00 L479.68,395.07 L480.24,395.15 L480.80,395.23 L481.35,395.32 L481.90,395.40 L482.45,395.49 L483.00,395.59 L483.54,395.69 L484.08,395.79 L484.61,395.89 L485.15,396.00 L485.68,396.11 L486.21,396.22 L486.73,396.33 L487.25,396.45 L487.77,396.57 L488.29,396.69 L488.80,396.82 L489.31,396.94 L489.82,397.07 L490.32,397.21 L490.83,397.34 L491.33,397.48 L491.84,397.62 L492.34,397.77 L492.83,397.92 L493.33,398.07 L493.82,398.22 L494.31,398.38 L494.79,398.54 L495.27,398.70 L495.75,398.87 L496.23,399.04 L496.70,399.21 L497.17,399.38 L497.64,399.55 L498.10,399.73 L498.56,399.91 L499.02,400.09 L499.47,400.27 L499.92,400.45 L500.37,400.64 L500.81,400.82 L501.25,401.01 L501.69,401.20 L502.13,401.39 L502.57,401.59 L503.01,401.80 L503.44,402.00 L503.87,402.21 L504.30,402.42 L504.72,402.63 L505.14,402.84 L505.55,403.06 L505.97,403.27 L506.38,403.49 L506.78,403.71 L507.19,403.93 L507.59,404.15 L507.99,404.38 L508.38,404.60 L508.77,404.83 L509.16,405.06 L509.54,405.28 L509.92,405.51 L510.30,405.74 L510.68,405.97 L511.05,406.21 L511.42,406.44 L511.79,406.68 L512.16,406.92 L512.53,407.16 L512.89,407.40 L513.25,407.65 L513.61,407.89 L513.96,408.14 L514.31,408.39 L514.66,408.64 L515.01,408.89 L515.35,409.14 L515.69,409.40 L516.02,409.65 L516.35,409.91 L516.68,410.16 L517.01,410.42 L517.33,410.67 L517.65,410.93 L517.97,411.19 L518.28,411.44 L518.59,411.70 L518.90,411.96 L519.21,412.22 L519.51,412.47 L519.82,412.74 L520.12,413.00 L520.42,413.27 L520.72,413.53 L521.02,413.80 L521.31,414.07 L521.60,414.34 L521.88,414.61 L522.16,414.88 L522.44,415.15 L522.72,415.42 L522.99,415.69 L523.26,415.96 L523.53,416.23 L523.80,416.50 L524.06,416.77 L524.32,417.05 L524.58,417.32 L524.83,417.59 L525.08,417.86 L525.33,418.13 L525.58,418.40 L525.82,418.67 L526.07,418.94 L526.31,419.21 L526.56,419.49 L526.80,419.76 L527.04,420.04 L527.27,420.32 L527.50,420.59 L527.73,420.87 L527.96,421.15 L528.18,421.42 L528.40,421.70 L528.62,421.98 L528.84,422.25 L529.05,422.53 L529.26,422.80 L529.47,423.08 L529.68,423.35 L529.88,423.63 L530.08,423.90 L530.28,424.18 L530.48,424.45 L530.67,424.72 L530.87,424.99 L531.06,425.26 L531.25,425.53 L531.44,425.81 L531.63,426.09 L531.82,426.36 L532.00,426.64 L532.18,426.91 L532.36,427.19 L532.54,427.47 L532.71,427.74 L532.89,428.01 L533.06,428.29 L533.22,428.56 L533.39,428.83 L533.55,429.11 L533.72,429.38 L533.87,429.65 L534.03,429.92 L534.19,430.19 L534.34,430.46 L534.49,430.73 L534.64,430.99 L534.79,431.26 L534.94,431.53 L535.09,431.79 L535.23,432.05 L535.37,432.32 L535.52,432.59 L535.66,432.86 L535.80,433.13 L535.94,433.40 L536.07,433.67 L536.21,433.93 L536.34,434.20 L536.47,434.47 L536.60,434.73 L536.72,435.00 L536.85,435.26 L536.97,435.52 L537.09,435.78 L537.21,436.04 L537.33,436.30 L537.45,436.56 L537.56,436.82 L537.67,437.08 L537.79,437.34 L537.90,437.59 L538.01,437.85 L538.12,438.10 L538.22,438.36 L538.33,438.61 L538.44,438.87 L538.55,439.13 L538.65,439.39 L538.75,439.64 L538.85,439.90 L538.95,440.15 L539.05,440.41 L539.15,440.66 L539.24,440.91 L539.34,441.16 L539.43,441.42 L539.52,441.67 L539.61,441.91 L539.70,442.16 L539.79,442.41 L539.87,442.66 L539.96,442.90 L540.04,443.15 L540.13,443.39 L540.21,443.64 L540.29,443.88 L540.37,444.12 L540.45,444.36 L540.53,444.61 L540.61,444.85 L540.69,445.10 L540.77,445.34 L540.85,445.59 L540.92,445.83 L541.00,446.07 L541.07,446.31 L541.14,446.55 L541.21,446.79 L541.28,447.03 L541.35,447.27 L541.42,447.51 L541.49,447.74 L541.55,447.98 L541.62,448.22 L541.68,448.45 L541.75,448.69 L541.81,448.92 L541.88,449.15 L541.94,449.39 L542.00,449.62 L542.06,449.85 L542.12,450.08 L542.18,450.31 L541.81,450.41 L541.75,450.18 L541.69,449.95 L541.63,449.72 L541.57,449.49 L541.51,449.25 L541.44,449.02 L541.38,448.79 L541.32,448.56 L541.25,448.32 L541.19,448.09 L541.12,447.85 L541.05,447.62 L540.98,447.38 L540.92,447.14 L540.85,446.90 L540.77,446.67 L540.70,446.43 L540.63,446.19 L540.56,445.95 L540.48,445.70 L540.40,445.46 L540.33,445.22 L540.25,444.98 L540.17,444.73 L540.09,444.49 L540.01,444.25 L539.93,444.01 L539.84,443.76 L539.76,443.52 L539.68,443.28 L539.59,443.03 L539.51,442.79 L539.42,442.54 L539.33,442.30 L539.25,442.05 L539.16,441.80 L539.06,441.55 L538.97,441.30 L538.88,441.05 L538.78,440.80 L538.69,440.55 L538.59,440.30 L538.49,440.05 L538.39,439.79 L538.29,439.54 L538.18,439.28 L538.08,439.03 L537.97,438.77 L537.86,438.51 L537.75,438.26 L537.65,438.01 L537.54,437.75 L537.43,437.50 L537.31,437.24 L537.20,436.99 L537.08,436.73 L536.97,436.47 L536.85,436.21 L536.73,435.95 L536.61,435.69 L536.49,435.43 L536.36,435.17 L536.24,434.91 L536.11,434.64 L535.98,434.38 L535.85,434.12 L535.72,433.85 L535.58,433.59 L535.45,433.32 L535.31,433.05 L535.17,432.78 L535.02,432.52 L534.88,432.25 L534.73,431.99 L534.59,431.72 L534.44,431.46 L534.29,431.19 L534.14,430.93 L533.99,430.66 L533.84,430.39 L533.68,430.13 L533.53,429.86 L533.37,429.59 L533.21,429.32 L533.04,429.05 L532.88,428.78 L532.71,428.51 L532.54,428.23 L532.37,427.96 L532.20,427.69 L532.02,427.41 L531.84,427.14 L531.66,426.87 L531.48,426.59 L531.29,426.32 L531.10,426.04 L530.91,425.77 L530.72,425.50 L530.53,425.23 L530.34,424.96 L530.15,424.69 L529.95,424.42 L529.75,424.15 L529.55,423.88 L529.35,423.60 L529.14,423.33 L528.93,423.06 L528.72,422.78 L528.51,422.51 L528.30,422.24 L528.08,421.96 L527.86,421.69 L527.64,421.41 L527.41,421.14 L527.18,420.86 L526.95,420.59 L526.72,420.31 L526.48,420.04 L526.24,419.77 L526.00,419.49 L525.76,419.22 L525.52,418.95 L525.27,418.68 L525.03,418.42 L524.78,418.15 L524.53,417.88 L524.27,417.61 L524.02,417.34 L523.76,417.07 L523.50,416.80 L523.23,416.53 L522.97,416.26 L522.70,415.99 L522.43,415.72 L522.15,415.46 L521.87,415.19 L521.59,414.92 L521.31,414.65 L521.02,414.39 L520.73,414.12 L520.44,413.85 L520.14,413.59 L519.84,413.33 L519.54,413.06 L519.24,412.80 L518.93,412.55 L518.63,412.29 L518.32,412.03 L518.01,411.78 L517.70,411.52 L517.38,411.27 L517.07,411.01 L516.74,410.76 L516.42,410.50 L516.09,410.25 L515.76,410.00 L515.43,409.75 L515.09,409.50 L514.75,409.25 L514.41,409.00 L514.06,408.75 L513.72,408.50 L513.36,408.26 L513.01,408.01 L512.65,407.77 L512.29,407.53 L511.92,407.29 L511.56,407.05 L511.19,406.81 L510.82,406.58 L510.45,406.35 L510.07,406.12 L509.70,405.89 L509.32,405.67 L508.94,405.44 L508.55,405.21 L508.16,404.99 L507.77,404.76 L507.37,404.54 L506.98,404.32 L506.57,404.10 L506.17,403.88 L505.76,403.67 L505.35,403.45 L504.94,403.24 L504.52,403.03 L504.10,402.82 L503.68,402.61 L503.25,402.41 L502.82,402.20 L502.39,402.00 L501.95,401.81 L501.51,401.61 L501.08,401.42 L500.64,401.24 L500.20,401.05 L499.75,400.87 L499.30,400.69 L498.85,400.50 L498.40,400.33 L497.94,400.15 L497.48,399.97 L497.01,399.80 L496.55,399.63 L496.08,399.46 L495.60,399.29 L495.13,399.13 L494.65,398.97 L494.17,398.81 L493.68,398.65 L493.19,398.50 L492.70,398.35 L492.21,398.20 L491.71,398.06 L491.21,397.91 L490.71,397.78 L490.21,397.64 L489.70,397.51 L489.20,397.38 L488.69,397.25 L488.18,397.13 L487.67,397.01 L487.15,396.89 L486.63,396.77 L486.11,396.66 L485.59,396.55 L485.06,396.44 L484.53,396.33 L483.99,396.23 L483.46,396.13 L482.92,396.03 L482.38,395.94 L481.83,395.85 L481.28,395.76 L480.73,395.68 L480.18,395.60 L479.62,395.52 L479.07,395.45 L478.51,395.38 L477.94,395.32 L477.38,395.26 L476.82,395.21 L476.25,395.17 L475.69,395.13 L475.12,395.09 L474.54,395.06 L473.97,395.03 L473.39,395.00 L472.81,394.97 L472.23,394.95 L471.64,394.94 L471.06,394.92 L470.47,394.91 L469.87,394.91 L469.28,394.90 L468.68,394.91 L468.08,394.91 L467.48,394.92 L466.88,394.94 L466.28,394.96 L465.67,394.98 L465.06,395.01 L464.45,395.04 L463.84,395.08 L463.23,395.12 L462.62,395.18 L462.01,395.24 L461.40,395.30 L460.79,395.37 L460.17,395.44 L459.55,395.51 L458.93,395.59 L458.31,395.67 L457.68,395.76 L457.06,395.85 L456.43,395.95 L455.80,396.05 L455.17,396.15 L454.54,396.26Z" fill="#c4e4e1"/>
<path d="M339.81,258.71 L340.61,255.09 L341.54,251.51 L342.58,247.97 L343.74,244.49 L345.00,241.07 L346.36,237.70 L347.81,234.39 L349.34,231.14 L350.95,227.96 L352.63,224.84 L354.37,221.78 L356.17,218.78 L358.01,215.85 L359.91,212.98 L361.85,210.16 L363.82,207.41 L365.83,204.71 L367.88,202.06 L369.95,199.47 L372.04,196.93 L374.16,194.43 L376.31,191.99 L378.48,189.59 L380.68,187.23 L382.90,184.92 L385.14,182.66 L387.41,180.44 L389.71,178.26 L392.03,176.13 L394.39,174.04 L396.77,172.00 L399.19,170.01 L401.64,168.06 L404.12,166.17 L406.64,164.34 L409.20,162.56 L411.79,160.83 L414.42,159.17 L417.08,157.57 L419.78,156.03 L422.51,154.56 L425.28,153.16 L428.08,151.83 L430.91,150.56 L433.77,149.37 L436.66,148.26 L439.58,147.21 L442.52,146.24 L445.48,145.34 L448.46,144.51 L451.46,143.75 L454.48,143.07 L457.51,142.44 L460.56,141.89 L463.62,141.40 L466.69,140.97 L469.77,140.60 L472.86,140.29 L475.95,140.03 L479.06,139.83 L482.18,139.68 L485.31,139.58 L488.44,139.52 L491.59,139.51 L494.75,139.55 L497.92,139.64 L501.11,139.76 L504.31,139.94 L507.53,140.16 L510.76,140.43 L514.01,140.74 L517.27,141.11 L520.56,141.54 L523.86,142.02 L527.18,142.56 L530.51,143.17 L533.85,143.84 L537.21,144.59 L540.58,145.41 L543.96,146.32 L547.33,147.31 L550.71,148.39 L554.08,149.56 L557.44,150.83 L560.79,152.21 L564.11,153.69 L567.41,155.28 L570.67,156.98 L573.89,158.79 L577.06,160.72 L580.18,162.76 L583.23,164.92 L586.22,167.19 L589.13,169.59 L591.95,172.09 L594.69,174.71 L597.32,177.44 L599.86,180.27 L602.28,183.20 L604.59,186.24 L606.78,189.37 L608.85,192.59 L610.79,195.89 L612.59,199.26 L614.26,202.71 L615.79,206.23 L617.19,209.80 L618.44,213.43 L619.56,217.10 L620.53,220.81 L621.37,224.55 L622.06,228.32 L622.62,232.11 L623.04,235.91 L623.33,239.72 L623.48,243.54 L623.51,247.35 L623.42,251.15 L623.20,254.94 L622.86,258.71 L622.41,262.47 L621.85,266.20 L621.18,269.90 L620.41,273.57 L619.54,277.21 L618.57,280.81 L617.51,284.37 L616.36,287.90 L615.12,291.38 L613.80,294.82 L612.40,298.21 L610.92,301.56 L609.37,304.86 L607.74,308.11 L606.04,311.31 L604.27,314.46 L602.43,317.56 L600.53,320.61 L598.57,323.60 L596.54,326.54 L594.45,329.42 L592.30,332.25 L590.09,335.02 L587.82,337.73 L585.50,340.39 L583.12,342.98 L580.68,345.50 L578.19,347.97 L575.65,350.37 L573.05,352.70 L570.40,354.97 L567.71,357.16 L564.96,359.29 L562.17,361.34 L559.33,363.32 L556.45,365.22 L553.52,367.05 L550.55,368.80 L547.55,370.47 L544.50,372.06 L541.42,373.57 L538.31,375.00 L535.17,376.34 L532.00,377.61 L528.80,378.78 L525.57,379.88 L522.33,380.89 L519.06,381.81 L515.77,382.65 L512.47,383.41 L509.16,384.08 L505.84,384.68 L502.50,385.19 L499.16,385.62 L495.82,385.97 L492.47,386.24 L489.11,386.44 L485.76,386.56 L482.41,386.61 L479.06,386.59 L475.72,386.50 L472.37,386.34 L469.04,386.11 L465.70,385.82 L462.38,385.47 L459.05,385.05 L455.74,384.57 L452.42,384.04 L449.12,383.44 L445.82,382.79 L442.52,382.08 L439.23,381.31 L435.94,380.49 L432.66,379.60 L429.38,378.66 L426.10,377.66 L422.83,376.60 L419.57,375.48 L416.31,374.29 L413.06,373.04 L409.82,371.71 L406.58,370.32 L403.37,368.85 L400.16,367.31 L396.98,365.69 L393.82,363.98 L390.68,362.19 L387.58,360.32 L384.51,358.35 L381.48,356.29 L378.50,354.14 L375.58,351.89 L372.71,349.55 L369.91,347.10 L367.18,344.56 L364.54,341.92 L361.98,339.18 L359.52,336.35 L357.15,333.42 L354.90,330.40 L352.77,327.29 L350.75,324.09 L348.87,320.81 L347.12,317.46 L345.51,314.03 L344.05,310.54 L342.73,306.99 L341.57,303.39 L340.56,299.74 L339.71,296.05 L339.03,292.33 L338.50,288.59 L338.13,284.84 L337.91,281.07 L337.86,277.30 L337.95,273.55 L338.20,269.80 L338.60,266.08 L339.13,262.38Z" fill="#c5e5e1"/>
<path d="M333.6,268.6 C370,250 420,228 482,227.2 C540,227 590,245 633,268.8 L633,277.3 C624,276.5 618,283 613.3,297 C611,303 610,308 609,313.5 L585.9,313.5 C585.9,300 587,283 583,274 C579,264 575,260.2 568.8,260.2 C560,260.2 551,268 548,282 C546,295 549,306 552.5,313.5 L495.6,313.5 C505,303 516,292 516,274.8 C516,257 503,243.1 483.6,243.1 C464.2,243.1 448.5,261.9 448.5,285 C448.2,295 447.7,305 447.7,313.5 L421.7,313.5 C421.7,300 422,285 418,275 C413,263 405,260.5 396.5,260.5 C385,260.5 381.5,272 381.5,280 C382,292 393,303 402.5,313.5 L345.5,313.5 C348,303 350,292 349,285 C347,279 343,276.5 338,276.5 C336,276.5 334.5,277.5 333.6,278.2 Z" fill="#f0a450"/>
<circle cx="432" cy="205.4" r="14.2" fill="#f0a450"/>
<circle cx="534.4" cy="205.4" r="14.2" fill="#f0a450"/>
<circle cx="364.1" cy="229.1" r="10.15" fill="#f0a450"/>
<circle cx="602.8" cy="228.9" r="10.15" fill="#f0a450"/>
<path d="M484.4,270.5 C482,264 478,261.5 474.5,262 C469,262.8 467,268 468.3,273 C470,280 478,287 483.3,295.8 C488,287 497,281 500.3,275 C502.5,270 500,265.3 495,265.3 C490,265.3 486,267.5 484.4,270.5 Z" fill="#8b3059"/>
<path d="M119.32,97.37 L119.57,95.14 L119.87,92.93 L120.21,90.73 L120.59,88.54 L121.01,86.36 L121.47,84.20 L121.97,82.05 L122.51,79.91 L123.09,77.79 L123.71,75.68 L124.36,73.59 L125.06,71.51 L125.79,69.44 L126.57,67.39 L127.39,65.36 L128.25,63.35 L129.15,61.35 L130.09,59.37 L131.07,57.41 L132.10,55.48 L133.17,53.56 L134.28,51.66 L135.44,49.79 L136.63,47.94 L137.87,46.12 L139.15,44.32 L140.48,42.55 L141.84,40.80 L143.24,39.09 L144.69,37.40 L146.17,35.73 L147.69,34.10 L149.25,32.49 L150.85,30.92 L152.49,29.37 L154.16,27.86 L155.87,26.37 L157.61,24.92 L159.40,23.50 L161.22,22.12 L163.07,20.77 L164.96,19.45 L166.89,18.17 L168.85,16.93 L170.85,15.74 L172.88,14.58 L174.96,13.48 L177.06,12.42 L179.20,11.41 L181.37,10.45 L183.58,9.55 L185.82,8.72 L188.09,7.94 L190.39,7.23 L192.71,6.59 L195.06,6.02 L197.44,5.53 L199.83,5.12 L202.24,4.78 L204.66,4.53 L207.10,4.37 L209.54,4.29 L211.99,4.30 L214.44,4.41 L216.88,4.60 L219.31,4.88 L221.74,5.26 L224.15,5.72 L226.54,6.27 L228.90,6.91 L231.24,7.64 L233.56,8.45 L235.84,9.34 L238.08,10.31 L240.29,11.35 L242.47,12.47 L244.60,13.65 L246.68,14.90 L248.73,16.21 L250.73,17.58 L252.69,19.00 L254.60,20.47 L256.47,21.99 L258.30,23.55 L260.08,25.15 L261.82,26.79 L263.52,28.46 L265.18,30.16 L266.79,31.90 L268.37,33.67 L269.91,35.46 L271.41,37.28 L272.87,39.12 L274.29,40.99 L275.67,42.89 L277.02,44.80 L278.32,46.75 L279.59,48.71 L280.82,50.71 L282.00,52.72 L283.14,54.76 L284.23,56.83 L285.28,58.92 L286.28,61.04 L287.22,63.17 L288.11,65.34 L288.95,67.52 L289.73,69.73 L290.44,71.96 L291.10,74.21 L291.68,76.48 L292.20,78.76 L292.66,81.06 L293.04,83.37 L293.35,85.70 L293.59,88.03 L293.76,90.36 L293.86,92.70 L293.88,95.04 L293.83,97.37 L293.72,99.70 L293.53,102.03 L293.28,104.35 L292.96,106.65 L292.58,108.95 L292.13,111.23 L291.63,113.49 L291.07,115.74 L290.45,117.97 L289.79,120.18 L289.07,122.37 L288.30,124.55 L287.49,126.70 L286.64,128.84 L285.74,130.95 L284.80,133.05 L283.82,135.13 L282.80,137.19 L281.75,139.23 L280.65,141.24 L279.52,143.24 L278.35,145.22 L277.14,147.18 L275.89,149.12 L274.59,151.03 L273.26,152.92 L271.88,154.78 L270.46,156.61 L268.99,158.42 L267.48,160.19 L265.92,161.92 L264.31,163.62 L262.65,165.27 L260.95,166.87 L259.19,168.43 L257.38,169.94 L255.53,171.38 L253.63,172.77 L251.68,174.10 L249.69,175.36 L247.65,176.55 L245.58,177.67 L243.46,178.72 L241.31,179.69 L239.13,180.58 L236.92,181.40 L234.68,182.13 L232.42,182.79 L230.14,183.37 L227.84,183.87 L225.53,184.30 L223.21,184.65 L220.89,184.92 L218.56,185.13 L216.24,185.27 L213.91,185.34 L211.59,185.35 L209.27,185.30 L206.96,185.19 L204.66,185.03 L202.37,184.82 L200.09,184.56 L197.83,184.26 L195.57,183.92 L193.32,183.54 L191.08,183.12 L188.85,182.67 L186.64,182.18 L184.43,181.66 L182.23,181.11 L180.03,180.52 L177.85,179.90 L175.67,179.24 L173.50,178.55 L171.34,177.83 L169.18,177.06 L167.04,176.25 L164.91,175.40 L162.78,174.51 L160.68,173.56 L158.58,172.57 L156.51,171.52 L154.46,170.42 L152.43,169.26 L150.44,168.04 L148.47,166.76 L146.54,165.42 L144.65,164.02 L142.81,162.55 L141.01,161.02 L139.27,159.43 L137.58,157.77 L135.95,156.06 L134.39,154.28 L132.89,152.44 L131.47,150.55 L130.11,148.61 L128.83,146.62 L127.63,144.58 L126.50,142.50 L125.46,140.38 L124.49,138.22 L123.60,136.04 L122.79,133.82 L122.07,131.59 L121.42,129.33 L120.84,127.06 L120.34,124.77 L119.91,122.48 L119.56,120.18 L119.27,117.87 L119.05,115.57 L118.89,113.27 L118.79,110.97 L118.74,108.68 L118.76,106.40 L118.82,104.13 L118.94,101.86 L119.10,99.61Z" fill="#ffc867"/>
<path d="M720.55,96.92 L720.72,94.73 L720.93,92.55 L721.19,90.38 L721.50,88.22 L721.84,86.07 L722.23,83.93 L722.66,81.80 L723.13,79.68 L723.64,77.57 L724.20,75.47 L724.80,73.39 L725.44,71.32 L726.13,69.26 L726.86,67.22 L727.64,65.19 L728.46,63.18 L729.33,61.19 L730.25,59.22 L731.21,57.27 L732.21,55.33 L733.26,53.42 L734.35,51.53 L735.49,49.67 L736.67,47.83 L737.90,46.02 L739.17,44.23 L740.48,42.46 L741.83,40.73 L743.23,39.02 L744.66,37.34 L746.13,35.69 L747.64,34.06 L749.19,32.47 L750.78,30.90 L752.41,29.37 L754.07,27.86 L755.76,26.39 L757.50,24.94 L759.27,23.53 L761.07,22.15 L762.91,20.81 L764.79,19.50 L766.70,18.22 L768.65,16.99 L770.64,15.80 L772.66,14.64 L774.71,13.53 L776.80,12.47 L778.93,11.46 L781.08,10.50 L783.27,9.59 L785.50,8.74 L787.75,7.96 L790.04,7.23 L792.35,6.58 L794.68,5.99 L797.04,5.48 L799.42,5.04 L801.82,4.68 L804.24,4.40 L806.67,4.21 L809.10,4.10 L811.55,4.07 L813.99,4.14 L816.44,4.29 L818.87,4.53 L821.30,4.86 L823.72,5.27 L826.12,5.78 L828.50,6.37 L830.86,7.05 L833.20,7.80 L835.50,8.65 L837.77,9.56 L840.01,10.56 L842.22,11.63 L844.38,12.76 L846.51,13.97 L848.59,15.23 L850.63,16.56 L852.64,17.95 L854.59,19.38 L856.51,20.87 L858.38,22.40 L860.21,23.98 L861.99,25.60 L863.74,27.26 L865.44,28.95 L867.10,30.68 L868.71,32.45 L870.29,34.24 L871.83,36.07 L873.32,37.92 L874.78,39.80 L876.19,41.71 L877.56,43.65 L878.90,45.61 L880.19,47.60 L881.43,49.62 L882.64,51.66 L883.80,53.72 L884.91,55.82 L885.97,57.94 L886.98,60.08 L887.94,62.25 L888.85,64.44 L889.70,66.66 L890.49,68.89 L891.23,71.15 L891.90,73.43 L892.51,75.73 L893.05,78.04 L893.53,80.37 L893.93,82.71 L894.28,85.07 L894.55,87.43 L894.75,89.80 L894.88,92.17 L894.94,94.54 L894.93,96.92 L894.86,99.29 L894.71,101.66 L894.50,104.02 L894.22,106.38 L893.88,108.72 L893.48,111.05 L893.01,113.37 L892.49,115.68 L891.91,117.97 L891.27,120.24 L890.58,122.50 L889.84,124.73 L889.05,126.95 L888.20,129.15 L887.32,131.33 L886.38,133.49 L885.40,135.63 L884.37,137.75 L883.30,139.85 L882.18,141.92 L881.02,143.97 L879.82,146.00 L878.57,148.01 L877.28,149.98 L875.94,151.94 L874.55,153.86 L873.12,155.75 L871.64,157.61 L870.11,159.43 L868.54,161.22 L866.91,162.96 L865.24,164.67 L863.52,166.33 L861.75,167.93 L859.92,169.49 L858.06,170.99 L856.14,172.43 L854.18,173.82 L852.17,175.13 L850.12,176.39 L848.03,177.57 L845.90,178.68 L843.73,179.72 L841.53,180.68 L839.30,181.57 L837.04,182.38 L834.76,183.11 L832.46,183.76 L830.13,184.34 L827.80,184.83 L825.45,185.26 L823.09,185.60 L820.73,185.87 L818.36,186.07 L815.99,186.20 L813.63,186.27 L811.27,186.27 L808.92,186.20 L806.57,186.08 L804.24,185.89 L801.92,185.66 L799.60,185.37 L797.31,185.03 L795.02,184.64 L792.75,184.21 L790.49,183.73 L788.25,183.22 L786.02,182.66 L783.80,182.06 L781.60,181.42 L779.41,180.74 L777.24,180.02 L775.08,179.26 L772.94,178.46 L770.81,177.62 L768.70,176.74 L766.61,175.81 L764.54,174.84 L762.48,173.83 L760.45,172.77 L758.44,171.66 L756.46,170.50 L754.51,169.28 L752.58,168.02 L750.69,166.70 L748.84,165.33 L747.03,163.90 L745.26,162.42 L743.53,160.89 L741.86,159.30 L740.23,157.66 L738.66,155.97 L737.15,154.22 L735.69,152.43 L734.30,150.59 L732.97,148.70 L731.71,146.77 L730.51,144.80 L729.38,142.79 L728.32,140.75 L727.33,138.68 L726.41,136.58 L725.56,134.45 L724.78,132.30 L724.06,130.13 L723.42,127.95 L722.83,125.75 L722.32,123.54 L721.86,121.32 L721.47,119.10 L721.14,116.87 L720.86,114.64 L720.65,112.41 L720.48,110.19 L720.37,107.96 L720.31,105.74 L720.30,103.53 L720.33,101.32 L720.42,99.11Z" fill="#ffc867"/>
<path d="M293.42,490.96 L293.75,488.64 L294.13,486.35 L294.56,484.07 L295.04,481.80 L295.56,479.56 L296.13,477.34 L296.75,475.13 L297.40,472.95 L298.10,470.79 L298.83,468.64 L299.60,466.51 L300.41,464.41 L301.25,462.32 L302.13,460.25 L303.05,458.20 L303.99,456.17 L304.98,454.16 L305.99,452.17 L307.04,450.19 L308.13,448.24 L309.25,446.30 L310.40,444.39 L311.60,442.49 L312.82,440.61 L314.09,438.76 L315.39,436.92 L316.73,435.11 L318.11,433.32 L319.53,431.56 L320.98,429.82 L322.48,428.11 L324.02,426.44 L325.60,424.79 L327.23,423.17 L328.89,421.59 L330.60,420.05 L332.35,418.54 L334.14,417.08 L335.98,415.66 L337.85,414.29 L339.77,412.96 L341.73,411.68 L343.72,410.46 L345.76,409.29 L347.83,408.18 L349.94,407.12 L352.08,406.13 L354.26,405.21 L356.46,404.34 L358.70,403.55 L360.96,402.83 L363.25,402.17 L365.56,401.59 L367.88,401.09 L370.23,400.65 L372.59,400.30 L374.96,400.02 L377.34,399.82 L379.73,399.69 L382.12,399.65 L384.51,399.68 L386.90,399.79 L389.28,399.97 L391.65,400.23 L394.02,400.57 L396.37,400.98 L398.71,401.46 L401.02,402.02 L403.32,402.64 L405.60,403.33 L407.85,404.09 L410.08,404.91 L412.28,405.80 L414.44,406.75 L416.58,407.75 L418.69,408.81 L420.77,409.93 L422.81,411.10 L424.81,412.32 L426.78,413.60 L428.72,414.92 L430.61,416.28 L432.47,417.69 L434.29,419.15 L436.07,420.64 L437.81,422.18 L439.51,423.76 L441.17,425.37 L442.79,427.03 L444.36,428.72 L445.89,430.44 L447.37,432.21 L448.81,434.00 L450.20,435.83 L451.54,437.69 L452.83,439.58 L454.08,441.50 L455.27,443.45 L456.41,445.43 L457.49,447.44 L458.52,449.47 L459.50,451.53 L460.42,453.61 L461.28,455.71 L462.08,457.84 L462.82,459.98 L463.51,462.14 L464.13,464.31 L464.69,466.50 L465.20,468.70 L465.64,470.91 L466.02,473.12 L466.34,475.35 L466.61,477.58 L466.82,479.81 L466.97,482.04 L467.06,484.27 L467.10,486.50 L467.08,488.73 L467.01,490.96 L466.90,493.18 L466.73,495.39 L466.51,497.60 L466.25,499.80 L465.95,501.99 L465.59,504.18 L465.20,506.36 L464.77,508.52 L464.29,510.69 L463.78,512.84 L463.22,514.98 L462.63,517.12 L461.99,519.24 L461.32,521.36 L460.61,523.47 L459.86,525.57 L459.07,527.66 L458.24,529.74 L457.37,531.81 L456.45,533.87 L455.49,535.92 L454.48,537.95 L453.43,539.97 L452.33,541.97 L451.18,543.95 L449.98,545.91 L448.72,547.84 L447.42,549.75 L446.06,551.63 L444.64,553.48 L443.17,555.29 L441.64,557.06 L440.05,558.79 L438.41,560.47 L436.72,562.11 L434.96,563.69 L433.16,565.22 L431.30,566.69 L429.39,568.10 L427.44,569.45 L425.43,570.73 L423.38,571.94 L421.29,573.08 L419.16,574.15 L416.99,575.15 L414.79,576.07 L412.56,576.92 L410.30,577.69 L408.02,578.38 L405.71,579.01 L403.39,579.56 L401.05,580.03 L398.70,580.44 L396.34,580.77 L393.98,581.03 L391.61,581.23 L389.23,581.37 L386.86,581.44 L384.49,581.44 L382.12,581.39 L379.75,581.29 L377.39,581.13 L375.04,580.91 L372.69,580.65 L370.35,580.33 L368.02,579.97 L365.70,579.56 L363.38,579.10 L361.08,578.60 L358.78,578.05 L356.50,577.46 L354.22,576.82 L351.95,576.14 L349.70,575.41 L347.46,574.64 L345.23,573.82 L343.01,572.95 L340.81,572.03 L338.63,571.06 L336.46,570.03 L334.32,568.96 L332.20,567.83 L330.10,566.64 L328.04,565.40 L326.00,564.09 L324.00,562.73 L322.03,561.31 L320.10,559.83 L318.22,558.29 L316.38,556.69 L314.60,555.03 L312.86,553.32 L311.19,551.54 L309.57,549.71 L308.01,547.82 L306.53,545.88 L305.11,543.89 L303.76,541.85 L302.48,539.76 L301.28,537.63 L300.15,535.46 L299.11,533.25 L298.14,531.01 L297.25,528.74 L296.45,526.45 L295.72,524.12 L295.07,521.78 L294.51,519.42 L294.02,517.05 L293.61,514.67 L293.28,512.29 L293.02,509.90 L292.83,507.51 L292.72,505.12 L292.68,502.73 L292.70,500.36 L292.79,497.99 L292.94,495.63 L293.15,493.29Z" fill="#ffc867"/>
<rect x="0" y="582" width="1024" height="1" fill="#f2f1f4"/>
<rect x="0" y="583" width="1024" height="1" fill="#636467"/>
</svg>
<div class="t" style="left:121.3px;top:62.6px;font-weight:700;font-size:15.0px;letter-spacing:0.388px;color:#165b7c;-webkit-text-stroke:0.2px #165b7c;transform:scaleX(1.2)">CLIENTS SEEKING</div>
<div class="t" style="left:122px;top:82.8px;font-weight:700;font-size:15.0px;letter-spacing:0.383px;color:#165b7c;-webkit-text-stroke:0.2px #165b7c;transform:scaleX(1.2)">ACCESS TO CARE</div>
<div class="t" style="left:742.3px;top:64px;font-weight:700;font-size:15.0px;letter-spacing:0.375px;color:#165b7c;-webkit-text-stroke:0.2px #165b7c;transform:scaleX(1.2)">COUNSELORS</div>
<div class="t" style="left:726.2px;top:84px;font-weight:700;font-size:15.0px;letter-spacing:0.307px;color:#165b7c;-webkit-text-stroke:0.2px #165b7c;transform:scaleX(1.2)">PROVIDING CARE</div>
<div class="t" style="left:281.3px;top:464.3px;font-weight:700;font-size:15.0px;letter-spacing:0.411px;color:#165b7c;-webkit-text-stroke:0.2px #165b7c;transform:scaleX(1.2)">DONORS, PARTNERS</div>
<div class="t" style="left:306.7px;top:484px;font-weight:700;font-size:15.0px;letter-spacing:0.123px;color:#165b7c;-webkit-text-stroke:0.2px #165b7c;transform:scaleX(1.2)">&amp; VOLUNTEERS</div>
<div class="t" style="left:794.9px;top:453.2px;font-weight:700;font-size:15.6px;letter-spacing:1.09px;color:#a4a6a7;-webkit-text-stroke:0px #a4a6a7;transform:scaleX(1.08)">TOGETHER, FORMING</div>
<div class="t" style="left:784.9px;top:472.8px;font-weight:700;font-size:15.6px;letter-spacing:1.151px;color:#a4a6a7;-webkit-text-stroke:0px #a4a6a7;transform:scaleX(1.08)">ONE INTERCONNECTED</div>
<div class="t" style="left:807px;top:492.8px;font-weight:700;font-size:15.6px;letter-spacing:1.157px;color:#a4a6a7;-webkit-text-stroke:0px #a4a6a7;transform:scaleX(1.08)">VERMONT STRONG</div>
<div class="t" style="left:836.3px;top:512.9px;font-weight:700;font-size:15.6px;letter-spacing:1.604px;color:#a4a6a7;-webkit-text-stroke:0px #a4a6a7;transform:scaleX(1.08)">COMMUNITY</div>
<div class="t" style="left:292.3px;top:162.8px;font-weight:400;font-size:21.5px;letter-spacing:4.009px;color:#111111;-webkit-text-stroke:0.6px #111111;transform:scaleX(0.92)">APPLY</div>
<div class="t" style="left:599.9px;top:161.5px;font-weight:400;font-size:21.5px;letter-spacing:2.685px;color:#111111;-webkit-text-stroke:0.6px #111111;transform:scaleX(0.92)">REGISTER</div>
<div class="t" style="left:394.2px;top:393.9px;font-weight:400;font-size:21.5px;letter-spacing:3.528px;color:#111111;-webkit-text-stroke:0.6px #111111;transform:scaleX(0.92)">CONTRIBUTE</div>
<div class="t" style="left:103.7px;top:222.8px;font-weight:400;font-size:11.8px;letter-spacing:1.769px;color:#8c285b;-webkit-text-stroke:0.2px #8c285b;transform:scaleX(0.94)">GRANTS ARE AWARDED</div>
<div class="t" style="left:80.9px;top:238px;font-weight:400;font-size:11.8px;letter-spacing:1.522px;color:#8c285b;-webkit-text-stroke:0.2px #8c285b;transform:scaleX(0.94)">QUARTERLY, BASED ON NEEDS</div>
<div class="t" style="left:107.8px;top:253.8px;font-weight:400;font-size:11.8px;letter-spacing:1.86px;color:#8c285b;-webkit-text-stroke:0.2px #8c285b;transform:scaleX(0.94)">&amp; FUND AVAILABILITY</div>
<div class="t" style="left:684.3px;top:221.5px;font-weight:400;font-size:11.8px;letter-spacing:1.358px;color:#8c285b;-webkit-text-stroke:0.2px #8c285b;transform:scaleX(0.94)">ONCE APPROVED, AFTER EACH SESSION,</div>
<div class="t" style="left:688.7px;top:236.6px;font-weight:400;font-size:11.8px;letter-spacing:1.427px;color:#8c285b;-webkit-text-stroke:0.2px #8c285b;transform:scaleX(0.94)">COUNSELORS BILL THE FUND DIRECTLY</div>
<div class="t" style="left:697.6px;top:252.3px;font-weight:400;font-size:11.8px;letter-spacing:1.478px;color:#8c285b;-webkit-text-stroke:0.2px #8c285b;transform:scaleX(0.94)">THROUGH A SIMPLE CLAIM PROCESS</div>
<div class="t" style="left:523.6px;top:428.4px;font-weight:400;font-size:11.8px;letter-spacing:1.479px;color:#8c285b;-webkit-text-stroke:0.2px #8c285b;transform:scaleX(0.94)">BUILDING THE BRIDGE TO CARE</div>
<div class="t" style="left:544.3px;top:443.6px;font-weight:400;font-size:11.8px;letter-spacing:1.547px;color:#8c285b;-webkit-text-stroke:0.2px #8c285b;transform:scaleX(0.94)">TOGETHER WITH DEEPLY-</div>
<div class="t" style="left:551.9px;top:459.4px;font-weight:400;font-size:11.8px;letter-spacing:1.588px;color:#8c285b;-webkit-text-stroke:0.2px #8c285b;transform:scaleX(0.94)">VALUED FUNDS &amp; TIME</div>
<div class="t" style="left:404.9px;top:316.7px;font-weight:400;font-size:13.7px;letter-spacing:1.656px;color:#2b2b2b;-webkit-text-stroke:0.25px #2b2b2b;transform:scaleX(0.96)">Bridge to Care Fund</div>
</body></html>
